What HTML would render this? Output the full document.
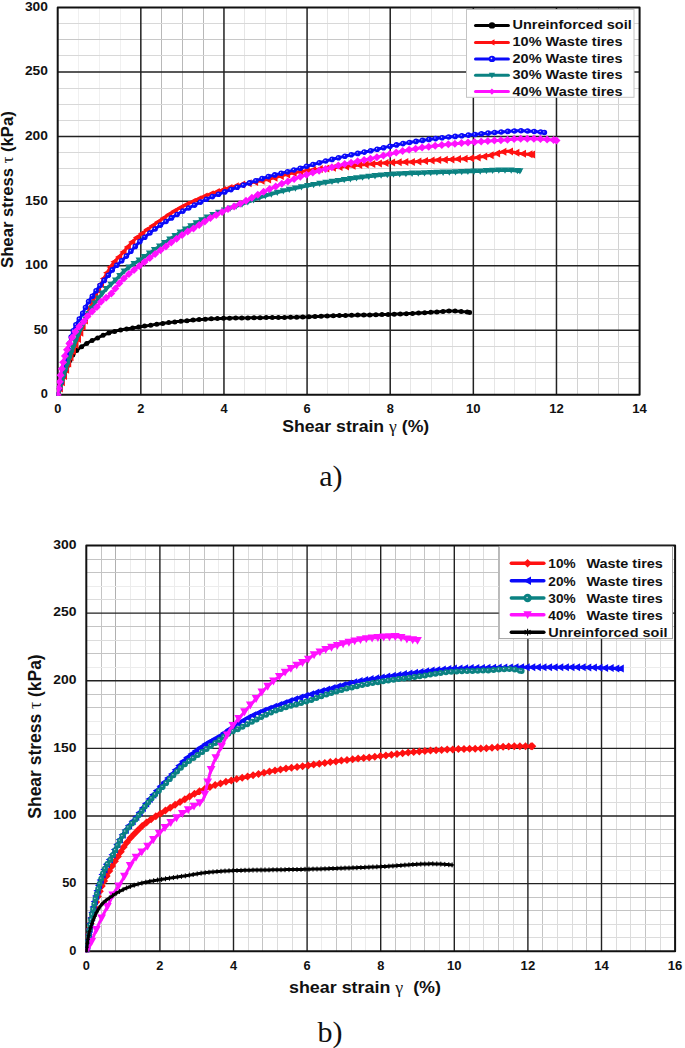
<!DOCTYPE html>
<html><head><meta charset="utf-8"><style>
html,body{margin:0;padding:0;background:#fff;width:685px;height:1048px;overflow:hidden}

</style></head><body>
<svg width="685" height="1048" viewBox="0 0 685 1048" style="display:block">
<rect width="685" height="1048" fill="#fff"/>
<path d="M78.50 7.46V394.85" stroke="#f0f0f0" stroke-width="1"/>
<path d="M99.50 7.46V394.85" stroke="#f0f0f0" stroke-width="1"/>
<path d="M120.50 7.46V394.85" stroke="#f0f0f0" stroke-width="1"/>
<path d="M161.50 7.46V394.85" stroke="#b8b8b8" stroke-width="1"/>
<path d="M182.50 7.46V394.85" stroke="#b8b8b8" stroke-width="1"/>
<path d="M203.50 7.46V394.85" stroke="#b8b8b8" stroke-width="1"/>
<path d="M244.50 7.46V394.85" stroke="#e6e6e6" stroke-width="1"/>
<path d="M265.50 7.46V394.85" stroke="#e6e6e6" stroke-width="1"/>
<path d="M286.50 7.46V394.85" stroke="#e6e6e6" stroke-width="1"/>
<path d="M327.50 7.46V394.85" stroke="#e6e6e6" stroke-width="1"/>
<path d="M348.50 7.46V394.85" stroke="#e6e6e6" stroke-width="1"/>
<path d="M369.50 7.46V394.85" stroke="#e6e6e6" stroke-width="1"/>
<path d="M410.50 7.46V394.85" stroke="#e6e6e6" stroke-width="1"/>
<path d="M431.50 7.46V394.85" stroke="#e6e6e6" stroke-width="1"/>
<path d="M452.50 7.46V394.85" stroke="#e6e6e6" stroke-width="1"/>
<path d="M494.50 7.46V394.85" stroke="#e6e6e6" stroke-width="1"/>
<path d="M514.50 7.46V394.85" stroke="#e6e6e6" stroke-width="1"/>
<path d="M535.50 7.46V394.85" stroke="#e6e6e6" stroke-width="1"/>
<path d="M577.50 7.46V394.85" stroke="#d2d2d2" stroke-width="1"/>
<path d="M598.50 7.46V394.85" stroke="#d2d2d2" stroke-width="1"/>
<path d="M618.50 7.46V394.85" stroke="#d2d2d2" stroke-width="1"/>
<path d="M57.70 378.50H639.60" stroke="#d8d8d8" stroke-width="1"/>
<path d="M57.70 362.50H639.60" stroke="#d8d8d8" stroke-width="1"/>
<path d="M57.70 346.50H639.60" stroke="#d8d8d8" stroke-width="1"/>
<path d="M57.70 314.50H639.60" stroke="#d8d8d8" stroke-width="1"/>
<path d="M57.70 298.50H639.60" stroke="#d8d8d8" stroke-width="1"/>
<path d="M57.70 281.50H639.60" stroke="#c8c8c8" stroke-width="1"/>
<path d="M57.70 249.50H639.60" stroke="#d8d8d8" stroke-width="1"/>
<path d="M57.70 233.50H639.60" stroke="#d8d8d8" stroke-width="1"/>
<path d="M57.70 217.50H639.60" stroke="#d8d8d8" stroke-width="1"/>
<path d="M57.70 185.50H639.60" stroke="#d8d8d8" stroke-width="1"/>
<path d="M57.70 168.50H639.60" stroke="#d8d8d8" stroke-width="1"/>
<path d="M57.70 152.50H639.60" stroke="#d8d8d8" stroke-width="1"/>
<path d="M57.70 120.50H639.60" stroke="#d8d8d8" stroke-width="1"/>
<path d="M57.70 104.50H639.60" stroke="#d8d8d8" stroke-width="1"/>
<path d="M57.70 88.50H639.60" stroke="#d8d8d8" stroke-width="1"/>
<path d="M57.70 55.50H639.60" stroke="#d8d8d8" stroke-width="1"/>
<path d="M57.70 39.50H639.60" stroke="#c8c8c8" stroke-width="1"/>
<path d="M57.70 23.50H639.60" stroke="#d8d8d8" stroke-width="1"/>
<path d="M140.83 7.46V394.85M223.96 7.46V394.85M307.08 7.46V394.85M390.21 7.46V394.85M473.34 7.46V394.85M556.47 7.46V394.85M57.70 330.29H639.60M57.70 265.72H639.60M57.70 201.16H639.60M57.70 136.59H639.60M57.70 72.03H639.60" stroke="#222" stroke-width="1.5" fill="none"/>
<rect x="57.70" y="7.46" width="581.90" height="387.39" fill="none" stroke="#111" stroke-width="2" stroke-linejoin="round"/>
<clipPath id="ca"><rect x="56.70" y="7.46" width="582.90" height="388.39"/></clipPath><g clip-path="url(#ca)">
<path d="M57.7 394.9 L58.5 391.3 L59.4 388.0 L60.2 384.9 L61.0 382.0 L61.9 379.4 L62.7 377.0 L63.5 374.9 L64.4 372.9 L65.2 370.9 L66.0 369.0 L66.8 367.1 L67.7 365.2 L68.5 363.4 L69.3 361.6 L70.2 360.0 L71.0 358.4 L71.8 356.8 L72.7 355.3 L73.5 354.0 L74.3 352.9 L75.2 352.0 L76.0 351.1 L76.8 350.4 L77.7 349.7 L78.5 349.0 L79.3 348.4 L80.1 347.8 L81.0 347.2 L81.8 346.6 L82.6 346.1 L83.5 345.5 L84.3 344.9 L85.1 344.4 L86.0 343.9 L86.8 343.4 L87.6 342.9 L88.5 342.4 L89.3 341.9 L90.1 341.5 L91.0 341.1 L91.8 340.7 L92.6 340.3 L93.4 339.9 L94.3 339.5 L95.1 339.1 L95.9 338.7 L96.8 338.3 L97.6 337.9 L98.4 337.5 L99.3 337.1 L100.1 336.7 L100.9 336.3 L101.8 335.9 L102.6 335.5 L103.4 335.2 L104.3 334.8 L105.1 334.5 L105.9 334.1 L106.7 333.8 L107.6 333.5 L108.4 333.2 L109.2 332.9 L110.1 332.7 L110.9 332.4 L111.7 332.2 L112.6 331.9 L113.4 331.7 L114.2 331.5 L115.1 331.3 L115.9 331.0 L116.7 330.8 L117.6 330.6 L118.4 330.5 L119.2 330.3 L120.0 330.1 L120.9 329.9 L121.7 329.8 L122.5 329.6 L123.4 329.5 L124.2 329.3 L125.0 329.2 L125.9 329.1 L126.7 328.9 L127.5 328.8 L128.4 328.7 L129.2 328.5 L130.0 328.4 L130.9 328.3 L131.7 328.1 L132.5 328.0 L133.3 327.9 L134.2 327.7 L135.0 327.6 L135.8 327.5 L136.7 327.4 L137.5 327.2 L138.3 327.1 L139.2 327.0 L140.0 326.9 L140.8 326.7 L141.7 326.6 L142.5 326.5 L143.3 326.3 L144.2 326.2 L145.0 326.1 L145.8 326.0 L146.6 325.8 L147.5 325.7 L148.3 325.6 L149.1 325.4 L150.0 325.3 L150.8 325.2 L151.6 325.0 L152.5 324.9 L153.3 324.8 L154.1 324.6 L155.0 324.5 L155.8 324.4 L156.6 324.3 L157.5 324.2 L158.3 324.0 L159.1 323.9 L159.9 323.8 L160.8 323.7 L161.6 323.6 L162.4 323.5 L163.3 323.4 L164.1 323.2 L164.9 323.1 L165.8 323.0 L166.6 322.9 L167.4 322.8 L168.3 322.7 L169.1 322.6 L169.9 322.5 L170.8 322.4 L171.6 322.3 L172.4 322.2 L173.2 322.1 L174.1 322.0 L174.9 321.9 L175.7 321.8 L176.6 321.7 L177.4 321.6 L178.2 321.5 L179.1 321.5 L179.9 321.4 L180.7 321.3 L181.6 321.2 L182.4 321.1 L183.2 321.0 L184.1 321.0 L184.9 320.9 L185.7 320.8 L186.5 320.7 L187.4 320.6 L188.2 320.5 L189.0 320.5 L189.9 320.4 L190.7 320.3 L191.5 320.2 L192.4 320.1 L193.2 320.1 L194.0 320.0 L194.9 319.9 L195.7 319.9 L196.5 319.8 L197.4 319.7 L198.2 319.7 L199.0 319.6 L199.8 319.5 L200.7 319.5 L201.5 319.4 L202.3 319.4 L203.2 319.3 L204.0 319.3 L204.8 319.2 L205.7 319.2 L206.5 319.1 L207.3 319.1 L208.2 319.0 L209.0 319.0 L209.8 318.9 L210.7 318.9 L211.5 318.8 L212.3 318.8 L213.1 318.7 L214.0 318.7 L214.8 318.7 L215.6 318.6 L216.5 318.6 L217.3 318.5 L218.1 318.5 L219.0 318.5 L219.8 318.4 L220.6 318.4 L221.5 318.4 L222.3 318.4 L223.1 318.3 L224.0 318.3 L224.8 318.3 L225.6 318.3 L226.4 318.2 L227.3 318.2 L228.1 318.2 L228.9 318.2 L229.8 318.2 L230.6 318.2 L231.4 318.1 L232.3 318.1 L233.1 318.1 L233.9 318.1 L234.8 318.1 L235.6 318.1 L236.4 318.0 L237.3 318.0 L238.1 318.0 L238.9 318.0 L239.8 318.0 L240.6 318.0 L241.4 318.0 L242.2 317.9 L243.1 317.9 L243.9 317.9 L244.7 317.9 L245.6 317.9 L246.4 317.9 L247.2 317.9 L248.1 317.9 L248.9 317.9 L249.7 317.8 L250.6 317.8 L251.4 317.8 L252.2 317.8 L253.1 317.8 L253.9 317.8 L254.7 317.8 L255.5 317.8 L256.4 317.8 L257.2 317.7 L258.0 317.7 L258.9 317.7 L259.7 317.7 L260.5 317.7 L261.4 317.7 L262.2 317.7 L263.0 317.7 L263.9 317.7 L264.7 317.6 L265.5 317.6 L266.4 317.6 L267.2 317.6 L268.0 317.6 L268.8 317.6 L269.7 317.6 L270.5 317.6 L271.3 317.5 L272.2 317.5 L273.0 317.5 L273.8 317.5 L274.7 317.5 L275.5 317.5 L276.3 317.5 L277.2 317.5 L278.0 317.5 L278.8 317.5 L279.7 317.4 L280.5 317.4 L281.3 317.4 L282.1 317.4 L283.0 317.4 L283.8 317.4 L284.6 317.4 L285.5 317.4 L286.3 317.4 L287.1 317.3 L288.0 317.3 L288.8 317.3 L289.6 317.3 L290.5 317.3 L291.3 317.3 L292.1 317.3 L293.0 317.3 L293.8 317.2 L294.6 317.2 L295.4 317.2 L296.3 317.2 L297.1 317.2 L297.9 317.2 L298.8 317.1 L299.6 317.1 L300.4 317.1 L301.3 317.1 L302.1 317.1 L302.9 317.0 L303.8 317.0 L304.6 317.0 L305.4 317.0 L306.3 316.9 L307.1 316.9 L307.9 316.9 L308.7 316.8 L309.6 316.8 L310.4 316.8 L311.2 316.7 L312.1 316.7 L312.9 316.6 L313.7 316.6 L314.6 316.6 L315.4 316.5 L316.2 316.5 L317.1 316.5 L317.9 316.4 L318.7 316.4 L319.6 316.3 L320.4 316.3 L321.2 316.2 L322.0 316.2 L322.9 316.2 L323.7 316.1 L324.5 316.1 L325.4 316.1 L326.2 316.0 L327.0 316.0 L327.9 315.9 L328.7 315.9 L329.5 315.9 L330.4 315.8 L331.2 315.8 L332.0 315.8 L332.9 315.7 L333.7 315.7 L334.5 315.7 L335.3 315.7 L336.2 315.6 L337.0 315.6 L337.8 315.6 L338.7 315.6 L339.5 315.5 L340.3 315.5 L341.2 315.5 L342.0 315.5 L342.8 315.5 L343.7 315.4 L344.5 315.4 L345.3 315.4 L346.2 315.4 L347.0 315.4 L347.8 315.3 L348.6 315.3 L349.5 315.3 L350.3 315.3 L351.1 315.3 L352.0 315.3 L352.8 315.2 L353.6 315.2 L354.5 315.2 L355.3 315.2 L356.1 315.2 L357.0 315.2 L357.8 315.1 L358.6 315.1 L359.5 315.1 L360.3 315.1 L361.1 315.1 L361.9 315.1 L362.8 315.0 L363.6 315.0 L364.4 315.0 L365.3 315.0 L366.1 315.0 L366.9 315.0 L367.8 314.9 L368.6 314.9 L369.4 314.9 L370.3 314.9 L371.1 314.9 L371.9 314.9 L372.8 314.8 L373.6 314.8 L374.4 314.8 L375.2 314.8 L376.1 314.8 L376.9 314.7 L377.7 314.7 L378.6 314.7 L379.4 314.7 L380.2 314.7 L381.1 314.6 L381.9 314.6 L382.7 314.6 L383.6 314.6 L384.4 314.5 L385.2 314.5 L386.1 314.5 L386.9 314.5 L387.7 314.4 L388.5 314.4 L389.4 314.4 L390.2 314.4 L391.0 314.3 L391.9 314.3 L392.7 314.3 L393.5 314.2 L394.4 314.2 L395.2 314.2 L396.0 314.1 L396.9 314.1 L397.7 314.1 L398.5 314.0 L399.4 314.0 L400.2 314.0 L401.0 313.9 L401.8 313.9 L402.7 313.9 L403.5 313.8 L404.3 313.8 L405.2 313.7 L406.0 313.7 L406.8 313.7 L407.7 313.6 L408.5 313.6 L409.3 313.5 L410.2 313.5 L411.0 313.4 L411.8 313.4 L412.7 313.3 L413.5 313.3 L414.3 313.3 L415.2 313.2 L416.0 313.2 L416.8 313.1 L417.6 313.1 L418.5 313.0 L419.3 313.0 L420.1 312.9 L421.0 312.9 L421.8 312.8 L422.6 312.8 L423.5 312.7 L424.3 312.7 L425.1 312.6 L426.0 312.6 L426.8 312.5 L427.6 312.5 L428.5 312.4 L429.3 312.4 L430.1 312.3 L430.9 312.3 L431.8 312.2 L432.6 312.2 L433.4 312.1 L434.3 312.1 L435.1 312.0 L435.9 312.0 L436.8 311.9 L437.6 311.9 L438.4 311.8 L439.3 311.8 L440.1 311.7 L440.9 311.6 L441.8 311.5 L442.6 311.5 L443.4 311.4 L444.2 311.3 L445.1 311.3 L445.9 311.2 L446.7 311.1 L447.6 311.1 L448.4 311.1 L449.2 311.1 L450.1 311.0 L450.9 311.0 L451.7 311.1 L452.6 311.1 L453.4 311.1 L454.2 311.1 L455.1 311.1 L455.9 311.2 L456.7 311.2 L457.5 311.2 L458.4 311.3 L459.2 311.3 L460.0 311.4 L460.9 311.4 L461.7 311.5 L462.5 311.6 L463.4 311.7 L464.2 311.8 L465.0 311.8 L465.9 311.9 L466.7 312.1 L467.5 312.2 L468.4 312.3 L469.2 312.4 L469.6 312.5" stroke="#000" stroke-width="3" fill="none" stroke-linejoin="round" stroke-linecap="round"/>
<path d="M55.2 394.9a2.5 2.5 0 1 0 5.0 0a2.5 2.5 0 1 0 -5.0 0ZM56.6 388.9a2.5 2.5 0 1 0 5.0 0a2.5 2.5 0 1 0 -5.0 0ZM58.2 383.0a2.5 2.5 0 1 0 5.0 0a2.5 2.5 0 1 0 -5.0 0ZM60.1 377.2a2.5 2.5 0 1 0 5.0 0a2.5 2.5 0 1 0 -5.0 0ZM62.4 371.6a2.5 2.5 0 1 0 5.0 0a2.5 2.5 0 1 0 -5.0 0ZM64.8 366.0a2.5 2.5 0 1 0 5.0 0a2.5 2.5 0 1 0 -5.0 0ZM67.4 360.5a2.5 2.5 0 1 0 5.0 0a2.5 2.5 0 1 0 -5.0 0ZM70.3 355.1a2.5 2.5 0 1 0 5.0 0a2.5 2.5 0 1 0 -5.0 0ZM74.2 350.5a2.5 2.5 0 1 0 5.0 0a2.5 2.5 0 1 0 -5.0 0ZM79.1 346.8a2.5 2.5 0 1 0 5.0 0a2.5 2.5 0 1 0 -5.0 0ZM84.2 343.4a2.5 2.5 0 1 0 5.0 0a2.5 2.5 0 1 0 -5.0 0ZM89.6 340.6a2.5 2.5 0 1 0 5.0 0a2.5 2.5 0 1 0 -5.0 0ZM95.1 337.9a2.5 2.5 0 1 0 5.0 0a2.5 2.5 0 1 0 -5.0 0ZM100.6 335.3a2.5 2.5 0 1 0 5.0 0a2.5 2.5 0 1 0 -5.0 0ZM106.3 333.1a2.5 2.5 0 1 0 5.0 0a2.5 2.5 0 1 0 -5.0 0ZM112.1 331.4a2.5 2.5 0 1 0 5.0 0a2.5 2.5 0 1 0 -5.0 0ZM118.1 330.0a2.5 2.5 0 1 0 5.0 0a2.5 2.5 0 1 0 -5.0 0ZM124.1 329.0a2.5 2.5 0 1 0 5.0 0a2.5 2.5 0 1 0 -5.0 0ZM130.1 328.0a2.5 2.5 0 1 0 5.0 0a2.5 2.5 0 1 0 -5.0 0ZM136.1 327.1a2.5 2.5 0 1 0 5.0 0a2.5 2.5 0 1 0 -5.0 0ZM142.1 326.1a2.5 2.5 0 1 0 5.0 0a2.5 2.5 0 1 0 -5.0 0ZM148.2 325.2a2.5 2.5 0 1 0 5.0 0a2.5 2.5 0 1 0 -5.0 0ZM154.2 324.3a2.5 2.5 0 1 0 5.0 0a2.5 2.5 0 1 0 -5.0 0ZM160.2 323.4a2.5 2.5 0 1 0 5.0 0a2.5 2.5 0 1 0 -5.0 0ZM166.3 322.6a2.5 2.5 0 1 0 5.0 0a2.5 2.5 0 1 0 -5.0 0ZM172.3 321.9a2.5 2.5 0 1 0 5.0 0a2.5 2.5 0 1 0 -5.0 0ZM178.4 321.3a2.5 2.5 0 1 0 5.0 0a2.5 2.5 0 1 0 -5.0 0ZM184.5 320.7a2.5 2.5 0 1 0 5.0 0a2.5 2.5 0 1 0 -5.0 0ZM190.6 320.1a2.5 2.5 0 1 0 5.0 0a2.5 2.5 0 1 0 -5.0 0ZM196.6 319.6a2.5 2.5 0 1 0 5.0 0a2.5 2.5 0 1 0 -5.0 0ZM202.7 319.2a2.5 2.5 0 1 0 5.0 0a2.5 2.5 0 1 0 -5.0 0ZM208.8 318.8a2.5 2.5 0 1 0 5.0 0a2.5 2.5 0 1 0 -5.0 0ZM214.9 318.5a2.5 2.5 0 1 0 5.0 0a2.5 2.5 0 1 0 -5.0 0ZM221.0 318.3a2.5 2.5 0 1 0 5.0 0a2.5 2.5 0 1 0 -5.0 0ZM227.1 318.2a2.5 2.5 0 1 0 5.0 0a2.5 2.5 0 1 0 -5.0 0ZM233.2 318.1a2.5 2.5 0 1 0 5.0 0a2.5 2.5 0 1 0 -5.0 0ZM239.3 318.0a2.5 2.5 0 1 0 5.0 0a2.5 2.5 0 1 0 -5.0 0ZM245.4 317.9a2.5 2.5 0 1 0 5.0 0a2.5 2.5 0 1 0 -5.0 0ZM251.5 317.8a2.5 2.5 0 1 0 5.0 0a2.5 2.5 0 1 0 -5.0 0ZM257.6 317.7a2.5 2.5 0 1 0 5.0 0a2.5 2.5 0 1 0 -5.0 0ZM263.7 317.6a2.5 2.5 0 1 0 5.0 0a2.5 2.5 0 1 0 -5.0 0ZM269.8 317.5a2.5 2.5 0 1 0 5.0 0a2.5 2.5 0 1 0 -5.0 0ZM275.9 317.5a2.5 2.5 0 1 0 5.0 0a2.5 2.5 0 1 0 -5.0 0ZM282.0 317.4a2.5 2.5 0 1 0 5.0 0a2.5 2.5 0 1 0 -5.0 0ZM288.1 317.3a2.5 2.5 0 1 0 5.0 0a2.5 2.5 0 1 0 -5.0 0ZM294.2 317.2a2.5 2.5 0 1 0 5.0 0a2.5 2.5 0 1 0 -5.0 0ZM300.3 317.0a2.5 2.5 0 1 0 5.0 0a2.5 2.5 0 1 0 -5.0 0ZM306.4 316.8a2.5 2.5 0 1 0 5.0 0a2.5 2.5 0 1 0 -5.0 0ZM312.5 316.6a2.5 2.5 0 1 0 5.0 0a2.5 2.5 0 1 0 -5.0 0ZM318.6 316.3a2.5 2.5 0 1 0 5.0 0a2.5 2.5 0 1 0 -5.0 0ZM324.7 316.0a2.5 2.5 0 1 0 5.0 0a2.5 2.5 0 1 0 -5.0 0ZM330.8 315.7a2.5 2.5 0 1 0 5.0 0a2.5 2.5 0 1 0 -5.0 0ZM336.9 315.6a2.5 2.5 0 1 0 5.0 0a2.5 2.5 0 1 0 -5.0 0ZM343.0 315.4a2.5 2.5 0 1 0 5.0 0a2.5 2.5 0 1 0 -5.0 0ZM349.1 315.3a2.5 2.5 0 1 0 5.0 0a2.5 2.5 0 1 0 -5.0 0ZM355.2 315.1a2.5 2.5 0 1 0 5.0 0a2.5 2.5 0 1 0 -5.0 0ZM361.3 315.0a2.5 2.5 0 1 0 5.0 0a2.5 2.5 0 1 0 -5.0 0ZM367.3 314.9a2.5 2.5 0 1 0 5.0 0a2.5 2.5 0 1 0 -5.0 0ZM373.4 314.8a2.5 2.5 0 1 0 5.0 0a2.5 2.5 0 1 0 -5.0 0ZM379.5 314.6a2.5 2.5 0 1 0 5.0 0a2.5 2.5 0 1 0 -5.0 0ZM385.6 314.4a2.5 2.5 0 1 0 5.0 0a2.5 2.5 0 1 0 -5.0 0ZM391.7 314.2a2.5 2.5 0 1 0 5.0 0a2.5 2.5 0 1 0 -5.0 0ZM397.8 314.0a2.5 2.5 0 1 0 5.0 0a2.5 2.5 0 1 0 -5.0 0ZM403.9 313.7a2.5 2.5 0 1 0 5.0 0a2.5 2.5 0 1 0 -5.0 0ZM410.0 313.4a2.5 2.5 0 1 0 5.0 0a2.5 2.5 0 1 0 -5.0 0ZM416.1 313.0a2.5 2.5 0 1 0 5.0 0a2.5 2.5 0 1 0 -5.0 0ZM422.2 312.7a2.5 2.5 0 1 0 5.0 0a2.5 2.5 0 1 0 -5.0 0ZM428.3 312.3a2.5 2.5 0 1 0 5.0 0a2.5 2.5 0 1 0 -5.0 0ZM434.4 311.9a2.5 2.5 0 1 0 5.0 0a2.5 2.5 0 1 0 -5.0 0ZM440.5 311.4a2.5 2.5 0 1 0 5.0 0a2.5 2.5 0 1 0 -5.0 0ZM446.5 311.1a2.5 2.5 0 1 0 5.0 0a2.5 2.5 0 1 0 -5.0 0ZM452.6 311.1a2.5 2.5 0 1 0 5.0 0a2.5 2.5 0 1 0 -5.0 0ZM458.7 311.5a2.5 2.5 0 1 0 5.0 0a2.5 2.5 0 1 0 -5.0 0ZM464.8 312.1a2.5 2.5 0 1 0 5.0 0a2.5 2.5 0 1 0 -5.0 0ZM467.1 312.5a2.5 2.5 0 1 0 5.0 0a2.5 2.5 0 1 0 -5.0 0Z" fill="#000"/>
<path d="M57.7 394.9 L58.5 392.2 L59.4 389.5 L60.2 386.9 L61.0 384.3 L61.9 381.8 L62.7 379.2 L63.5 376.7 L64.4 374.2 L65.2 371.8 L66.0 369.3 L66.8 366.8 L67.7 364.4 L68.5 362.1 L69.3 359.8 L70.2 357.6 L71.0 355.5 L71.8 353.4 L72.7 351.4 L73.5 349.4 L74.3 347.4 L75.2 345.5 L76.0 343.5 L76.8 341.4 L77.7 339.3 L78.5 337.2 L79.3 335.0 L80.1 332.8 L81.0 330.5 L81.8 328.3 L82.6 326.0 L83.5 323.8 L84.3 321.6 L85.1 319.4 L86.0 317.1 L86.8 314.9 L87.6 312.7 L88.5 310.6 L89.3 308.6 L90.1 306.7 L91.0 304.8 L91.8 302.9 L92.6 301.1 L93.4 299.3 L94.3 297.6 L95.1 295.8 L95.9 294.1 L96.8 292.4 L97.6 290.7 L98.4 289.0 L99.3 287.3 L100.1 285.7 L100.9 284.1 L101.8 282.4 L102.6 280.8 L103.4 279.3 L104.3 277.7 L105.1 276.2 L105.9 274.7 L106.7 273.3 L107.6 271.8 L108.4 270.4 L109.2 269.0 L110.1 267.6 L110.9 266.3 L111.7 265.1 L112.6 263.9 L113.4 262.9 L114.2 261.9 L115.1 261.0 L115.9 260.1 L116.7 259.2 L117.6 258.4 L118.4 257.5 L119.2 256.7 L120.0 255.8 L120.9 254.9 L121.7 253.9 L122.5 253.0 L123.4 252.0 L124.2 251.1 L125.0 250.1 L125.9 249.1 L126.7 248.2 L127.5 247.2 L128.4 246.3 L129.2 245.3 L130.0 244.4 L130.9 243.5 L131.7 242.6 L132.5 241.7 L133.3 240.9 L134.2 240.0 L135.0 239.2 L135.8 238.5 L136.7 237.7 L137.5 237.0 L138.3 236.3 L139.2 235.6 L140.0 234.9 L140.8 234.3 L141.7 233.6 L142.5 233.0 L143.3 232.3 L144.2 231.7 L145.0 231.1 L145.8 230.5 L146.6 229.9 L147.5 229.3 L148.3 228.7 L149.1 228.1 L150.0 227.6 L150.8 227.0 L151.6 226.4 L152.5 225.8 L153.3 225.3 L154.1 224.7 L155.0 224.1 L155.8 223.5 L156.6 222.9 L157.5 222.4 L158.3 221.8 L159.1 221.2 L159.9 220.6 L160.8 220.1 L161.6 219.5 L162.4 218.9 L163.3 218.4 L164.1 217.8 L164.9 217.2 L165.8 216.7 L166.6 216.1 L167.4 215.6 L168.3 215.0 L169.1 214.5 L169.9 214.0 L170.8 213.4 L171.6 212.9 L172.4 212.4 L173.2 211.9 L174.1 211.4 L174.9 210.9 L175.7 210.4 L176.6 209.9 L177.4 209.5 L178.2 209.0 L179.1 208.5 L179.9 208.1 L180.7 207.6 L181.6 207.2 L182.4 206.8 L183.2 206.3 L184.1 205.9 L184.9 205.5 L185.7 205.0 L186.5 204.6 L187.4 204.2 L188.2 203.8 L189.0 203.4 L189.9 203.0 L190.7 202.6 L191.5 202.2 L192.4 201.8 L193.2 201.4 L194.0 201.0 L194.9 200.7 L195.7 200.3 L196.5 199.9 L197.4 199.6 L198.2 199.2 L199.0 198.8 L199.8 198.5 L200.7 198.1 L201.5 197.8 L202.3 197.4 L203.2 197.1 L204.0 196.7 L204.8 196.4 L205.7 196.1 L206.5 195.7 L207.3 195.4 L208.2 195.1 L209.0 194.7 L209.8 194.4 L210.7 194.1 L211.5 193.8 L212.3 193.5 L213.1 193.2 L214.0 192.9 L214.8 192.6 L215.6 192.3 L216.5 192.0 L217.3 191.7 L218.1 191.5 L219.0 191.2 L219.8 190.9 L220.6 190.6 L221.5 190.4 L222.3 190.1 L223.1 189.8 L224.0 189.6 L224.8 189.3 L225.6 189.1 L226.4 188.8 L227.3 188.6 L228.1 188.3 L228.9 188.1 L229.8 187.8 L230.6 187.6 L231.4 187.4 L232.3 187.1 L233.1 186.9 L233.9 186.7 L234.8 186.4 L235.6 186.2 L236.4 186.0 L237.3 185.8 L238.1 185.6 L238.9 185.4 L239.8 185.2 L240.6 185.0 L241.4 184.8 L242.2 184.6 L243.1 184.4 L243.9 184.2 L244.7 184.0 L245.6 183.8 L246.4 183.6 L247.2 183.5 L248.1 183.3 L248.9 183.1 L249.7 183.0 L250.6 182.8 L251.4 182.7 L252.2 182.5 L253.1 182.3 L253.9 182.2 L254.7 182.0 L255.5 181.9 L256.4 181.7 L257.2 181.6 L258.0 181.4 L258.9 181.2 L259.7 181.1 L260.5 180.9 L261.4 180.8 L262.2 180.6 L263.0 180.4 L263.9 180.3 L264.7 180.1 L265.5 179.9 L266.4 179.7 L267.2 179.6 L268.0 179.4 L268.8 179.2 L269.7 179.0 L270.5 178.8 L271.3 178.6 L272.2 178.4 L273.0 178.1 L273.8 177.9 L274.7 177.7 L275.5 177.5 L276.3 177.2 L277.2 177.0 L278.0 176.8 L278.8 176.6 L279.7 176.3 L280.5 176.1 L281.3 175.9 L282.1 175.6 L283.0 175.4 L283.8 175.2 L284.6 175.0 L285.5 174.8 L286.3 174.5 L287.1 174.3 L288.0 174.1 L288.8 173.9 L289.6 173.7 L290.5 173.6 L291.3 173.4 L292.1 173.2 L293.0 173.0 L293.8 172.9 L294.6 172.7 L295.4 172.6 L296.3 172.4 L297.1 172.3 L297.9 172.1 L298.8 172.0 L299.6 171.9 L300.4 171.7 L301.3 171.6 L302.1 171.5 L302.9 171.3 L303.8 171.2 L304.6 171.1 L305.4 171.0 L306.3 170.8 L307.1 170.7 L307.9 170.6 L308.7 170.5 L309.6 170.4 L310.4 170.3 L311.2 170.1 L312.1 170.0 L312.9 169.9 L313.7 169.8 L314.6 169.7 L315.4 169.6 L316.2 169.5 L317.1 169.4 L317.9 169.3 L318.7 169.2 L319.6 169.1 L320.4 169.0 L321.2 168.9 L322.0 168.8 L322.9 168.7 L323.7 168.6 L324.5 168.5 L325.4 168.4 L326.2 168.4 L327.0 168.3 L327.9 168.2 L328.7 168.1 L329.5 168.0 L330.4 167.9 L331.2 167.9 L332.0 167.8 L332.9 167.7 L333.7 167.6 L334.5 167.6 L335.3 167.5 L336.2 167.4 L337.0 167.3 L337.8 167.2 L338.7 167.2 L339.5 167.1 L340.3 167.0 L341.2 166.9 L342.0 166.9 L342.8 166.8 L343.7 166.7 L344.5 166.6 L345.3 166.5 L346.2 166.5 L347.0 166.4 L347.8 166.3 L348.6 166.2 L349.5 166.1 L350.3 166.0 L351.1 166.0 L352.0 165.9 L352.8 165.8 L353.6 165.7 L354.5 165.6 L355.3 165.5 L356.1 165.4 L357.0 165.3 L357.8 165.3 L358.6 165.2 L359.5 165.1 L360.3 165.0 L361.1 164.9 L361.9 164.8 L362.8 164.7 L363.6 164.7 L364.4 164.6 L365.3 164.5 L366.1 164.4 L366.9 164.3 L367.8 164.3 L368.6 164.2 L369.4 164.1 L370.3 164.0 L371.1 164.0 L371.9 163.9 L372.8 163.8 L373.6 163.8 L374.4 163.7 L375.2 163.6 L376.1 163.6 L376.9 163.5 L377.7 163.4 L378.6 163.4 L379.4 163.3 L380.2 163.2 L381.1 163.2 L381.9 163.1 L382.7 163.1 L383.6 163.0 L384.4 162.9 L385.2 162.9 L386.1 162.8 L386.9 162.8 L387.7 162.7 L388.5 162.7 L389.4 162.6 L390.2 162.6 L391.0 162.5 L391.9 162.5 L392.7 162.5 L393.5 162.4 L394.4 162.4 L395.2 162.4 L396.0 162.3 L396.9 162.3 L397.7 162.3 L398.5 162.3 L399.4 162.3 L400.2 162.3 L401.0 162.2 L401.8 162.2 L402.7 162.2 L403.5 162.2 L404.3 162.2 L405.2 162.1 L406.0 162.1 L406.8 162.1 L407.7 162.1 L408.5 162.1 L409.3 162.0 L410.2 162.0 L411.0 162.0 L411.8 161.9 L412.7 161.9 L413.5 161.8 L414.3 161.8 L415.2 161.7 L416.0 161.7 L416.8 161.6 L417.6 161.6 L418.5 161.5 L419.3 161.5 L420.1 161.4 L421.0 161.3 L421.8 161.3 L422.6 161.2 L423.5 161.1 L424.3 161.1 L425.1 161.0 L426.0 160.9 L426.8 160.9 L427.6 160.8 L428.5 160.7 L429.3 160.6 L430.1 160.6 L430.9 160.5 L431.8 160.5 L432.6 160.4 L433.4 160.3 L434.3 160.3 L435.1 160.2 L435.9 160.1 L436.8 160.1 L437.6 160.0 L438.4 160.0 L439.3 159.9 L440.1 159.9 L440.9 159.8 L441.8 159.8 L442.6 159.8 L443.4 159.7 L444.2 159.7 L445.1 159.7 L445.9 159.6 L446.7 159.6 L447.6 159.5 L448.4 159.5 L449.2 159.5 L450.1 159.4 L450.9 159.4 L451.7 159.4 L452.6 159.3 L453.4 159.3 L454.2 159.3 L455.1 159.2 L455.9 159.2 L456.7 159.2 L457.5 159.1 L458.4 159.1 L459.2 159.1 L460.0 159.0 L460.9 159.0 L461.7 158.9 L462.5 158.9 L463.4 158.8 L464.2 158.8 L465.0 158.7 L465.9 158.7 L466.7 158.6 L467.5 158.6 L468.4 158.5 L469.2 158.4 L470.0 158.4 L470.8 158.3 L471.7 158.2 L472.5 158.1 L473.3 158.0 L474.2 157.9 L475.0 157.8 L475.8 157.7 L476.7 157.6 L477.5 157.5 L478.3 157.3 L479.2 157.2 L480.0 157.1 L480.8 157.0 L481.7 156.8 L482.5 156.7 L483.3 156.5 L484.1 156.4 L485.0 156.3 L485.8 156.1 L486.6 156.0 L487.5 155.8 L488.3 155.7 L489.1 155.5 L490.0 155.4 L490.8 155.2 L491.6 155.0 L492.5 154.8 L493.3 154.5 L494.1 154.3 L495.0 154.1 L495.8 153.8 L496.6 153.6 L497.4 153.3 L498.3 153.1 L499.1 152.8 L499.9 152.6 L500.8 152.4 L501.6 152.2 L502.4 152.0 L503.3 151.8 L504.1 151.7 L504.9 151.6 L505.8 151.5 L506.6 151.4 L507.4 151.3 L508.3 151.3 L509.1 151.3 L509.9 151.4 L510.7 151.5 L511.6 151.7 L512.4 151.8 L513.2 152.0 L514.1 152.2 L514.9 152.4 L515.7 152.6 L516.6 152.8 L517.4 153.0 L518.2 153.2 L519.1 153.4 L519.9 153.5 L520.7 153.6 L521.6 153.7 L522.4 153.8 L523.2 153.9 L524.0 154.0 L524.9 154.0 L525.7 154.1 L526.5 154.2 L527.4 154.2 L528.2 154.3 L529.0 154.3 L529.9 154.4 L530.7 154.4 L531.5 154.4 L531.9 154.4" stroke="#ff1111" stroke-width="3" fill="none" stroke-linejoin="round" stroke-linecap="round"/>
<path d="M53.7 394.9L60.9 390.9L60.9 398.9ZM55.7 388.6L62.9 384.6L62.9 392.6ZM57.7 382.3L64.9 378.3L64.9 386.3ZM59.8 376.0L67.0 372.0L67.0 380.0ZM61.9 369.7L69.1 365.7L69.1 373.7ZM64.0 363.5L71.2 359.5L71.2 367.5ZM66.3 357.3L73.5 353.3L73.5 361.3ZM68.7 351.2L75.9 347.2L75.9 355.2ZM71.3 345.1L78.5 341.1L78.5 349.1ZM73.8 339.0L81.0 335.0L81.0 343.0ZM76.1 332.8L83.3 328.8L83.3 336.8ZM78.4 326.6L85.6 322.6L85.6 330.6ZM80.7 320.4L87.9 316.4L87.9 324.4ZM83.0 314.3L90.2 310.3L90.2 318.3ZM85.5 308.1L92.7 304.1L92.7 312.1ZM88.2 302.1L95.4 298.1L95.4 306.1ZM91.0 296.1L98.2 292.1L98.2 300.1ZM93.9 290.2L101.1 286.2L101.1 294.2ZM96.8 284.3L104.0 280.3L104.0 288.3ZM99.9 278.4L107.1 274.4L107.1 282.4ZM103.1 272.7L110.3 268.7L110.3 276.7ZM106.5 267.0L113.7 263.0L113.7 271.0ZM110.4 261.7L117.6 257.7L117.6 265.7ZM115.0 256.9L122.2 252.9L122.2 260.9ZM119.4 252.0L126.6 248.0L126.6 256.0ZM123.7 247.0L130.9 243.0L130.9 251.0ZM128.1 242.1L135.3 238.1L135.3 246.1ZM132.9 237.6L140.1 233.6L140.1 241.6ZM138.0 233.4L145.2 229.4L145.2 237.4ZM143.3 229.5L150.5 225.5L150.5 233.5ZM148.7 225.7L155.9 221.7L155.9 229.7ZM154.1 221.9L161.3 217.9L161.3 225.9ZM159.5 218.2L166.7 214.2L166.7 222.2ZM165.0 214.5L172.2 210.5L172.2 218.5ZM170.6 211.1L177.8 207.1L177.8 215.1ZM176.4 207.8L183.6 203.8L183.6 211.8ZM182.2 204.8L189.4 200.8L189.4 208.8ZM188.2 201.9L195.4 197.9L195.4 205.9ZM194.2 199.2L201.4 195.2L201.4 203.2ZM200.3 196.6L207.5 192.6L207.5 200.6ZM206.4 194.2L213.6 190.2L213.6 198.2ZM212.6 192.0L219.8 188.0L219.8 196.0ZM218.9 189.9L226.1 185.9L226.1 193.9ZM225.2 188.0L232.4 184.0L232.4 192.0ZM231.6 186.2L238.8 182.2L238.8 190.2ZM238.0 184.6L245.2 180.6L245.2 188.6ZM244.4 183.2L251.6 179.2L251.6 187.2ZM250.9 182.0L258.1 178.0L258.1 186.0ZM257.4 180.8L264.6 176.8L264.6 184.8ZM263.9 179.4L271.1 175.4L271.1 183.4ZM270.3 177.8L277.5 173.8L277.5 181.8ZM276.6 176.1L283.8 172.1L283.8 180.1ZM283.0 174.4L290.2 170.4L290.2 178.4ZM289.5 172.9L296.7 168.9L296.7 176.9ZM296.0 171.8L303.2 167.8L303.2 175.8ZM302.5 170.8L309.7 166.8L309.7 174.8ZM309.0 169.9L316.2 165.9L316.2 173.9ZM315.6 169.1L322.8 165.1L322.8 173.1ZM322.1 168.4L329.3 164.4L329.3 172.4ZM328.7 167.7L335.9 163.7L335.9 171.7ZM335.3 167.1L342.5 163.1L342.5 171.1ZM341.8 166.5L349.0 162.5L349.0 170.5ZM348.4 165.8L355.6 161.8L355.6 169.8ZM355.0 165.1L362.2 161.1L362.2 169.1ZM361.5 164.5L368.7 160.5L368.7 168.5ZM368.1 163.9L375.3 159.9L375.3 167.9ZM374.7 163.4L381.9 159.4L381.9 167.4ZM381.3 162.9L388.5 158.9L388.5 166.9ZM387.9 162.5L395.1 158.5L395.1 166.5ZM394.5 162.3L401.7 158.3L401.7 166.3ZM401.1 162.1L408.3 158.1L408.3 166.1ZM407.7 161.9L414.9 157.9L414.9 165.9ZM414.2 161.5L421.4 157.5L421.4 165.5ZM420.8 161.0L428.0 157.0L428.0 165.0ZM427.4 160.5L434.6 156.5L434.6 164.5ZM434.0 160.0L441.2 156.0L441.2 164.0ZM440.6 159.7L447.8 155.7L447.8 163.7ZM447.2 159.4L454.4 155.4L454.4 163.4ZM453.8 159.1L461.0 155.1L461.0 163.1ZM460.4 158.8L467.6 154.8L467.6 162.8ZM466.9 158.3L474.1 154.3L474.1 162.3ZM473.5 157.5L480.7 153.5L480.7 161.5ZM480.0 156.4L487.2 152.4L487.2 160.4ZM486.5 155.3L493.7 151.3L493.7 159.3ZM492.9 153.5L500.1 149.5L500.1 157.5ZM499.2 151.8L506.4 147.8L506.4 155.8ZM505.8 151.4L513.0 147.4L513.0 155.4ZM512.2 152.8L519.4 148.8L519.4 156.8ZM518.8 153.8L526.0 149.8L526.0 157.8ZM525.3 154.3L532.5 150.3L532.5 158.3ZM527.9 154.4L535.1 150.4L535.1 158.4Z" fill="#ff1111"/>
<path d="M57.7 394.9 L58.5 392.2 L59.4 389.5 L60.2 386.6 L61.0 383.7 L61.9 380.6 L62.7 377.6 L63.5 374.4 L64.4 371.1 L65.2 367.6 L66.0 363.9 L66.8 359.4 L67.7 354.4 L68.5 349.2 L69.3 344.4 L70.2 340.6 L71.0 337.6 L71.8 334.9 L72.7 332.5 L73.5 330.3 L74.3 328.3 L75.2 326.4 L76.0 324.7 L76.8 323.1 L77.7 321.7 L78.5 320.4 L79.3 319.1 L80.1 317.8 L81.0 316.5 L81.8 315.0 L82.6 313.5 L83.5 311.8 L84.3 310.0 L85.1 308.2 L86.0 306.5 L86.8 304.8 L87.6 303.2 L88.5 301.8 L89.3 300.5 L90.1 299.2 L91.0 298.0 L91.8 296.8 L92.6 295.7 L93.4 294.5 L94.3 293.4 L95.1 292.2 L95.9 291.0 L96.8 289.8 L97.6 288.7 L98.4 287.5 L99.3 286.4 L100.1 285.3 L100.9 284.3 L101.8 283.3 L102.6 282.3 L103.4 281.3 L104.3 280.3 L105.1 279.3 L105.9 278.3 L106.7 277.3 L107.6 276.2 L108.4 275.1 L109.2 274.0 L110.1 272.8 L110.9 271.7 L111.7 270.6 L112.6 269.6 L113.4 268.5 L114.2 267.6 L115.1 266.8 L115.9 266.0 L116.7 265.2 L117.6 264.5 L118.4 263.8 L119.2 263.1 L120.0 262.3 L120.9 261.6 L121.7 260.8 L122.5 260.0 L123.4 259.1 L124.2 258.3 L125.0 257.5 L125.9 256.6 L126.7 255.8 L127.5 254.9 L128.4 254.0 L129.2 253.2 L130.0 252.3 L130.9 251.3 L131.7 250.4 L132.5 249.5 L133.3 248.5 L134.2 247.6 L135.0 246.7 L135.8 245.8 L136.7 244.9 L137.5 244.0 L138.3 243.1 L139.2 242.3 L140.0 241.4 L140.8 240.7 L141.7 239.9 L142.5 239.2 L143.3 238.4 L144.2 237.7 L145.0 237.0 L145.8 236.3 L146.6 235.6 L147.5 234.9 L148.3 234.2 L149.1 233.5 L150.0 232.9 L150.8 232.2 L151.6 231.6 L152.5 230.9 L153.3 230.3 L154.1 229.7 L155.0 229.1 L155.8 228.4 L156.6 227.8 L157.5 227.2 L158.3 226.6 L159.1 226.1 L159.9 225.5 L160.8 224.9 L161.6 224.3 L162.4 223.8 L163.3 223.2 L164.1 222.7 L164.9 222.1 L165.8 221.6 L166.6 221.1 L167.4 220.5 L168.3 220.0 L169.1 219.5 L169.9 218.9 L170.8 218.4 L171.6 217.9 L172.4 217.4 L173.2 216.9 L174.1 216.3 L174.9 215.8 L175.7 215.3 L176.6 214.8 L177.4 214.3 L178.2 213.8 L179.1 213.3 L179.9 212.8 L180.7 212.3 L181.6 211.9 L182.4 211.4 L183.2 210.9 L184.1 210.5 L184.9 210.0 L185.7 209.6 L186.5 209.1 L187.4 208.7 L188.2 208.3 L189.0 207.9 L189.9 207.4 L190.7 207.0 L191.5 206.6 L192.4 206.2 L193.2 205.8 L194.0 205.4 L194.9 205.0 L195.7 204.5 L196.5 204.1 L197.4 203.7 L198.2 203.3 L199.0 202.9 L199.8 202.5 L200.7 202.1 L201.5 201.6 L202.3 201.2 L203.2 200.8 L204.0 200.4 L204.8 200.0 L205.7 199.6 L206.5 199.2 L207.3 198.8 L208.2 198.4 L209.0 198.1 L209.8 197.7 L210.7 197.3 L211.5 197.0 L212.3 196.6 L213.1 196.3 L214.0 196.0 L214.8 195.6 L215.6 195.3 L216.5 195.0 L217.3 194.7 L218.1 194.4 L219.0 194.1 L219.8 193.8 L220.6 193.5 L221.5 193.2 L222.3 192.9 L223.1 192.6 L224.0 192.2 L224.8 191.9 L225.6 191.6 L226.4 191.3 L227.3 191.0 L228.1 190.7 L228.9 190.4 L229.8 190.1 L230.6 189.8 L231.4 189.4 L232.3 189.1 L233.1 188.8 L233.9 188.5 L234.8 188.2 L235.6 187.9 L236.4 187.6 L237.3 187.3 L238.1 187.0 L238.9 186.7 L239.8 186.4 L240.6 186.1 L241.4 185.8 L242.2 185.5 L243.1 185.2 L243.9 184.9 L244.7 184.6 L245.6 184.3 L246.4 184.0 L247.2 183.7 L248.1 183.4 L248.9 183.1 L249.7 182.8 L250.6 182.5 L251.4 182.2 L252.2 181.9 L253.1 181.6 L253.9 181.4 L254.7 181.1 L255.5 180.8 L256.4 180.5 L257.2 180.2 L258.0 179.9 L258.9 179.6 L259.7 179.4 L260.5 179.1 L261.4 178.8 L262.2 178.6 L263.0 178.3 L263.9 178.0 L264.7 177.8 L265.5 177.5 L266.4 177.3 L267.2 177.0 L268.0 176.8 L268.8 176.5 L269.7 176.3 L270.5 176.0 L271.3 175.8 L272.2 175.6 L273.0 175.4 L273.8 175.1 L274.7 174.9 L275.5 174.7 L276.3 174.5 L277.2 174.3 L278.0 174.1 L278.8 173.9 L279.7 173.6 L280.5 173.4 L281.3 173.2 L282.1 173.0 L283.0 172.8 L283.8 172.6 L284.6 172.4 L285.5 172.2 L286.3 172.0 L287.1 171.8 L288.0 171.6 L288.8 171.4 L289.6 171.1 L290.5 170.9 L291.3 170.7 L292.1 170.5 L293.0 170.3 L293.8 170.0 L294.6 169.8 L295.4 169.6 L296.3 169.3 L297.1 169.1 L297.9 168.9 L298.8 168.6 L299.6 168.4 L300.4 168.2 L301.3 167.9 L302.1 167.7 L302.9 167.4 L303.8 167.2 L304.6 166.9 L305.4 166.7 L306.3 166.5 L307.1 166.2 L307.9 166.0 L308.7 165.7 L309.6 165.5 L310.4 165.2 L311.2 165.0 L312.1 164.7 L312.9 164.5 L313.7 164.3 L314.6 164.0 L315.4 163.8 L316.2 163.6 L317.1 163.3 L317.9 163.1 L318.7 162.9 L319.6 162.6 L320.4 162.4 L321.2 162.2 L322.0 162.0 L322.9 161.8 L323.7 161.5 L324.5 161.3 L325.4 161.1 L326.2 160.9 L327.0 160.7 L327.9 160.4 L328.7 160.2 L329.5 160.0 L330.4 159.8 L331.2 159.6 L332.0 159.4 L332.9 159.2 L333.7 158.9 L334.5 158.7 L335.3 158.5 L336.2 158.3 L337.0 158.1 L337.8 157.9 L338.7 157.7 L339.5 157.5 L340.3 157.3 L341.2 157.1 L342.0 156.9 L342.8 156.7 L343.7 156.5 L344.5 156.3 L345.3 156.1 L346.2 155.9 L347.0 155.7 L347.8 155.5 L348.6 155.4 L349.5 155.2 L350.3 155.0 L351.1 154.8 L352.0 154.6 L352.8 154.5 L353.6 154.3 L354.5 154.1 L355.3 153.9 L356.1 153.8 L357.0 153.6 L357.8 153.4 L358.6 153.2 L359.5 153.1 L360.3 152.9 L361.1 152.7 L361.9 152.6 L362.8 152.4 L363.6 152.2 L364.4 152.0 L365.3 151.9 L366.1 151.7 L366.9 151.5 L367.8 151.4 L368.6 151.2 L369.4 151.0 L370.3 150.8 L371.1 150.6 L371.9 150.5 L372.8 150.3 L373.6 150.1 L374.4 149.9 L375.2 149.7 L376.1 149.5 L376.9 149.3 L377.7 149.1 L378.6 148.9 L379.4 148.7 L380.2 148.5 L381.1 148.3 L381.9 148.1 L382.7 147.9 L383.6 147.7 L384.4 147.5 L385.2 147.3 L386.1 147.1 L386.9 146.9 L387.7 146.7 L388.5 146.6 L389.4 146.4 L390.2 146.2 L391.0 146.0 L391.9 145.8 L392.7 145.6 L393.5 145.5 L394.4 145.3 L395.2 145.1 L396.0 145.0 L396.9 144.8 L397.7 144.6 L398.5 144.5 L399.4 144.3 L400.2 144.1 L401.0 144.0 L401.8 143.8 L402.7 143.7 L403.5 143.5 L404.3 143.4 L405.2 143.2 L406.0 143.1 L406.8 143.0 L407.7 142.8 L408.5 142.7 L409.3 142.5 L410.2 142.4 L411.0 142.3 L411.8 142.1 L412.7 142.0 L413.5 141.8 L414.3 141.7 L415.2 141.6 L416.0 141.4 L416.8 141.3 L417.6 141.2 L418.5 141.0 L419.3 140.9 L420.1 140.8 L421.0 140.6 L421.8 140.5 L422.6 140.4 L423.5 140.3 L424.3 140.1 L425.1 140.0 L426.0 139.9 L426.8 139.8 L427.6 139.6 L428.5 139.5 L429.3 139.4 L430.1 139.3 L430.9 139.2 L431.8 139.1 L432.6 138.9 L433.4 138.8 L434.3 138.7 L435.1 138.6 L435.9 138.5 L436.8 138.4 L437.6 138.3 L438.4 138.2 L439.3 138.1 L440.1 138.0 L440.9 137.9 L441.8 137.8 L442.6 137.7 L443.4 137.6 L444.2 137.5 L445.1 137.4 L445.9 137.3 L446.7 137.3 L447.6 137.2 L448.4 137.1 L449.2 137.0 L450.1 136.9 L450.9 136.8 L451.7 136.7 L452.6 136.7 L453.4 136.6 L454.2 136.5 L455.1 136.4 L455.9 136.3 L456.7 136.3 L457.5 136.2 L458.4 136.1 L459.2 136.0 L460.0 135.9 L460.9 135.9 L461.7 135.8 L462.5 135.7 L463.4 135.6 L464.2 135.5 L465.0 135.5 L465.9 135.4 L466.7 135.3 L467.5 135.2 L468.4 135.1 L469.2 135.0 L470.0 135.0 L470.8 134.9 L471.7 134.8 L472.5 134.7 L473.3 134.6 L474.2 134.5 L475.0 134.4 L475.8 134.4 L476.7 134.3 L477.5 134.2 L478.3 134.1 L479.2 134.0 L480.0 133.9 L480.8 133.8 L481.7 133.8 L482.5 133.7 L483.3 133.6 L484.1 133.5 L485.0 133.4 L485.8 133.3 L486.6 133.3 L487.5 133.2 L488.3 133.1 L489.1 133.0 L490.0 132.9 L490.8 132.9 L491.6 132.8 L492.5 132.7 L493.3 132.6 L494.1 132.6 L495.0 132.5 L495.8 132.4 L496.6 132.4 L497.4 132.3 L498.3 132.2 L499.1 132.2 L499.9 132.1 L500.8 132.0 L501.6 131.9 L502.4 131.9 L503.3 131.8 L504.1 131.7 L504.9 131.7 L505.8 131.6 L506.6 131.5 L507.4 131.4 L508.3 131.4 L509.1 131.3 L509.9 131.2 L510.7 131.2 L511.6 131.1 L512.4 131.1 L513.2 131.0 L514.1 131.0 L514.9 130.9 L515.7 130.9 L516.6 130.9 L517.4 130.8 L518.2 130.8 L519.1 130.8 L519.9 130.8 L520.7 130.8 L521.6 130.8 L522.4 130.8 L523.2 130.8 L524.0 130.8 L524.9 130.9 L525.7 130.9 L526.5 131.0 L527.4 131.0 L528.2 131.1 L529.0 131.1 L529.9 131.2 L530.7 131.2 L531.5 131.3 L532.4 131.3 L533.2 131.4 L534.0 131.5 L534.9 131.5 L535.7 131.6 L536.5 131.6 L537.3 131.7 L538.2 131.8 L539.0 131.9 L539.8 132.0 L540.7 132.0 L541.5 132.1 L542.3 132.2 L543.2 132.3 L544.0 132.4 L544.4 132.5" stroke="#0a0afa" stroke-width="3" fill="none" stroke-linejoin="round" stroke-linecap="round"/>
<path d="M54.9 394.9a2.8 2.8 0 1 0 5.6 0a2.8 2.8 0 1 0 -5.6 0ZM56.8 388.5a2.8 2.8 0 1 0 5.6 0a2.8 2.8 0 1 0 -5.6 0ZM58.6 382.2a2.8 2.8 0 1 0 5.6 0a2.8 2.8 0 1 0 -5.6 0ZM60.3 375.8a2.8 2.8 0 1 0 5.6 0a2.8 2.8 0 1 0 -5.6 0ZM62.0 369.4a2.8 2.8 0 1 0 5.6 0a2.8 2.8 0 1 0 -5.6 0ZM63.4 363.0a2.8 2.8 0 1 0 5.6 0a2.8 2.8 0 1 0 -5.6 0ZM64.5 356.5a2.8 2.8 0 1 0 5.6 0a2.8 2.8 0 1 0 -5.6 0ZM65.6 350.0a2.8 2.8 0 1 0 5.6 0a2.8 2.8 0 1 0 -5.6 0ZM66.7 343.5a2.8 2.8 0 1 0 5.6 0a2.8 2.8 0 1 0 -5.6 0ZM68.4 337.1a2.8 2.8 0 1 0 5.6 0a2.8 2.8 0 1 0 -5.6 0ZM70.5 330.8a2.8 2.8 0 1 0 5.6 0a2.8 2.8 0 1 0 -5.6 0ZM73.1 324.8a2.8 2.8 0 1 0 5.6 0a2.8 2.8 0 1 0 -5.6 0ZM76.5 319.1a2.8 2.8 0 1 0 5.6 0a2.8 2.8 0 1 0 -5.6 0ZM79.9 313.4a2.8 2.8 0 1 0 5.6 0a2.8 2.8 0 1 0 -5.6 0ZM82.7 307.5a2.8 2.8 0 1 0 5.6 0a2.8 2.8 0 1 0 -5.6 0ZM85.8 301.6a2.8 2.8 0 1 0 5.6 0a2.8 2.8 0 1 0 -5.6 0ZM89.5 296.2a2.8 2.8 0 1 0 5.6 0a2.8 2.8 0 1 0 -5.6 0ZM93.3 290.8a2.8 2.8 0 1 0 5.6 0a2.8 2.8 0 1 0 -5.6 0ZM97.2 285.5a2.8 2.8 0 1 0 5.6 0a2.8 2.8 0 1 0 -5.6 0ZM101.4 280.4a2.8 2.8 0 1 0 5.6 0a2.8 2.8 0 1 0 -5.6 0ZM105.5 275.2a2.8 2.8 0 1 0 5.6 0a2.8 2.8 0 1 0 -5.6 0ZM109.5 269.9a2.8 2.8 0 1 0 5.6 0a2.8 2.8 0 1 0 -5.6 0ZM114.0 265.2a2.8 2.8 0 1 0 5.6 0a2.8 2.8 0 1 0 -5.6 0ZM118.9 260.8a2.8 2.8 0 1 0 5.6 0a2.8 2.8 0 1 0 -5.6 0ZM123.6 256.1a2.8 2.8 0 1 0 5.6 0a2.8 2.8 0 1 0 -5.6 0ZM128.1 251.3a2.8 2.8 0 1 0 5.6 0a2.8 2.8 0 1 0 -5.6 0ZM132.5 246.4a2.8 2.8 0 1 0 5.6 0a2.8 2.8 0 1 0 -5.6 0ZM137.1 241.6a2.8 2.8 0 1 0 5.6 0a2.8 2.8 0 1 0 -5.6 0ZM142.0 237.2a2.8 2.8 0 1 0 5.6 0a2.8 2.8 0 1 0 -5.6 0ZM147.1 233.0a2.8 2.8 0 1 0 5.6 0a2.8 2.8 0 1 0 -5.6 0ZM152.3 229.0a2.8 2.8 0 1 0 5.6 0a2.8 2.8 0 1 0 -5.6 0ZM157.7 225.1a2.8 2.8 0 1 0 5.6 0a2.8 2.8 0 1 0 -5.6 0ZM163.2 221.5a2.8 2.8 0 1 0 5.6 0a2.8 2.8 0 1 0 -5.6 0ZM168.7 217.9a2.8 2.8 0 1 0 5.6 0a2.8 2.8 0 1 0 -5.6 0ZM174.3 214.5a2.8 2.8 0 1 0 5.6 0a2.8 2.8 0 1 0 -5.6 0ZM180.1 211.1a2.8 2.8 0 1 0 5.6 0a2.8 2.8 0 1 0 -5.6 0ZM185.9 208.0a2.8 2.8 0 1 0 5.6 0a2.8 2.8 0 1 0 -5.6 0ZM191.8 205.1a2.8 2.8 0 1 0 5.6 0a2.8 2.8 0 1 0 -5.6 0ZM197.7 202.1a2.8 2.8 0 1 0 5.6 0a2.8 2.8 0 1 0 -5.6 0ZM203.6 199.3a2.8 2.8 0 1 0 5.6 0a2.8 2.8 0 1 0 -5.6 0ZM209.7 196.6a2.8 2.8 0 1 0 5.6 0a2.8 2.8 0 1 0 -5.6 0ZM215.8 194.2a2.8 2.8 0 1 0 5.6 0a2.8 2.8 0 1 0 -5.6 0ZM222.0 191.9a2.8 2.8 0 1 0 5.6 0a2.8 2.8 0 1 0 -5.6 0ZM228.2 189.6a2.8 2.8 0 1 0 5.6 0a2.8 2.8 0 1 0 -5.6 0ZM234.4 187.3a2.8 2.8 0 1 0 5.6 0a2.8 2.8 0 1 0 -5.6 0ZM240.6 185.1a2.8 2.8 0 1 0 5.6 0a2.8 2.8 0 1 0 -5.6 0ZM246.8 182.9a2.8 2.8 0 1 0 5.6 0a2.8 2.8 0 1 0 -5.6 0ZM253.0 180.7a2.8 2.8 0 1 0 5.6 0a2.8 2.8 0 1 0 -5.6 0ZM259.3 178.6a2.8 2.8 0 1 0 5.6 0a2.8 2.8 0 1 0 -5.6 0ZM265.6 176.6a2.8 2.8 0 1 0 5.6 0a2.8 2.8 0 1 0 -5.6 0ZM272.0 174.9a2.8 2.8 0 1 0 5.6 0a2.8 2.8 0 1 0 -5.6 0ZM278.4 173.3a2.8 2.8 0 1 0 5.6 0a2.8 2.8 0 1 0 -5.6 0ZM284.8 171.7a2.8 2.8 0 1 0 5.6 0a2.8 2.8 0 1 0 -5.6 0ZM291.1 170.0a2.8 2.8 0 1 0 5.6 0a2.8 2.8 0 1 0 -5.6 0ZM297.5 168.2a2.8 2.8 0 1 0 5.6 0a2.8 2.8 0 1 0 -5.6 0ZM303.8 166.3a2.8 2.8 0 1 0 5.6 0a2.8 2.8 0 1 0 -5.6 0ZM310.2 164.5a2.8 2.8 0 1 0 5.6 0a2.8 2.8 0 1 0 -5.6 0ZM316.5 162.7a2.8 2.8 0 1 0 5.6 0a2.8 2.8 0 1 0 -5.6 0ZM322.9 161.0a2.8 2.8 0 1 0 5.6 0a2.8 2.8 0 1 0 -5.6 0ZM329.3 159.4a2.8 2.8 0 1 0 5.6 0a2.8 2.8 0 1 0 -5.6 0ZM335.7 157.8a2.8 2.8 0 1 0 5.6 0a2.8 2.8 0 1 0 -5.6 0ZM342.1 156.2a2.8 2.8 0 1 0 5.6 0a2.8 2.8 0 1 0 -5.6 0ZM348.5 154.8a2.8 2.8 0 1 0 5.6 0a2.8 2.8 0 1 0 -5.6 0ZM355.0 153.4a2.8 2.8 0 1 0 5.6 0a2.8 2.8 0 1 0 -5.6 0ZM361.5 152.1a2.8 2.8 0 1 0 5.6 0a2.8 2.8 0 1 0 -5.6 0ZM367.9 150.7a2.8 2.8 0 1 0 5.6 0a2.8 2.8 0 1 0 -5.6 0ZM374.4 149.3a2.8 2.8 0 1 0 5.6 0a2.8 2.8 0 1 0 -5.6 0ZM380.8 147.7a2.8 2.8 0 1 0 5.6 0a2.8 2.8 0 1 0 -5.6 0ZM387.2 146.2a2.8 2.8 0 1 0 5.6 0a2.8 2.8 0 1 0 -5.6 0ZM393.7 144.9a2.8 2.8 0 1 0 5.6 0a2.8 2.8 0 1 0 -5.6 0ZM400.2 143.6a2.8 2.8 0 1 0 5.6 0a2.8 2.8 0 1 0 -5.6 0ZM406.7 142.5a2.8 2.8 0 1 0 5.6 0a2.8 2.8 0 1 0 -5.6 0ZM413.2 141.4a2.8 2.8 0 1 0 5.6 0a2.8 2.8 0 1 0 -5.6 0ZM419.7 140.4a2.8 2.8 0 1 0 5.6 0a2.8 2.8 0 1 0 -5.6 0ZM426.2 139.4a2.8 2.8 0 1 0 5.6 0a2.8 2.8 0 1 0 -5.6 0ZM432.8 138.6a2.8 2.8 0 1 0 5.6 0a2.8 2.8 0 1 0 -5.6 0ZM439.3 137.8a2.8 2.8 0 1 0 5.6 0a2.8 2.8 0 1 0 -5.6 0ZM445.9 137.0a2.8 2.8 0 1 0 5.6 0a2.8 2.8 0 1 0 -5.6 0ZM452.4 136.4a2.8 2.8 0 1 0 5.6 0a2.8 2.8 0 1 0 -5.6 0ZM459.0 135.8a2.8 2.8 0 1 0 5.6 0a2.8 2.8 0 1 0 -5.6 0ZM465.6 135.1a2.8 2.8 0 1 0 5.6 0a2.8 2.8 0 1 0 -5.6 0ZM472.1 134.5a2.8 2.8 0 1 0 5.6 0a2.8 2.8 0 1 0 -5.6 0ZM478.7 133.8a2.8 2.8 0 1 0 5.6 0a2.8 2.8 0 1 0 -5.6 0ZM485.3 133.1a2.8 2.8 0 1 0 5.6 0a2.8 2.8 0 1 0 -5.6 0ZM491.8 132.5a2.8 2.8 0 1 0 5.6 0a2.8 2.8 0 1 0 -5.6 0ZM498.4 132.0a2.8 2.8 0 1 0 5.6 0a2.8 2.8 0 1 0 -5.6 0ZM505.0 131.4a2.8 2.8 0 1 0 5.6 0a2.8 2.8 0 1 0 -5.6 0ZM511.6 131.0a2.8 2.8 0 1 0 5.6 0a2.8 2.8 0 1 0 -5.6 0ZM518.2 130.8a2.8 2.8 0 1 0 5.6 0a2.8 2.8 0 1 0 -5.6 0ZM524.8 131.0a2.8 2.8 0 1 0 5.6 0a2.8 2.8 0 1 0 -5.6 0ZM531.4 131.5a2.8 2.8 0 1 0 5.6 0a2.8 2.8 0 1 0 -5.6 0ZM537.9 132.0a2.8 2.8 0 1 0 5.6 0a2.8 2.8 0 1 0 -5.6 0ZM541.6 132.5a2.8 2.8 0 1 0 5.6 0a2.8 2.8 0 1 0 -5.6 0Z" fill="#0a0afa"/>
<path d="M56.5 394.2a0.65 0.65 0 1 0 1.3 0a0.65 0.65 0 1 0 -1.3 0ZM58.4 387.9a0.65 0.65 0 1 0 1.3 0a0.65 0.65 0 1 0 -1.3 0ZM60.2 381.6a0.65 0.65 0 1 0 1.3 0a0.65 0.65 0 1 0 -1.3 0ZM61.9 375.2a0.65 0.65 0 1 0 1.3 0a0.65 0.65 0 1 0 -1.3 0ZM63.5 368.8a0.65 0.65 0 1 0 1.3 0a0.65 0.65 0 1 0 -1.3 0ZM64.9 362.4a0.65 0.65 0 1 0 1.3 0a0.65 0.65 0 1 0 -1.3 0ZM66.1 355.9a0.65 0.65 0 1 0 1.3 0a0.65 0.65 0 1 0 -1.3 0ZM67.1 349.4a0.65 0.65 0 1 0 1.3 0a0.65 0.65 0 1 0 -1.3 0ZM68.3 342.9a0.65 0.65 0 1 0 1.3 0a0.65 0.65 0 1 0 -1.3 0ZM69.9 336.5a0.65 0.65 0 1 0 1.3 0a0.65 0.65 0 1 0 -1.3 0ZM72.0 330.2a0.65 0.65 0 1 0 1.3 0a0.65 0.65 0 1 0 -1.3 0ZM74.7 324.2a0.65 0.65 0 1 0 1.3 0a0.65 0.65 0 1 0 -1.3 0ZM78.1 318.5a0.65 0.65 0 1 0 1.3 0a0.65 0.65 0 1 0 -1.3 0ZM81.4 312.8a0.65 0.65 0 1 0 1.3 0a0.65 0.65 0 1 0 -1.3 0ZM84.2 306.9a0.65 0.65 0 1 0 1.3 0a0.65 0.65 0 1 0 -1.3 0ZM87.3 301.0a0.65 0.65 0 1 0 1.3 0a0.65 0.65 0 1 0 -1.3 0ZM91.0 295.6a0.65 0.65 0 1 0 1.3 0a0.65 0.65 0 1 0 -1.3 0ZM94.8 290.2a0.65 0.65 0 1 0 1.3 0a0.65 0.65 0 1 0 -1.3 0ZM98.7 284.9a0.65 0.65 0 1 0 1.3 0a0.65 0.65 0 1 0 -1.3 0ZM103.0 279.8a0.65 0.65 0 1 0 1.3 0a0.65 0.65 0 1 0 -1.3 0ZM107.1 274.6a0.65 0.65 0 1 0 1.3 0a0.65 0.65 0 1 0 -1.3 0ZM111.0 269.3a0.65 0.65 0 1 0 1.3 0a0.65 0.65 0 1 0 -1.3 0ZM115.5 264.6a0.65 0.65 0 1 0 1.3 0a0.65 0.65 0 1 0 -1.3 0ZM120.5 260.2a0.65 0.65 0 1 0 1.3 0a0.65 0.65 0 1 0 -1.3 0ZM125.1 255.5a0.65 0.65 0 1 0 1.3 0a0.65 0.65 0 1 0 -1.3 0ZM129.7 250.7a0.65 0.65 0 1 0 1.3 0a0.65 0.65 0 1 0 -1.3 0ZM134.0 245.8a0.65 0.65 0 1 0 1.3 0a0.65 0.65 0 1 0 -1.3 0ZM138.6 241.0a0.65 0.65 0 1 0 1.3 0a0.65 0.65 0 1 0 -1.3 0ZM143.5 236.6a0.65 0.65 0 1 0 1.3 0a0.65 0.65 0 1 0 -1.3 0ZM148.6 232.4a0.65 0.65 0 1 0 1.3 0a0.65 0.65 0 1 0 -1.3 0ZM153.8 228.4a0.65 0.65 0 1 0 1.3 0a0.65 0.65 0 1 0 -1.3 0ZM159.2 224.5a0.65 0.65 0 1 0 1.3 0a0.65 0.65 0 1 0 -1.3 0ZM164.7 220.9a0.65 0.65 0 1 0 1.3 0a0.65 0.65 0 1 0 -1.3 0ZM170.3 217.3a0.65 0.65 0 1 0 1.3 0a0.65 0.65 0 1 0 -1.3 0ZM175.9 213.9a0.65 0.65 0 1 0 1.3 0a0.65 0.65 0 1 0 -1.3 0ZM181.6 210.5a0.65 0.65 0 1 0 1.3 0a0.65 0.65 0 1 0 -1.3 0ZM187.4 207.4a0.65 0.65 0 1 0 1.3 0a0.65 0.65 0 1 0 -1.3 0ZM193.3 204.5a0.65 0.65 0 1 0 1.3 0a0.65 0.65 0 1 0 -1.3 0ZM199.2 201.5a0.65 0.65 0 1 0 1.3 0a0.65 0.65 0 1 0 -1.3 0ZM205.2 198.7a0.65 0.65 0 1 0 1.3 0a0.65 0.65 0 1 0 -1.3 0ZM211.2 196.0a0.65 0.65 0 1 0 1.3 0a0.65 0.65 0 1 0 -1.3 0ZM217.4 193.6a0.65 0.65 0 1 0 1.3 0a0.65 0.65 0 1 0 -1.3 0ZM223.6 191.3a0.65 0.65 0 1 0 1.3 0a0.65 0.65 0 1 0 -1.3 0ZM229.7 189.0a0.65 0.65 0 1 0 1.3 0a0.65 0.65 0 1 0 -1.3 0ZM235.9 186.7a0.65 0.65 0 1 0 1.3 0a0.65 0.65 0 1 0 -1.3 0ZM242.1 184.5a0.65 0.65 0 1 0 1.3 0a0.65 0.65 0 1 0 -1.3 0ZM248.4 182.3a0.65 0.65 0 1 0 1.3 0a0.65 0.65 0 1 0 -1.3 0ZM254.6 180.1a0.65 0.65 0 1 0 1.3 0a0.65 0.65 0 1 0 -1.3 0ZM260.8 178.0a0.65 0.65 0 1 0 1.3 0a0.65 0.65 0 1 0 -1.3 0ZM267.1 176.0a0.65 0.65 0 1 0 1.3 0a0.65 0.65 0 1 0 -1.3 0ZM273.5 174.3a0.65 0.65 0 1 0 1.3 0a0.65 0.65 0 1 0 -1.3 0ZM279.9 172.7a0.65 0.65 0 1 0 1.3 0a0.65 0.65 0 1 0 -1.3 0ZM286.3 171.1a0.65 0.65 0 1 0 1.3 0a0.65 0.65 0 1 0 -1.3 0ZM292.7 169.4a0.65 0.65 0 1 0 1.3 0a0.65 0.65 0 1 0 -1.3 0ZM299.0 167.6a0.65 0.65 0 1 0 1.3 0a0.65 0.65 0 1 0 -1.3 0ZM305.4 165.7a0.65 0.65 0 1 0 1.3 0a0.65 0.65 0 1 0 -1.3 0ZM311.7 163.9a0.65 0.65 0 1 0 1.3 0a0.65 0.65 0 1 0 -1.3 0ZM318.1 162.1a0.65 0.65 0 1 0 1.3 0a0.65 0.65 0 1 0 -1.3 0ZM324.4 160.4a0.65 0.65 0 1 0 1.3 0a0.65 0.65 0 1 0 -1.3 0ZM330.8 158.8a0.65 0.65 0 1 0 1.3 0a0.65 0.65 0 1 0 -1.3 0ZM337.2 157.2a0.65 0.65 0 1 0 1.3 0a0.65 0.65 0 1 0 -1.3 0ZM343.7 155.6a0.65 0.65 0 1 0 1.3 0a0.65 0.65 0 1 0 -1.3 0ZM350.1 154.2a0.65 0.65 0 1 0 1.3 0a0.65 0.65 0 1 0 -1.3 0ZM356.6 152.8a0.65 0.65 0 1 0 1.3 0a0.65 0.65 0 1 0 -1.3 0ZM363.0 151.5a0.65 0.65 0 1 0 1.3 0a0.65 0.65 0 1 0 -1.3 0ZM369.5 150.1a0.65 0.65 0 1 0 1.3 0a0.65 0.65 0 1 0 -1.3 0ZM375.9 148.7a0.65 0.65 0 1 0 1.3 0a0.65 0.65 0 1 0 -1.3 0ZM382.3 147.1a0.65 0.65 0 1 0 1.3 0a0.65 0.65 0 1 0 -1.3 0ZM388.8 145.6a0.65 0.65 0 1 0 1.3 0a0.65 0.65 0 1 0 -1.3 0ZM395.2 144.3a0.65 0.65 0 1 0 1.3 0a0.65 0.65 0 1 0 -1.3 0ZM401.7 143.0a0.65 0.65 0 1 0 1.3 0a0.65 0.65 0 1 0 -1.3 0ZM408.2 141.9a0.65 0.65 0 1 0 1.3 0a0.65 0.65 0 1 0 -1.3 0ZM414.7 140.8a0.65 0.65 0 1 0 1.3 0a0.65 0.65 0 1 0 -1.3 0ZM421.2 139.8a0.65 0.65 0 1 0 1.3 0a0.65 0.65 0 1 0 -1.3 0ZM427.8 138.8a0.65 0.65 0 1 0 1.3 0a0.65 0.65 0 1 0 -1.3 0ZM434.3 138.0a0.65 0.65 0 1 0 1.3 0a0.65 0.65 0 1 0 -1.3 0ZM440.9 137.2a0.65 0.65 0 1 0 1.3 0a0.65 0.65 0 1 0 -1.3 0ZM447.4 136.4a0.65 0.65 0 1 0 1.3 0a0.65 0.65 0 1 0 -1.3 0ZM454.0 135.8a0.65 0.65 0 1 0 1.3 0a0.65 0.65 0 1 0 -1.3 0ZM460.6 135.2a0.65 0.65 0 1 0 1.3 0a0.65 0.65 0 1 0 -1.3 0ZM467.1 134.5a0.65 0.65 0 1 0 1.3 0a0.65 0.65 0 1 0 -1.3 0ZM473.7 133.9a0.65 0.65 0 1 0 1.3 0a0.65 0.65 0 1 0 -1.3 0ZM480.3 133.2a0.65 0.65 0 1 0 1.3 0a0.65 0.65 0 1 0 -1.3 0ZM486.8 132.5a0.65 0.65 0 1 0 1.3 0a0.65 0.65 0 1 0 -1.3 0ZM493.4 131.9a0.65 0.65 0 1 0 1.3 0a0.65 0.65 0 1 0 -1.3 0ZM500.0 131.4a0.65 0.65 0 1 0 1.3 0a0.65 0.65 0 1 0 -1.3 0ZM506.5 130.8a0.65 0.65 0 1 0 1.3 0a0.65 0.65 0 1 0 -1.3 0ZM513.1 130.4a0.65 0.65 0 1 0 1.3 0a0.65 0.65 0 1 0 -1.3 0ZM519.7 130.2a0.65 0.65 0 1 0 1.3 0a0.65 0.65 0 1 0 -1.3 0ZM526.3 130.4a0.65 0.65 0 1 0 1.3 0a0.65 0.65 0 1 0 -1.3 0ZM532.9 130.9a0.65 0.65 0 1 0 1.3 0a0.65 0.65 0 1 0 -1.3 0ZM539.5 131.4a0.65 0.65 0 1 0 1.3 0a0.65 0.65 0 1 0 -1.3 0ZM543.2 131.9a0.65 0.65 0 1 0 1.3 0a0.65 0.65 0 1 0 -1.3 0Z" fill="#c8c8f0"/>
<path d="M57.7 394.9 L58.5 392.3 L59.4 389.7 L60.2 387.1 L61.0 384.5 L61.9 381.9 L62.7 379.3 L63.5 376.7 L64.4 374.1 L65.2 371.4 L66.0 368.8 L66.8 366.1 L67.7 363.6 L68.5 361.0 L69.3 358.5 L70.2 356.1 L71.0 353.7 L71.8 351.4 L72.7 349.1 L73.5 346.8 L74.3 344.5 L75.2 342.3 L76.0 340.2 L76.8 338.1 L77.7 336.1 L78.5 334.2 L79.3 332.3 L80.1 330.5 L81.0 328.7 L81.8 327.0 L82.6 325.2 L83.5 323.6 L84.3 321.9 L85.1 320.3 L86.0 318.7 L86.8 317.2 L87.6 315.6 L88.5 314.1 L89.3 312.7 L90.1 311.2 L91.0 309.8 L91.8 308.4 L92.6 307.0 L93.4 305.7 L94.3 304.4 L95.1 303.2 L95.9 301.9 L96.8 300.7 L97.6 299.6 L98.4 298.5 L99.3 297.4 L100.1 296.3 L100.9 295.2 L101.8 294.2 L102.6 293.2 L103.4 292.2 L104.3 291.2 L105.1 290.2 L105.9 289.3 L106.7 288.4 L107.6 287.6 L108.4 286.8 L109.2 286.0 L110.1 285.3 L110.9 284.5 L111.7 283.8 L112.6 283.0 L113.4 282.3 L114.2 281.5 L115.1 280.6 L115.9 279.8 L116.7 278.9 L117.6 278.0 L118.4 277.1 L119.2 276.2 L120.0 275.4 L120.9 274.5 L121.7 273.6 L122.5 272.8 L123.4 272.0 L124.2 271.2 L125.0 270.5 L125.9 269.8 L126.7 269.1 L127.5 268.4 L128.4 267.8 L129.2 267.2 L130.0 266.5 L130.9 265.9 L131.7 265.3 L132.5 264.8 L133.3 264.2 L134.2 263.6 L135.0 263.1 L135.8 262.5 L136.7 262.0 L137.5 261.4 L138.3 260.9 L139.2 260.3 L140.0 259.8 L140.8 259.3 L141.7 258.7 L142.5 258.2 L143.3 257.6 L144.2 257.1 L145.0 256.5 L145.8 255.9 L146.6 255.3 L147.5 254.7 L148.3 254.1 L149.1 253.6 L150.0 253.0 L150.8 252.4 L151.6 251.8 L152.5 251.2 L153.3 250.6 L154.1 250.0 L155.0 249.4 L155.8 248.8 L156.6 248.2 L157.5 247.6 L158.3 247.0 L159.1 246.5 L159.9 245.9 L160.8 245.3 L161.6 244.7 L162.4 244.1 L163.3 243.6 L164.1 243.0 L164.9 242.4 L165.8 241.9 L166.6 241.3 L167.4 240.7 L168.3 240.2 L169.1 239.6 L169.9 239.1 L170.8 238.5 L171.6 238.0 L172.4 237.4 L173.2 236.9 L174.1 236.3 L174.9 235.8 L175.7 235.2 L176.6 234.7 L177.4 234.2 L178.2 233.6 L179.1 233.1 L179.9 232.6 L180.7 232.1 L181.6 231.5 L182.4 231.0 L183.2 230.5 L184.1 230.0 L184.9 229.5 L185.7 229.0 L186.5 228.5 L187.4 228.0 L188.2 227.5 L189.0 227.0 L189.9 226.6 L190.7 226.1 L191.5 225.6 L192.4 225.1 L193.2 224.6 L194.0 224.1 L194.9 223.7 L195.7 223.2 L196.5 222.7 L197.4 222.3 L198.2 221.8 L199.0 221.4 L199.8 220.9 L200.7 220.5 L201.5 220.0 L202.3 219.6 L203.2 219.2 L204.0 218.8 L204.8 218.3 L205.7 217.9 L206.5 217.6 L207.3 217.2 L208.2 216.8 L209.0 216.4 L209.8 216.1 L210.7 215.7 L211.5 215.4 L212.3 215.0 L213.1 214.7 L214.0 214.3 L214.8 214.0 L215.6 213.7 L216.5 213.4 L217.3 213.0 L218.1 212.7 L219.0 212.4 L219.8 212.1 L220.6 211.8 L221.5 211.5 L222.3 211.2 L223.1 210.9 L224.0 210.6 L224.8 210.2 L225.6 209.9 L226.4 209.6 L227.3 209.3 L228.1 209.0 L228.9 208.7 L229.8 208.4 L230.6 208.1 L231.4 207.8 L232.3 207.6 L233.1 207.3 L233.9 207.0 L234.8 206.7 L235.6 206.4 L236.4 206.1 L237.3 205.8 L238.1 205.5 L238.9 205.3 L239.8 205.0 L240.6 204.7 L241.4 204.4 L242.2 204.1 L243.1 203.8 L243.9 203.5 L244.7 203.2 L245.6 202.9 L246.4 202.6 L247.2 202.3 L248.1 202.0 L248.9 201.7 L249.7 201.4 L250.6 201.1 L251.4 200.8 L252.2 200.4 L253.1 200.1 L253.9 199.8 L254.7 199.5 L255.5 199.2 L256.4 198.9 L257.2 198.6 L258.0 198.3 L258.9 198.0 L259.7 197.8 L260.5 197.5 L261.4 197.2 L262.2 196.9 L263.0 196.6 L263.9 196.4 L264.7 196.1 L265.5 195.8 L266.4 195.6 L267.2 195.3 L268.0 195.1 L268.8 194.9 L269.7 194.6 L270.5 194.4 L271.3 194.1 L272.2 193.9 L273.0 193.7 L273.8 193.5 L274.7 193.2 L275.5 193.0 L276.3 192.8 L277.2 192.6 L278.0 192.4 L278.8 192.2 L279.7 191.9 L280.5 191.7 L281.3 191.5 L282.1 191.3 L283.0 191.1 L283.8 190.9 L284.6 190.7 L285.5 190.5 L286.3 190.3 L287.1 190.1 L288.0 189.9 L288.8 189.7 L289.6 189.6 L290.5 189.4 L291.3 189.2 L292.1 189.0 L293.0 188.8 L293.8 188.6 L294.6 188.4 L295.4 188.3 L296.3 188.1 L297.1 187.9 L297.9 187.7 L298.8 187.6 L299.6 187.4 L300.4 187.2 L301.3 187.0 L302.1 186.9 L302.9 186.7 L303.8 186.5 L304.6 186.4 L305.4 186.2 L306.3 186.0 L307.1 185.9 L307.9 185.7 L308.7 185.6 L309.6 185.4 L310.4 185.3 L311.2 185.1 L312.1 184.9 L312.9 184.8 L313.7 184.6 L314.6 184.5 L315.4 184.3 L316.2 184.2 L317.1 184.0 L317.9 183.9 L318.7 183.8 L319.6 183.6 L320.4 183.5 L321.2 183.3 L322.0 183.2 L322.9 183.0 L323.7 182.9 L324.5 182.8 L325.4 182.6 L326.2 182.5 L327.0 182.4 L327.9 182.2 L328.7 182.1 L329.5 182.0 L330.4 181.8 L331.2 181.7 L332.0 181.6 L332.9 181.5 L333.7 181.3 L334.5 181.2 L335.3 181.1 L336.2 181.0 L337.0 180.8 L337.8 180.7 L338.7 180.6 L339.5 180.5 L340.3 180.3 L341.2 180.2 L342.0 180.1 L342.8 180.0 L343.7 179.9 L344.5 179.8 L345.3 179.6 L346.2 179.5 L347.0 179.4 L347.8 179.3 L348.6 179.2 L349.5 179.1 L350.3 178.9 L351.1 178.8 L352.0 178.7 L352.8 178.6 L353.6 178.5 L354.5 178.4 L355.3 178.2 L356.1 178.1 L357.0 178.0 L357.8 177.9 L358.6 177.8 L359.5 177.7 L360.3 177.6 L361.1 177.5 L361.9 177.4 L362.8 177.3 L363.6 177.2 L364.4 177.0 L365.3 176.9 L366.1 176.8 L366.9 176.7 L367.8 176.6 L368.6 176.6 L369.4 176.5 L370.3 176.4 L371.1 176.3 L371.9 176.2 L372.8 176.1 L373.6 176.0 L374.4 175.9 L375.2 175.9 L376.1 175.8 L376.9 175.7 L377.7 175.6 L378.6 175.5 L379.4 175.4 L380.2 175.4 L381.1 175.3 L381.9 175.2 L382.7 175.1 L383.6 175.1 L384.4 175.0 L385.2 174.9 L386.1 174.9 L386.9 174.8 L387.7 174.7 L388.5 174.7 L389.4 174.6 L390.2 174.5 L391.0 174.5 L391.9 174.4 L392.7 174.4 L393.5 174.3 L394.4 174.3 L395.2 174.2 L396.0 174.2 L396.9 174.1 L397.7 174.1 L398.5 174.0 L399.4 174.0 L400.2 174.0 L401.0 173.9 L401.8 173.9 L402.7 173.8 L403.5 173.8 L404.3 173.8 L405.2 173.7 L406.0 173.7 L406.8 173.7 L407.7 173.6 L408.5 173.6 L409.3 173.6 L410.2 173.5 L411.0 173.5 L411.8 173.5 L412.7 173.4 L413.5 173.4 L414.3 173.4 L415.2 173.3 L416.0 173.3 L416.8 173.3 L417.6 173.2 L418.5 173.2 L419.3 173.2 L420.1 173.2 L421.0 173.1 L421.8 173.1 L422.6 173.1 L423.5 173.0 L424.3 173.0 L425.1 173.0 L426.0 172.9 L426.8 172.9 L427.6 172.9 L428.5 172.9 L429.3 172.8 L430.1 172.8 L430.9 172.8 L431.8 172.7 L432.6 172.7 L433.4 172.7 L434.3 172.7 L435.1 172.6 L435.9 172.6 L436.8 172.6 L437.6 172.5 L438.4 172.5 L439.3 172.5 L440.1 172.5 L440.9 172.4 L441.8 172.4 L442.6 172.4 L443.4 172.4 L444.2 172.3 L445.1 172.3 L445.9 172.3 L446.7 172.3 L447.6 172.2 L448.4 172.2 L449.2 172.2 L450.1 172.2 L450.9 172.1 L451.7 172.1 L452.6 172.1 L453.4 172.1 L454.2 172.0 L455.1 172.0 L455.9 172.0 L456.7 172.0 L457.5 172.0 L458.4 171.9 L459.2 171.9 L460.0 171.9 L460.9 171.9 L461.7 171.8 L462.5 171.8 L463.4 171.8 L464.2 171.8 L465.0 171.7 L465.9 171.7 L466.7 171.7 L467.5 171.6 L468.4 171.6 L469.2 171.6 L470.0 171.6 L470.8 171.5 L471.7 171.5 L472.5 171.5 L473.3 171.5 L474.2 171.4 L475.0 171.4 L475.8 171.4 L476.7 171.3 L477.5 171.3 L478.3 171.3 L479.2 171.2 L480.0 171.2 L480.8 171.1 L481.7 171.1 L482.5 171.0 L483.3 171.0 L484.1 171.0 L485.0 170.9 L485.8 170.9 L486.6 170.8 L487.5 170.8 L488.3 170.7 L489.1 170.7 L490.0 170.7 L490.8 170.6 L491.6 170.6 L492.5 170.5 L493.3 170.5 L494.1 170.5 L495.0 170.4 L495.8 170.4 L496.6 170.4 L497.4 170.3 L498.3 170.3 L499.1 170.3 L499.9 170.3 L500.8 170.2 L501.6 170.2 L502.4 170.2 L503.3 170.2 L504.1 170.2 L504.9 170.2 L505.8 170.2 L506.6 170.2 L507.4 170.2 L508.3 170.2 L509.1 170.2 L509.9 170.2 L510.7 170.3 L511.6 170.3 L512.4 170.4 L513.2 170.5 L514.1 170.5 L514.9 170.6 L515.7 170.7 L516.6 170.7 L517.4 170.8 L518.2 170.9 L519.1 171.0 L519.9 171.1" stroke="#0b8282" stroke-width="3.4" fill="none" stroke-linejoin="round" stroke-linecap="round"/>
<path d="M57.7 398.4L54.2 392.1L61.2 392.1ZM59.6 392.4L56.1 386.1L63.1 386.1ZM61.5 386.5L58.0 380.2L65.0 380.2ZM63.4 380.6L59.9 374.3L66.9 374.3ZM65.2 374.7L61.7 368.4L68.7 368.4ZM67.1 368.8L63.6 362.5L70.6 362.5ZM69.0 362.9L65.5 356.6L72.5 356.6ZM71.1 357.1L67.6 350.8L74.6 350.8ZM73.1 351.2L69.6 344.9L76.6 344.9ZM75.3 345.4L71.8 339.1L78.8 339.1ZM77.6 339.7L74.1 333.4L81.1 333.4ZM80.1 334.0L76.6 327.7L83.6 327.7ZM82.8 328.4L79.3 322.1L86.3 322.1ZM85.6 322.9L82.1 316.6L89.1 316.6ZM88.6 317.4L85.1 311.1L92.1 311.1ZM91.7 312.1L88.2 305.8L95.2 305.8ZM95.0 306.8L91.5 300.5L98.5 300.5ZM98.6 301.8L95.1 295.5L102.1 295.5ZM102.4 296.9L98.9 290.6L105.9 290.6ZM106.5 292.2L103.0 285.9L110.0 285.9ZM111.0 288.0L107.5 281.7L114.5 281.7ZM115.5 283.7L112.0 277.4L119.0 277.4ZM119.7 279.2L116.2 272.9L123.2 272.9ZM124.1 274.8L120.6 268.5L127.6 268.5ZM128.9 270.9L125.4 264.6L132.4 264.6ZM134.0 267.3L130.5 261.0L137.5 261.0ZM139.1 263.9L135.6 257.6L142.6 257.6ZM144.3 260.4L140.8 254.1L147.8 254.1ZM149.4 256.9L145.9 250.6L152.9 250.6ZM154.4 253.3L150.9 247.0L157.9 247.0ZM159.5 249.7L156.0 243.4L163.0 243.4ZM164.6 246.2L161.1 239.9L168.1 239.9ZM169.7 242.7L166.2 236.4L173.2 236.4ZM174.9 239.3L171.4 233.0L178.4 233.0ZM180.1 235.9L176.6 229.6L183.6 229.6ZM185.4 232.7L181.9 226.4L188.9 226.4ZM190.8 229.5L187.3 223.2L194.3 223.2ZM196.1 226.5L192.6 220.2L199.6 220.2ZM201.6 223.5L198.1 217.2L205.1 217.2ZM207.1 220.8L203.6 214.5L210.6 214.5ZM212.8 218.3L209.3 212.0L216.3 212.0ZM218.6 216.0L215.1 209.7L222.1 209.7ZM224.4 213.9L220.9 207.6L227.9 207.6ZM230.2 211.8L226.7 205.5L233.7 205.5ZM236.1 209.7L232.6 203.4L239.6 203.4ZM242.0 207.7L238.5 201.4L245.5 201.4ZM247.8 205.6L244.3 199.3L251.3 199.3ZM253.6 203.4L250.1 197.1L257.1 197.1ZM259.4 201.3L255.9 195.0L262.9 195.0ZM265.3 199.4L261.8 193.1L268.8 193.1ZM271.3 197.7L267.8 191.4L274.8 191.4ZM277.3 196.1L273.8 189.8L280.8 189.8ZM283.3 194.5L279.8 188.2L286.8 188.2ZM289.3 193.1L285.8 186.8L292.8 186.8ZM295.4 191.8L291.9 185.5L298.9 185.5ZM301.4 190.5L297.9 184.2L304.9 184.2ZM307.5 189.3L304.0 183.0L311.0 183.0ZM313.6 188.2L310.1 181.9L317.1 181.9ZM319.7 187.1L316.2 180.8L323.2 180.8ZM325.8 186.1L322.3 179.8L329.3 179.8ZM332.0 185.1L328.5 178.8L335.5 178.8ZM338.1 184.2L334.6 177.9L341.6 177.9ZM344.2 183.3L340.7 177.0L347.7 177.0ZM350.4 182.4L346.9 176.1L353.9 176.1ZM356.5 181.6L353.0 175.3L360.0 175.3ZM362.6 180.8L359.1 174.5L366.1 174.5ZM368.8 180.0L365.3 173.7L372.3 173.7ZM375.0 179.4L371.5 173.1L378.5 173.1ZM381.1 178.8L377.6 172.5L384.6 172.5ZM387.3 178.3L383.8 172.0L390.8 172.0ZM393.5 177.8L390.0 171.5L397.0 171.5ZM399.7 177.5L396.2 171.2L403.2 171.2ZM405.9 177.2L402.4 170.9L409.4 170.9ZM412.1 176.9L408.6 170.6L415.6 170.6ZM418.3 176.7L414.8 170.4L421.8 170.4ZM424.5 176.5L421.0 170.2L428.0 170.2ZM430.7 176.3L427.2 170.0L434.2 170.0ZM436.9 176.1L433.4 169.8L440.4 169.8ZM443.1 175.9L439.6 169.6L446.6 169.6ZM449.3 175.7L445.8 169.4L452.8 169.4ZM455.5 175.5L452.0 169.2L459.0 169.2ZM461.7 175.3L458.2 169.0L465.2 169.0ZM467.9 175.1L464.4 168.8L471.4 168.8ZM474.0 174.9L470.5 168.6L477.5 168.6ZM480.2 174.7L476.7 168.4L483.7 168.4ZM486.4 174.3L482.9 168.0L489.9 168.0ZM492.6 174.0L489.1 167.7L496.1 167.7ZM498.8 173.8L495.3 167.5L502.3 167.5ZM505.0 173.7L501.5 167.4L508.5 167.4ZM511.2 173.8L507.7 167.5L514.7 167.5ZM517.4 174.3L513.9 168.0L520.9 168.0ZM519.9 174.6L516.4 168.3L523.4 168.3Z" fill="#0b8282"/>
<path d="M57.7 394.9 L58.5 388.8 L59.4 383.1 L60.2 377.7 L61.0 372.8 L61.9 368.3 L62.7 364.3 L63.5 360.9 L64.4 357.8 L65.2 355.0 L66.0 352.4 L66.8 350.1 L67.7 347.9 L68.5 345.8 L69.3 343.8 L70.2 341.9 L71.0 340.1 L71.8 338.4 L72.7 336.7 L73.5 335.2 L74.3 333.7 L75.2 332.2 L76.0 330.9 L76.8 329.6 L77.7 328.5 L78.5 327.4 L79.3 326.4 L80.1 325.4 L81.0 324.5 L81.8 323.6 L82.6 322.7 L83.5 321.7 L84.3 320.7 L85.1 319.7 L86.0 318.5 L86.8 317.2 L87.6 316.0 L88.5 314.9 L89.3 314.0 L90.1 313.1 L91.0 312.4 L91.8 311.7 L92.6 311.0 L93.4 310.3 L94.3 309.6 L95.1 308.9 L95.9 308.0 L96.8 307.1 L97.6 306.0 L98.4 305.0 L99.3 303.9 L100.1 302.9 L100.9 301.9 L101.8 301.0 L102.6 300.2 L103.4 299.5 L104.3 298.9 L105.1 298.4 L105.9 297.8 L106.7 297.3 L107.6 296.7 L108.4 296.1 L109.2 295.5 L110.1 294.8 L110.9 294.0 L111.7 293.1 L112.6 292.1 L113.4 291.1 L114.2 290.0 L115.1 288.9 L115.9 287.8 L116.7 286.7 L117.6 285.6 L118.4 284.5 L119.2 283.4 L120.0 282.4 L120.9 281.4 L121.7 280.6 L122.5 279.7 L123.4 278.9 L124.2 278.2 L125.0 277.4 L125.9 276.6 L126.7 275.9 L127.5 275.2 L128.4 274.5 L129.2 273.8 L130.0 273.1 L130.9 272.4 L131.7 271.7 L132.5 271.1 L133.3 270.4 L134.2 269.8 L135.0 269.1 L135.8 268.5 L136.7 267.9 L137.5 267.2 L138.3 266.6 L139.2 266.0 L140.0 265.3 L140.8 264.7 L141.7 264.0 L142.5 263.4 L143.3 262.8 L144.2 262.1 L145.0 261.5 L145.8 260.9 L146.6 260.2 L147.5 259.6 L148.3 259.0 L149.1 258.4 L150.0 257.8 L150.8 257.2 L151.6 256.5 L152.5 255.9 L153.3 255.3 L154.1 254.7 L155.0 254.1 L155.8 253.5 L156.6 252.9 L157.5 252.4 L158.3 251.8 L159.1 251.2 L159.9 250.6 L160.8 250.0 L161.6 249.4 L162.4 248.8 L163.3 248.2 L164.1 247.6 L164.9 247.0 L165.8 246.4 L166.6 245.8 L167.4 245.2 L168.3 244.6 L169.1 244.1 L169.9 243.5 L170.8 242.9 L171.6 242.3 L172.4 241.7 L173.2 241.1 L174.1 240.5 L174.9 239.9 L175.7 239.4 L176.6 238.8 L177.4 238.2 L178.2 237.6 L179.1 237.1 L179.9 236.5 L180.7 236.0 L181.6 235.4 L182.4 234.9 L183.2 234.3 L184.1 233.8 L184.9 233.3 L185.7 232.8 L186.5 232.3 L187.4 231.8 L188.2 231.3 L189.0 230.8 L189.9 230.3 L190.7 229.9 L191.5 229.4 L192.4 229.0 L193.2 228.5 L194.0 228.1 L194.9 227.6 L195.7 227.2 L196.5 226.7 L197.4 226.2 L198.2 225.7 L199.0 225.2 L199.8 224.7 L200.7 224.1 L201.5 223.6 L202.3 223.1 L203.2 222.5 L204.0 222.0 L204.8 221.4 L205.7 220.9 L206.5 220.4 L207.3 219.9 L208.2 219.4 L209.0 218.9 L209.8 218.4 L210.7 218.0 L211.5 217.5 L212.3 217.0 L213.1 216.6 L214.0 216.1 L214.8 215.7 L215.6 215.2 L216.5 214.8 L217.3 214.3 L218.1 213.9 L219.0 213.5 L219.8 213.0 L220.6 212.6 L221.5 212.2 L222.3 211.8 L223.1 211.4 L224.0 211.0 L224.8 210.6 L225.6 210.2 L226.4 209.8 L227.3 209.4 L228.1 209.0 L228.9 208.6 L229.8 208.3 L230.6 207.9 L231.4 207.5 L232.3 207.2 L233.1 206.8 L233.9 206.5 L234.8 206.1 L235.6 205.7 L236.4 205.4 L237.3 205.0 L238.1 204.6 L238.9 204.2 L239.8 203.9 L240.6 203.5 L241.4 203.1 L242.2 202.7 L243.1 202.3 L243.9 201.9 L244.7 201.5 L245.6 201.1 L246.4 200.6 L247.2 200.2 L248.1 199.8 L248.9 199.4 L249.7 198.9 L250.6 198.5 L251.4 198.1 L252.2 197.6 L253.1 197.2 L253.9 196.8 L254.7 196.3 L255.5 195.9 L256.4 195.5 L257.2 195.0 L258.0 194.6 L258.9 194.2 L259.7 193.7 L260.5 193.3 L261.4 192.9 L262.2 192.5 L263.0 192.1 L263.9 191.7 L264.7 191.3 L265.5 190.9 L266.4 190.5 L267.2 190.1 L268.0 189.7 L268.8 189.4 L269.7 189.0 L270.5 188.6 L271.3 188.3 L272.2 187.9 L273.0 187.5 L273.8 187.2 L274.7 186.8 L275.5 186.5 L276.3 186.1 L277.2 185.8 L278.0 185.4 L278.8 185.1 L279.7 184.7 L280.5 184.4 L281.3 184.0 L282.1 183.7 L283.0 183.4 L283.8 183.0 L284.6 182.7 L285.5 182.4 L286.3 182.0 L287.1 181.7 L288.0 181.4 L288.8 181.1 L289.6 180.8 L290.5 180.4 L291.3 180.1 L292.1 179.8 L293.0 179.5 L293.8 179.2 L294.6 178.9 L295.4 178.6 L296.3 178.3 L297.1 178.0 L297.9 177.7 L298.8 177.4 L299.6 177.1 L300.4 176.8 L301.3 176.5 L302.1 176.2 L302.9 175.9 L303.8 175.6 L304.6 175.3 L305.4 175.0 L306.3 174.8 L307.1 174.5 L307.9 174.2 L308.7 173.9 L309.6 173.6 L310.4 173.4 L311.2 173.1 L312.1 172.8 L312.9 172.6 L313.7 172.3 L314.6 172.0 L315.4 171.8 L316.2 171.5 L317.1 171.3 L317.9 171.0 L318.7 170.8 L319.6 170.5 L320.4 170.3 L321.2 170.1 L322.0 169.8 L322.9 169.6 L323.7 169.4 L324.5 169.1 L325.4 168.9 L326.2 168.7 L327.0 168.5 L327.9 168.2 L328.7 168.0 L329.5 167.8 L330.4 167.6 L331.2 167.4 L332.0 167.2 L332.9 167.0 L333.7 166.8 L334.5 166.6 L335.3 166.4 L336.2 166.2 L337.0 166.0 L337.8 165.8 L338.7 165.6 L339.5 165.4 L340.3 165.2 L341.2 165.0 L342.0 164.8 L342.8 164.6 L343.7 164.4 L344.5 164.2 L345.3 164.0 L346.2 163.8 L347.0 163.6 L347.8 163.4 L348.6 163.2 L349.5 163.1 L350.3 162.9 L351.1 162.7 L352.0 162.5 L352.8 162.3 L353.6 162.2 L354.5 162.0 L355.3 161.8 L356.1 161.6 L357.0 161.5 L357.8 161.3 L358.6 161.1 L359.5 161.0 L360.3 160.8 L361.1 160.6 L361.9 160.4 L362.8 160.3 L363.6 160.1 L364.4 159.9 L365.3 159.8 L366.1 159.6 L366.9 159.4 L367.8 159.2 L368.6 159.1 L369.4 158.9 L370.3 158.7 L371.1 158.5 L371.9 158.3 L372.8 158.2 L373.6 158.0 L374.4 157.8 L375.2 157.6 L376.1 157.4 L376.9 157.2 L377.7 157.0 L378.6 156.8 L379.4 156.6 L380.2 156.4 L381.1 156.2 L381.9 156.0 L382.7 155.8 L383.6 155.6 L384.4 155.4 L385.2 155.2 L386.1 155.0 L386.9 154.8 L387.7 154.6 L388.5 154.4 L389.4 154.2 L390.2 154.0 L391.0 153.8 L391.9 153.6 L392.7 153.4 L393.5 153.2 L394.4 153.0 L395.2 152.8 L396.0 152.6 L396.9 152.4 L397.7 152.3 L398.5 152.1 L399.4 151.9 L400.2 151.7 L401.0 151.5 L401.8 151.3 L402.7 151.1 L403.5 150.9 L404.3 150.8 L405.2 150.6 L406.0 150.4 L406.8 150.2 L407.7 150.1 L408.5 149.9 L409.3 149.8 L410.2 149.6 L411.0 149.5 L411.8 149.3 L412.7 149.2 L413.5 149.0 L414.3 148.9 L415.2 148.7 L416.0 148.6 L416.8 148.5 L417.6 148.3 L418.5 148.2 L419.3 148.1 L420.1 147.9 L421.0 147.8 L421.8 147.7 L422.6 147.6 L423.5 147.4 L424.3 147.3 L425.1 147.2 L426.0 147.1 L426.8 146.9 L427.6 146.8 L428.5 146.7 L429.3 146.6 L430.1 146.5 L430.9 146.4 L431.8 146.3 L432.6 146.1 L433.4 146.0 L434.3 145.9 L435.1 145.8 L435.9 145.7 L436.8 145.6 L437.6 145.5 L438.4 145.4 L439.3 145.3 L440.1 145.2 L440.9 145.1 L441.8 145.0 L442.6 144.9 L443.4 144.8 L444.2 144.8 L445.1 144.7 L445.9 144.6 L446.7 144.5 L447.6 144.4 L448.4 144.3 L449.2 144.2 L450.1 144.1 L450.9 144.1 L451.7 144.0 L452.6 143.9 L453.4 143.8 L454.2 143.7 L455.1 143.7 L455.9 143.6 L456.7 143.5 L457.5 143.4 L458.4 143.4 L459.2 143.3 L460.0 143.2 L460.9 143.1 L461.7 143.1 L462.5 143.0 L463.4 142.9 L464.2 142.8 L465.0 142.8 L465.9 142.7 L466.7 142.6 L467.5 142.6 L468.4 142.5 L469.2 142.4 L470.0 142.4 L470.8 142.3 L471.7 142.2 L472.5 142.2 L473.3 142.1 L474.2 142.0 L475.0 142.0 L475.8 141.9 L476.7 141.9 L477.5 141.8 L478.3 141.7 L479.2 141.7 L480.0 141.6 L480.8 141.6 L481.7 141.5 L482.5 141.4 L483.3 141.4 L484.1 141.3 L485.0 141.3 L485.8 141.2 L486.6 141.2 L487.5 141.1 L488.3 141.0 L489.1 141.0 L490.0 140.9 L490.8 140.9 L491.6 140.8 L492.5 140.8 L493.3 140.7 L494.1 140.7 L495.0 140.6 L495.8 140.5 L496.6 140.5 L497.4 140.4 L498.3 140.4 L499.1 140.3 L499.9 140.3 L500.8 140.2 L501.6 140.1 L502.4 140.1 L503.3 140.0 L504.1 139.9 L504.9 139.9 L505.8 139.8 L506.6 139.7 L507.4 139.7 L508.3 139.6 L509.1 139.5 L509.9 139.5 L510.7 139.4 L511.6 139.3 L512.4 139.3 L513.2 139.2 L514.1 139.2 L514.9 139.1 L515.7 139.0 L516.6 139.0 L517.4 138.9 L518.2 138.9 L519.1 138.9 L519.9 138.8 L520.7 138.8 L521.6 138.7 L522.4 138.7 L523.2 138.7 L524.0 138.7 L524.9 138.7 L525.7 138.7 L526.5 138.7 L527.4 138.7 L528.2 138.7 L529.0 138.7 L529.9 138.7 L530.7 138.7 L531.5 138.7 L532.4 138.7 L533.2 138.7 L534.0 138.8 L534.9 138.8 L535.7 138.8 L536.5 138.9 L537.3 138.9 L538.2 138.9 L539.0 139.0 L539.8 139.0 L540.7 139.1 L541.5 139.1 L542.3 139.2 L543.2 139.2 L544.0 139.3 L544.8 139.3 L545.7 139.4 L546.5 139.5 L547.3 139.5 L548.2 139.6 L549.0 139.7 L549.8 139.7 L550.6 139.8 L551.5 139.9 L552.3 140.0 L553.1 140.1 L554.0 140.2 L554.8 140.3 L555.6 140.4 L556.5 140.5" stroke="#ff11ff" stroke-width="3" fill="none" stroke-linejoin="round" stroke-linecap="round"/>
<path d="M57.7 390.9L61.7 394.9L57.7 398.9L53.7 394.9ZM58.6 384.3L62.6 388.3L58.6 392.3L54.6 388.3ZM59.6 377.8L63.6 381.8L59.6 385.8L55.6 381.8ZM60.6 371.3L64.6 375.3L60.6 379.3L56.6 375.3ZM61.8 364.8L65.8 368.8L61.8 372.8L57.8 368.8ZM63.2 358.3L67.2 362.3L63.2 366.3L59.2 362.3ZM64.9 352.0L68.9 356.0L64.9 360.0L60.9 356.0ZM67.0 345.7L71.0 349.7L67.0 353.7L63.0 349.7ZM69.4 339.6L73.4 343.6L69.4 347.6L65.4 343.6ZM72.2 333.6L76.2 337.6L72.2 341.6L68.2 337.6ZM75.4 327.8L79.4 331.8L75.4 335.8L71.4 331.8ZM79.3 322.4L83.3 326.4L79.3 330.4L75.3 326.4ZM83.7 317.5L87.7 321.5L83.7 325.5L79.7 321.5ZM87.5 312.2L91.5 316.2L87.5 320.2L83.5 316.2ZM92.1 307.5L96.1 311.5L92.1 315.5L88.1 311.5ZM96.9 302.9L100.9 306.9L96.9 310.9L92.9 306.9ZM101.0 297.8L105.0 301.8L101.0 305.8L97.0 301.8ZM106.1 293.7L110.1 297.7L106.1 301.7L102.1 297.7ZM111.3 289.6L115.3 293.6L111.3 297.6L107.3 293.6ZM115.4 284.4L119.4 288.4L115.4 292.4L111.4 288.4ZM119.4 279.2L123.4 283.2L119.4 287.2L115.4 283.2ZM123.9 274.4L127.9 278.4L123.9 282.4L119.9 278.4ZM128.9 270.0L132.9 274.0L128.9 278.0L124.9 274.0ZM134.0 265.9L138.0 269.9L134.0 273.9L130.0 269.9ZM139.3 261.9L143.3 265.9L139.3 269.9L135.3 265.9ZM144.5 257.9L148.5 261.9L144.5 265.9L140.5 261.9ZM149.8 253.9L153.8 257.9L149.8 261.9L145.8 257.9ZM155.1 250.0L159.1 254.0L155.1 258.0L151.1 254.0ZM160.5 246.2L164.5 250.2L160.5 254.2L156.5 250.2ZM165.9 242.4L169.9 246.4L165.9 250.4L161.9 246.4ZM171.2 238.5L175.2 242.5L171.2 246.5L167.2 242.5ZM176.6 234.7L180.6 238.7L176.6 242.7L172.6 238.7ZM182.1 231.0L186.1 235.0L182.1 239.0L178.1 235.0ZM187.7 227.6L191.7 231.6L187.7 235.6L183.7 231.6ZM193.5 224.4L197.5 228.4L193.5 232.4L189.5 228.4ZM199.2 221.1L203.2 225.1L199.2 229.1L195.2 225.1ZM204.8 217.5L208.8 221.5L204.8 225.5L200.8 221.5ZM210.4 214.1L214.4 218.1L210.4 222.1L206.4 218.1ZM216.2 210.9L220.2 214.9L216.2 218.9L212.2 214.9ZM222.1 207.9L226.1 211.9L222.1 215.9L218.1 211.9ZM228.0 205.1L232.0 209.1L228.0 213.1L224.0 209.1ZM234.1 202.4L238.1 206.4L234.1 210.4L230.1 206.4ZM240.1 199.7L244.1 203.7L240.1 207.7L236.1 203.7ZM246.0 196.8L250.0 200.8L246.0 204.8L242.0 200.8ZM251.9 193.8L255.9 197.8L251.9 201.8L247.9 197.8ZM257.8 190.7L261.8 194.7L257.8 198.7L253.8 194.7ZM263.6 187.8L267.6 191.8L263.6 195.8L259.6 191.8ZM269.6 185.0L273.6 189.0L269.6 193.0L265.6 189.0ZM275.7 182.4L279.7 186.4L275.7 190.4L271.7 186.4ZM281.8 179.8L285.8 183.8L281.8 187.8L277.8 183.8ZM287.9 177.4L291.9 181.4L287.9 185.4L283.9 181.4ZM294.1 175.1L298.1 179.1L294.1 183.1L290.1 179.1ZM300.3 172.8L304.3 176.8L300.3 180.8L296.3 176.8ZM306.5 170.7L310.5 174.7L306.5 178.7L302.5 174.7ZM312.8 168.6L316.8 172.6L312.8 176.6L308.8 172.6ZM319.1 166.7L323.1 170.7L319.1 174.7L315.1 170.7ZM325.5 164.9L329.5 168.9L325.5 172.9L321.5 168.9ZM331.9 163.2L335.9 167.2L331.9 171.2L327.9 167.2ZM338.3 161.6L342.3 165.6L338.3 169.6L334.3 165.6ZM344.7 160.1L348.7 164.1L344.7 168.1L340.7 164.1ZM351.1 158.7L355.1 162.7L351.1 166.7L347.1 162.7ZM357.6 157.3L361.6 161.3L357.6 165.3L353.6 161.3ZM364.1 156.0L368.1 160.0L364.1 164.0L360.1 160.0ZM370.5 154.7L374.5 158.7L370.5 162.7L366.5 158.7ZM376.9 153.2L380.9 157.2L376.9 161.2L372.9 157.2ZM383.4 151.6L387.4 155.6L383.4 159.6L379.4 155.6ZM389.8 150.1L393.8 154.1L389.8 158.1L385.8 154.1ZM396.2 148.6L400.2 152.6L396.2 156.6L392.2 152.6ZM402.6 147.1L406.6 151.1L402.6 155.1L398.6 151.1ZM409.1 145.8L413.1 149.8L409.1 153.8L405.1 149.8ZM415.6 144.7L419.6 148.7L415.6 152.7L411.6 148.7ZM422.1 143.6L426.1 147.6L422.1 151.6L418.1 147.6ZM428.7 142.7L432.7 146.7L428.7 150.7L424.7 146.7ZM435.2 141.8L439.2 145.8L435.2 149.8L431.2 145.8ZM441.8 141.0L445.8 145.0L441.8 149.0L437.8 145.0ZM448.3 140.3L452.3 144.3L448.3 148.3L444.3 144.3ZM454.9 139.7L458.9 143.7L454.9 147.7L450.9 143.7ZM461.5 139.1L465.5 143.1L461.5 147.1L457.5 143.1ZM468.0 138.5L472.0 142.5L468.0 146.5L464.0 142.5ZM474.6 138.0L478.6 142.0L474.6 146.0L470.6 142.0ZM481.2 137.5L485.2 141.5L481.2 145.5L477.2 141.5ZM487.8 137.1L491.8 141.1L487.8 145.1L483.8 141.1ZM494.4 136.6L498.4 140.6L494.4 144.6L490.4 140.6ZM500.9 136.2L504.9 140.2L500.9 144.2L496.9 140.2ZM507.5 135.7L511.5 139.7L507.5 143.7L503.5 139.7ZM514.1 135.1L518.1 139.1L514.1 143.1L510.1 139.1ZM520.7 134.8L524.7 138.8L520.7 142.8L516.7 138.8ZM527.3 134.7L531.3 138.7L527.3 142.7L523.3 138.7ZM533.9 134.8L537.9 138.8L533.9 142.8L529.9 138.8ZM540.5 135.0L544.5 139.0L540.5 143.0L536.5 139.0ZM547.1 135.5L551.1 139.5L547.1 143.5L543.1 139.5ZM553.6 136.1L557.6 140.1L553.6 144.1L549.6 140.1ZM556.5 136.5L560.5 140.5L556.5 144.5L552.5 140.5Z" fill="#ff11ff"/>
</g>
<g font-family="Liberation Sans, sans-serif" font-weight="bold" font-size="12.8" fill="#111"><text x="47.9" y="398.2" text-anchor="end">0</text><text x="47.9" y="333.6" text-anchor="end">50</text><text x="47.9" y="269.0" text-anchor="end" textLength="23.0" lengthAdjust="spacingAndGlyphs">100</text><text x="47.9" y="204.5" text-anchor="end" textLength="23.0" lengthAdjust="spacingAndGlyphs">150</text><text x="47.9" y="139.9" text-anchor="end" textLength="23.0" lengthAdjust="spacingAndGlyphs">200</text><text x="47.9" y="75.3" text-anchor="end" textLength="23.0" lengthAdjust="spacingAndGlyphs">250</text><text x="47.9" y="10.8" text-anchor="end" textLength="23.0" lengthAdjust="spacingAndGlyphs">300</text><text x="57.7" y="413.4" text-anchor="middle">0</text><text x="140.8" y="413.4" text-anchor="middle">2</text><text x="224.0" y="413.4" text-anchor="middle">4</text><text x="307.1" y="413.4" text-anchor="middle">6</text><text x="390.2" y="413.4" text-anchor="middle">8</text><text x="473.3" y="413.4" text-anchor="middle" textLength="14.6" lengthAdjust="spacingAndGlyphs">10</text><text x="556.5" y="413.4" text-anchor="middle" textLength="14.6" lengthAdjust="spacingAndGlyphs">12</text><text x="639.6" y="413.4" text-anchor="middle" textLength="14.6" lengthAdjust="spacingAndGlyphs">14</text></g>
<text x="282.2" y="432.3" font-family="Liberation Sans, sans-serif" font-weight="bold" font-size="16.5" fill="#111" textLength="147" lengthAdjust="spacingAndGlyphs" xml:space="preserve">Shear strain <tspan font-family="Liberation Serif, serif" font-weight="normal">γ</tspan> (%)</text>
<text transform="translate(13.1 267.9) rotate(-90)" font-family="Liberation Sans, sans-serif" font-weight="bold" font-size="17.3" fill="#111" textLength="156.6" lengthAdjust="spacingAndGlyphs" xml:space="preserve">Shear stress <tspan font-family="Liberation Serif, serif" font-weight="normal">τ</tspan> (kPa)</text>
<rect x="466.5" y="9.5" width="167.5" height="87.8" fill="#fff" stroke="#c4c4c4" stroke-width="1"/>
<path d="M475.5 25.4H508.4" stroke="#000" stroke-width="3" stroke-linecap="round"/>
<path d="M488.8 25.4a3.2 3.2 0 1 0 6.4 0a3.2 3.2 0 1 0 -6.4 0Z" fill="#000"/>
<text x="512.5" y="29.3" font-family="Liberation Sans, sans-serif" font-weight="bold" font-size="13" fill="#111" textLength="119.3" lengthAdjust="spacingAndGlyphs" xml:space="preserve">Unreinforced soil</text>
<path d="M475.5 42.4H508.4" stroke="#ff1111" stroke-width="3" stroke-linecap="round"/>
<path d="M488.8 42.4L494.5 39.2L494.5 45.6Z" fill="#ff1111"/>
<text x="512.5" y="46.3" font-family="Liberation Sans, sans-serif" font-weight="bold" font-size="13" fill="#111" textLength="110" lengthAdjust="spacingAndGlyphs" xml:space="preserve">10% Waste tires</text>
<path d="M475.5 58.9H508.4" stroke="#0a0afa" stroke-width="3" stroke-linecap="round"/>
<path d="M488.8 58.9a3.2 3.2 0 1 0 6.4 0a3.2 3.2 0 1 0 -6.4 0Z" fill="#0a0afa"/>
<circle cx="491.45" cy="58.4" r="0.8" fill="#dde"/>
<text x="512.5" y="62.8" font-family="Liberation Sans, sans-serif" font-weight="bold" font-size="13" fill="#111" textLength="110" lengthAdjust="spacingAndGlyphs" xml:space="preserve">20% Waste tires</text>
<path d="M475.5 75.3H508.4" stroke="#0b8282" stroke-width="3" stroke-linecap="round"/>
<path d="M491.9 78.5L488.8 72.7L495.1 72.7Z" fill="#0b8282"/>
<text x="512.5" y="79.2" font-family="Liberation Sans, sans-serif" font-weight="bold" font-size="13" fill="#111" textLength="110" lengthAdjust="spacingAndGlyphs" xml:space="preserve">30% Waste tires</text>
<path d="M475.5 91.6H508.4" stroke="#ff11ff" stroke-width="3" stroke-linecap="round"/>
<path d="M491.9 88.4L495.1 91.6L491.9 94.8L488.8 91.6Z" fill="#ff11ff"/>
<text x="512.5" y="95.5" font-family="Liberation Sans, sans-serif" font-weight="bold" font-size="13" fill="#111" textLength="110" lengthAdjust="spacingAndGlyphs" xml:space="preserve">40% Waste tires</text>
<text x="319.2" y="486" font-family="Liberation Serif, serif" font-size="30" fill="#111">a)</text>
<path d="M101.50 545.51V951.20" stroke="#c4c4c4" stroke-width="1"/>
<path d="M115.50 545.51V951.20" stroke="#b0b0b0" stroke-width="1"/>
<path d="M130.50 545.51V951.20" stroke="#ececec" stroke-width="1"/>
<path d="M145.50 545.51V951.20" stroke="#dcdcdc" stroke-width="1"/>
<path d="M174.50 545.51V951.20" stroke="#ececec" stroke-width="1"/>
<path d="M189.50 545.51V951.20" stroke="#c4c4c4" stroke-width="1"/>
<path d="M204.50 545.51V951.20" stroke="#c4c4c4" stroke-width="1"/>
<path d="M218.50 545.51V951.20" stroke="#ececec" stroke-width="1"/>
<path d="M248.50 545.51V951.20" stroke="#dcdcdc" stroke-width="1"/>
<path d="M262.50 545.51V951.20" stroke="#c4c4c4" stroke-width="1"/>
<path d="M277.50 545.51V951.20" stroke="#dcdcdc" stroke-width="1"/>
<path d="M292.50 545.51V951.20" stroke="#dcdcdc" stroke-width="1"/>
<path d="M321.50 545.51V951.20" stroke="#ececec" stroke-width="1"/>
<path d="M336.50 545.51V951.20" stroke="#c4c4c4" stroke-width="1"/>
<path d="M351.50 545.51V951.20" stroke="#c4c4c4" stroke-width="1"/>
<path d="M365.50 545.51V951.20" stroke="#ececec" stroke-width="1"/>
<path d="M395.50 545.51V951.20" stroke="#c4c4c4" stroke-width="1"/>
<path d="M410.50 545.51V951.20" stroke="#dcdcdc" stroke-width="1"/>
<path d="M424.50 545.51V951.20" stroke="#c4c4c4" stroke-width="1"/>
<path d="M439.50 545.51V951.20" stroke="#dcdcdc" stroke-width="1"/>
<path d="M469.50 545.51V951.20" stroke="#dcdcdc" stroke-width="1"/>
<path d="M483.50 545.51V951.20" stroke="#dcdcdc" stroke-width="1"/>
<path d="M498.50 545.51V951.20" stroke="#c4c4c4" stroke-width="1"/>
<path d="M513.50 545.51V951.20" stroke="#dcdcdc" stroke-width="1"/>
<path d="M542.50 545.51V951.20" stroke="#c4c4c4" stroke-width="1"/>
<path d="M557.50 545.51V951.20" stroke="#dcdcdc" stroke-width="1"/>
<path d="M572.50 545.51V951.20" stroke="#dcdcdc" stroke-width="1"/>
<path d="M586.50 545.51V951.20" stroke="#c4c4c4" stroke-width="1"/>
<path d="M616.50 545.51V951.20" stroke="#dcdcdc" stroke-width="1"/>
<path d="M630.50 545.51V951.20" stroke="#dcdcdc" stroke-width="1"/>
<path d="M645.50 545.51V951.20" stroke="#c4c4c4" stroke-width="1"/>
<path d="M660.50 545.51V951.20" stroke="#dcdcdc" stroke-width="1"/>
<path d="M86.30 937.50H675.10" stroke="#dcdcdc" stroke-width="1"/>
<path d="M86.30 924.50H675.10" stroke="#dcdcdc" stroke-width="1"/>
<path d="M86.30 910.50H675.10" stroke="#c4c4c4" stroke-width="1"/>
<path d="M86.30 897.50H675.10" stroke="#c4c4c4" stroke-width="1"/>
<path d="M86.30 870.50H675.10" stroke="#ececec" stroke-width="1"/>
<path d="M86.30 856.50H675.10" stroke="#c4c4c4" stroke-width="1"/>
<path d="M86.30 843.50H675.10" stroke="#dcdcdc" stroke-width="1"/>
<path d="M86.30 829.50H675.10" stroke="#c4c4c4" stroke-width="1"/>
<path d="M86.30 802.50H675.10" stroke="#dcdcdc" stroke-width="1"/>
<path d="M86.30 788.50H675.10" stroke="#dcdcdc" stroke-width="1"/>
<path d="M86.30 775.50H675.10" stroke="#c4c4c4" stroke-width="1"/>
<path d="M86.30 761.50H675.10" stroke="#c4c4c4" stroke-width="1"/>
<path d="M86.30 734.50H675.10" stroke="#dcdcdc" stroke-width="1"/>
<path d="M86.30 721.50H675.10" stroke="#ececec" stroke-width="1"/>
<path d="M86.30 707.50H675.10" stroke="#c4c4c4" stroke-width="1"/>
<path d="M86.30 694.50H675.10" stroke="#c4c4c4" stroke-width="1"/>
<path d="M86.30 667.50H675.10" stroke="#ececec" stroke-width="1"/>
<path d="M86.30 653.50H675.10" stroke="#c4c4c4" stroke-width="1"/>
<path d="M86.30 640.50H675.10" stroke="#dcdcdc" stroke-width="1"/>
<path d="M86.30 626.50H675.10" stroke="#c4c4c4" stroke-width="1"/>
<path d="M86.30 599.50H675.10" stroke="#dcdcdc" stroke-width="1"/>
<path d="M86.30 586.50H675.10" stroke="#ececec" stroke-width="1"/>
<path d="M86.30 572.50H675.10" stroke="#c4c4c4" stroke-width="1"/>
<path d="M86.30 559.50H675.10" stroke="#c4c4c4" stroke-width="1"/>
<path d="M159.90 545.51V951.20M233.50 545.51V951.20M307.10 545.51V951.20M380.70 545.51V951.20M454.30 545.51V951.20M527.90 545.51V951.20M601.50 545.51V951.20M86.30 883.59H675.10M86.30 815.97H675.10M86.30 748.36H675.10M86.30 680.74H675.10M86.30 613.12H675.10" stroke="#222" stroke-width="1.4" fill="none"/>
<rect x="86.30" y="545.51" width="588.80" height="405.69" fill="none" stroke="#111" stroke-width="2" stroke-linejoin="round"/>
<clipPath id="cb"><rect x="85.30" y="545.51" width="589.80" height="406.69"/></clipPath><g clip-path="url(#cb)">
<path d="M86.3 951.2 L87.0 945.7 L87.8 940.4 L88.5 935.4 L89.2 930.9 L90.0 926.9 L90.7 923.3 L91.5 919.9 L92.2 916.7 L92.9 913.6 L93.7 910.7 L94.4 908.0 L95.1 905.4 L95.9 902.9 L96.6 900.5 L97.3 898.2 L98.1 896.0 L98.8 893.9 L99.5 891.9 L100.3 889.9 L101.0 888.1 L101.8 886.3 L102.5 884.5 L103.2 882.9 L104.0 881.2 L104.7 879.7 L105.4 878.1 L106.2 876.7 L106.9 875.3 L107.6 873.9 L108.4 872.6 L109.1 871.3 L109.9 870.0 L110.6 868.7 L111.3 867.5 L112.1 866.2 L112.8 864.9 L113.5 863.7 L114.3 862.4 L115.0 861.2 L115.7 860.0 L116.5 858.8 L117.2 857.6 L117.9 856.4 L118.7 855.2 L119.4 854.0 L120.2 852.8 L120.9 851.5 L121.6 850.3 L122.4 849.1 L123.1 847.9 L123.8 846.8 L124.6 845.7 L125.3 844.6 L126.0 843.6 L126.8 842.6 L127.5 841.6 L128.3 840.7 L129.0 839.8 L129.7 838.9 L130.5 838.0 L131.2 837.2 L131.9 836.3 L132.7 835.5 L133.4 834.7 L134.1 833.9 L134.9 833.1 L135.6 832.4 L136.3 831.6 L137.1 830.9 L137.8 830.2 L138.6 829.4 L139.3 828.7 L140.0 828.0 L140.8 827.3 L141.5 826.7 L142.2 826.0 L143.0 825.4 L143.7 824.7 L144.4 824.1 L145.2 823.5 L145.9 822.9 L146.7 822.3 L147.4 821.8 L148.1 821.2 L148.9 820.7 L149.6 820.2 L150.3 819.7 L151.1 819.2 L151.8 818.8 L152.5 818.3 L153.3 817.9 L154.0 817.4 L154.7 817.0 L155.5 816.5 L156.2 816.1 L157.0 815.7 L157.7 815.2 L158.4 814.8 L159.2 814.3 L159.9 813.9 L160.6 813.4 L161.4 813.0 L162.1 812.5 L162.8 812.1 L163.6 811.6 L164.3 811.2 L165.1 810.7 L165.8 810.3 L166.5 809.9 L167.3 809.4 L168.0 809.0 L168.7 808.5 L169.5 808.1 L170.2 807.7 L170.9 807.2 L171.7 806.8 L172.4 806.4 L173.1 805.9 L173.9 805.5 L174.6 805.1 L175.4 804.7 L176.1 804.3 L176.8 803.9 L177.6 803.4 L178.3 803.0 L179.0 802.6 L179.8 802.2 L180.5 801.8 L181.2 801.4 L182.0 801.0 L182.7 800.6 L183.5 800.1 L184.2 799.7 L184.9 799.3 L185.7 798.8 L186.4 798.4 L187.1 797.9 L187.9 797.5 L188.6 797.0 L189.3 796.6 L190.1 796.2 L190.8 795.7 L191.5 795.3 L192.3 794.9 L193.0 794.5 L193.8 794.1 L194.5 793.7 L195.2 793.3 L196.0 793.0 L196.7 792.6 L197.4 792.3 L198.2 791.9 L198.9 791.6 L199.6 791.2 L200.4 790.9 L201.1 790.6 L201.9 790.2 L202.6 789.9 L203.3 789.6 L204.1 789.3 L204.8 789.0 L205.5 788.7 L206.3 788.4 L207.0 788.1 L207.7 787.8 L208.5 787.5 L209.2 787.3 L209.9 787.0 L210.7 786.7 L211.4 786.4 L212.2 786.2 L212.9 785.9 L213.6 785.6 L214.4 785.4 L215.1 785.1 L215.8 784.9 L216.6 784.7 L217.3 784.4 L218.0 784.2 L218.8 783.9 L219.5 783.7 L220.3 783.5 L221.0 783.3 L221.7 783.0 L222.5 782.8 L223.2 782.6 L223.9 782.4 L224.7 782.2 L225.4 782.0 L226.1 781.8 L226.9 781.6 L227.6 781.4 L228.3 781.2 L229.1 781.0 L229.8 780.8 L230.6 780.6 L231.3 780.4 L232.0 780.2 L232.8 780.0 L233.5 779.8 L234.2 779.7 L235.0 779.5 L235.7 779.3 L236.4 779.1 L237.2 778.9 L237.9 778.8 L238.7 778.6 L239.4 778.4 L240.1 778.2 L240.9 778.1 L241.6 777.9 L242.3 777.7 L243.1 777.5 L243.8 777.4 L244.5 777.2 L245.3 777.0 L246.0 776.8 L246.7 776.7 L247.5 776.5 L248.2 776.3 L249.0 776.1 L249.7 776.0 L250.4 775.8 L251.2 775.6 L251.9 775.5 L252.6 775.3 L253.4 775.1 L254.1 775.0 L254.8 774.8 L255.6 774.6 L256.3 774.5 L257.1 774.3 L257.8 774.2 L258.5 774.0 L259.3 773.8 L260.0 773.7 L260.7 773.5 L261.5 773.3 L262.2 773.2 L262.9 773.0 L263.7 772.9 L264.4 772.7 L265.1 772.5 L265.9 772.4 L266.6 772.2 L267.4 772.1 L268.1 771.9 L268.8 771.7 L269.6 771.6 L270.3 771.4 L271.0 771.3 L271.8 771.1 L272.5 771.0 L273.2 770.8 L274.0 770.7 L274.7 770.5 L275.5 770.4 L276.2 770.3 L276.9 770.1 L277.7 770.0 L278.4 769.8 L279.1 769.7 L279.9 769.6 L280.6 769.4 L281.3 769.3 L282.1 769.2 L282.8 769.1 L283.5 768.9 L284.3 768.8 L285.0 768.7 L285.8 768.6 L286.5 768.5 L287.2 768.4 L288.0 768.2 L288.7 768.1 L289.4 768.0 L290.2 767.9 L290.9 767.8 L291.6 767.7 L292.4 767.6 L293.1 767.5 L293.9 767.4 L294.6 767.3 L295.3 767.2 L296.1 767.1 L296.8 767.0 L297.5 766.9 L298.3 766.8 L299.0 766.7 L299.7 766.6 L300.5 766.5 L301.2 766.4 L301.9 766.3 L302.7 766.2 L303.4 766.1 L304.2 765.9 L304.9 765.8 L305.6 765.7 L306.4 765.6 L307.1 765.5 L307.8 765.4 L308.6 765.3 L309.3 765.2 L310.0 765.1 L310.8 765.0 L311.5 764.9 L312.3 764.8 L313.0 764.7 L313.7 764.6 L314.5 764.5 L315.2 764.3 L315.9 764.2 L316.7 764.1 L317.4 764.0 L318.1 763.9 L318.9 763.8 L319.6 763.7 L320.3 763.6 L321.1 763.5 L321.8 763.4 L322.6 763.3 L323.3 763.2 L324.0 763.0 L324.8 762.9 L325.5 762.8 L326.2 762.7 L327.0 762.6 L327.7 762.5 L328.4 762.4 L329.2 762.3 L329.9 762.2 L330.7 762.1 L331.4 762.0 L332.1 761.9 L332.9 761.8 L333.6 761.7 L334.3 761.6 L335.1 761.5 L335.8 761.4 L336.5 761.3 L337.3 761.2 L338.0 761.1 L338.7 761.0 L339.5 760.9 L340.2 760.8 L341.0 760.7 L341.7 760.6 L342.4 760.5 L343.2 760.4 L343.9 760.3 L344.6 760.2 L345.4 760.1 L346.1 760.0 L346.8 759.9 L347.6 759.8 L348.3 759.8 L349.1 759.7 L349.8 759.6 L350.5 759.5 L351.3 759.4 L352.0 759.3 L352.7 759.2 L353.5 759.1 L354.2 759.1 L354.9 759.0 L355.7 758.9 L356.4 758.8 L357.1 758.7 L357.9 758.6 L358.6 758.6 L359.4 758.5 L360.1 758.4 L360.8 758.3 L361.6 758.2 L362.3 758.1 L363.0 758.1 L363.8 758.0 L364.5 757.9 L365.2 757.8 L366.0 757.7 L366.7 757.7 L367.5 757.6 L368.2 757.5 L368.9 757.4 L369.7 757.3 L370.4 757.2 L371.1 757.2 L371.9 757.1 L372.6 757.0 L373.3 756.9 L374.1 756.8 L374.8 756.7 L375.5 756.7 L376.3 756.6 L377.0 756.5 L377.8 756.4 L378.5 756.3 L379.2 756.2 L380.0 756.1 L380.7 756.1 L381.4 756.0 L382.2 755.9 L382.9 755.8 L383.6 755.7 L384.4 755.6 L385.1 755.5 L385.9 755.4 L386.6 755.3 L387.3 755.2 L388.1 755.1 L388.8 755.0 L389.5 754.9 L390.3 754.8 L391.0 754.8 L391.7 754.7 L392.5 754.6 L393.2 754.5 L393.9 754.4 L394.7 754.3 L395.4 754.2 L396.2 754.1 L396.9 754.0 L397.6 753.9 L398.4 753.8 L399.1 753.7 L399.8 753.6 L400.6 753.5 L401.3 753.4 L402.0 753.3 L402.8 753.2 L403.5 753.1 L404.3 753.0 L405.0 752.9 L405.7 752.8 L406.5 752.8 L407.2 752.7 L407.9 752.6 L408.7 752.5 L409.4 752.4 L410.1 752.3 L410.9 752.3 L411.6 752.2 L412.3 752.1 L413.1 752.0 L413.8 752.0 L414.6 751.9 L415.3 751.8 L416.0 751.8 L416.8 751.7 L417.5 751.6 L418.2 751.6 L419.0 751.5 L419.7 751.5 L420.4 751.4 L421.2 751.3 L421.9 751.3 L422.7 751.2 L423.4 751.2 L424.1 751.1 L424.9 751.1 L425.6 751.0 L426.3 750.9 L427.1 750.9 L427.8 750.8 L428.5 750.8 L429.3 750.7 L430.0 750.7 L430.7 750.6 L431.5 750.6 L432.2 750.5 L433.0 750.5 L433.7 750.4 L434.4 750.4 L435.2 750.3 L435.9 750.3 L436.6 750.2 L437.4 750.2 L438.1 750.1 L438.8 750.1 L439.6 750.1 L440.3 750.0 L441.1 750.0 L441.8 749.9 L442.5 749.9 L443.3 749.8 L444.0 749.8 L444.7 749.8 L445.5 749.7 L446.2 749.7 L446.9 749.6 L447.7 749.6 L448.4 749.6 L449.1 749.5 L449.9 749.5 L450.6 749.5 L451.4 749.4 L452.1 749.4 L452.8 749.4 L453.6 749.3 L454.3 749.3 L455.0 749.3 L455.8 749.2 L456.5 749.2 L457.2 749.2 L458.0 749.2 L458.7 749.1 L459.5 749.1 L460.2 749.1 L460.9 749.1 L461.7 749.0 L462.4 749.0 L463.1 749.0 L463.9 749.0 L464.6 749.0 L465.3 748.9 L466.1 748.9 L466.8 748.9 L467.5 748.9 L468.3 748.9 L469.0 748.8 L469.8 748.8 L470.5 748.8 L471.2 748.8 L472.0 748.8 L472.7 748.7 L473.4 748.7 L474.2 748.7 L474.9 748.7 L475.6 748.7 L476.4 748.6 L477.1 748.6 L477.9 748.6 L478.6 748.6 L479.3 748.5 L480.1 748.5 L480.8 748.5 L481.5 748.5 L482.3 748.4 L483.0 748.4 L483.7 748.4 L484.5 748.3 L485.2 748.3 L485.9 748.3 L486.7 748.2 L487.4 748.2 L488.2 748.1 L488.9 748.1 L489.6 748.0 L490.4 748.0 L491.1 747.9 L491.8 747.8 L492.6 747.8 L493.3 747.7 L494.0 747.6 L494.8 747.6 L495.5 747.5 L496.3 747.4 L497.0 747.4 L497.7 747.3 L498.5 747.2 L499.2 747.1 L499.9 747.1 L500.7 747.0 L501.4 746.9 L502.1 746.9 L502.9 746.8 L503.6 746.8 L504.3 746.7 L505.1 746.7 L505.8 746.6 L506.6 746.6 L507.3 746.5 L508.0 746.5 L508.8 746.4 L509.5 746.4 L510.2 746.4 L511.0 746.4 L511.7 746.3 L512.4 746.3 L513.2 746.3 L513.9 746.3 L514.7 746.3 L515.4 746.3 L516.1 746.3 L516.9 746.3 L517.6 746.3 L518.3 746.3 L519.1 746.3 L519.8 746.3 L520.5 746.3 L521.3 746.3 L522.0 746.3 L522.7 746.3 L523.5 746.3 L524.2 746.3 L525.0 746.3 L525.7 746.3 L526.4 746.3 L527.2 746.3 L527.9 746.3 L528.6 746.3 L529.4 746.3 L530.1 746.3 L530.8 746.3 L531.6 746.3 L532.3 746.3" stroke="#ff1111" stroke-width="3" fill="none" stroke-linejoin="round" stroke-linecap="round"/>
<path d="M86.3 947.2L90.3 951.2L86.3 955.2L82.3 951.2ZM87.0 941.6L91.0 945.6L87.0 949.6L83.0 945.6ZM87.8 936.1L91.8 940.1L87.8 944.1L83.8 940.1ZM88.6 930.6L92.6 934.6L88.6 938.6L84.6 934.6ZM89.6 925.0L93.6 929.0L89.6 933.0L85.6 929.0ZM90.7 919.5L94.7 923.5L90.7 927.5L86.7 923.5ZM91.9 914.1L95.9 918.1L91.9 922.1L87.9 918.1ZM93.2 908.6L97.2 912.6L93.2 916.6L89.2 912.6ZM94.6 903.2L98.6 907.2L94.6 911.2L90.6 907.2ZM96.2 897.9L100.2 901.9L96.2 905.9L92.2 901.9ZM97.9 892.5L101.9 896.5L97.9 900.5L93.9 896.5ZM99.8 887.2L103.8 891.2L99.8 895.2L95.8 891.2ZM101.8 882.0L105.8 886.0L101.8 890.0L97.8 886.0ZM104.1 876.9L108.1 880.9L104.1 884.9L100.1 880.9ZM106.6 871.9L110.6 875.9L106.6 879.9L102.6 875.9ZM109.3 867.0L113.3 871.0L109.3 875.0L105.3 871.0ZM112.1 862.1L116.1 866.1L112.1 870.1L108.1 866.1ZM114.9 857.3L118.9 861.3L114.9 865.3L110.9 861.3ZM117.9 852.5L121.9 856.5L117.9 860.5L113.9 856.5ZM120.8 847.8L124.8 851.8L120.8 855.8L116.8 851.8ZM123.7 843.0L127.7 847.0L123.7 851.0L119.7 847.0ZM126.9 838.4L130.9 842.4L126.9 846.4L122.9 842.4ZM130.4 834.0L134.4 838.0L130.4 842.0L126.4 838.0ZM134.2 829.9L138.2 833.9L134.2 837.9L130.2 833.9ZM138.1 825.9L142.1 829.9L138.1 833.9L134.1 829.9ZM142.2 822.1L146.2 826.1L142.2 830.1L138.2 826.1ZM146.5 818.5L150.5 822.5L146.5 826.5L142.5 822.5ZM151.1 815.3L155.1 819.3L151.1 823.3L147.1 819.3ZM155.8 812.3L159.8 816.3L155.8 820.3L151.8 816.3ZM160.6 809.4L164.6 813.4L160.6 817.4L156.6 813.4ZM165.4 806.5L169.4 810.5L165.4 814.5L161.4 810.5ZM170.2 803.7L174.2 807.7L170.2 811.7L166.2 807.7ZM175.1 800.8L179.1 804.8L175.1 808.8L171.1 804.8ZM180.0 798.1L184.0 802.1L180.0 806.1L176.0 802.1ZM184.8 795.3L188.8 799.3L184.8 803.3L180.8 799.3ZM189.6 792.4L193.6 796.4L189.6 800.4L185.6 796.4ZM194.5 789.7L198.5 793.7L194.5 797.7L190.5 793.7ZM199.5 787.3L203.5 791.3L199.5 795.3L195.5 791.3ZM204.7 785.0L208.7 789.0L204.7 793.0L200.7 789.0ZM209.9 783.0L213.9 787.0L209.9 791.0L205.9 787.0ZM215.2 781.1L219.2 785.1L215.2 789.1L211.2 785.1ZM220.5 779.4L224.5 783.4L220.5 787.4L216.5 783.4ZM225.9 777.8L229.9 781.8L225.9 785.8L221.9 781.8ZM231.3 776.4L235.3 780.4L231.3 784.4L227.3 780.4ZM236.7 775.1L240.7 779.1L236.7 783.1L232.7 779.1ZM242.2 773.8L246.2 777.8L242.2 781.8L238.2 777.8ZM247.6 772.5L251.6 776.5L247.6 780.5L243.6 776.5ZM253.1 771.2L257.1 775.2L253.1 779.2L249.1 775.2ZM258.5 770.0L262.5 774.0L258.5 778.0L254.5 774.0ZM264.0 768.8L268.0 772.8L264.0 776.8L260.0 772.8ZM269.5 767.6L273.5 771.6L269.5 775.6L265.5 771.6ZM275.0 766.5L279.0 770.5L275.0 774.5L271.0 770.5ZM280.5 765.5L284.5 769.5L280.5 773.5L276.5 769.5ZM286.0 764.6L290.0 768.6L286.0 772.6L282.0 768.6ZM291.5 763.7L295.5 767.7L291.5 771.7L287.5 767.7ZM297.1 762.9L301.1 766.9L297.1 770.9L293.1 766.9ZM302.6 762.2L306.6 766.2L302.6 770.2L298.6 766.2ZM308.2 761.4L312.2 765.4L308.2 769.4L304.2 765.4ZM313.7 760.6L317.7 764.6L313.7 768.6L309.7 764.6ZM319.3 759.7L323.3 763.7L319.3 767.7L315.3 763.7ZM324.8 758.9L328.8 762.9L324.8 766.9L320.8 762.9ZM330.3 758.1L334.3 762.1L330.3 766.1L326.3 762.1ZM335.9 757.4L339.9 761.4L335.9 765.4L331.9 761.4ZM341.4 756.6L345.4 760.6L341.4 764.6L337.4 760.6ZM347.0 755.9L351.0 759.9L347.0 763.9L343.0 759.9ZM352.6 755.2L356.6 759.2L352.6 763.2L348.6 759.2ZM358.1 754.6L362.1 758.6L358.1 762.6L354.1 758.6ZM363.7 754.0L367.7 758.0L363.7 762.0L359.7 758.0ZM369.2 753.4L373.2 757.4L369.2 761.4L365.2 757.4ZM374.8 752.7L378.8 756.7L374.8 760.7L370.8 756.7ZM380.4 752.1L384.4 756.1L380.4 760.1L376.4 756.1ZM385.9 751.4L389.9 755.4L385.9 759.4L381.9 755.4ZM391.5 750.7L395.5 754.7L391.5 758.7L387.5 754.7ZM397.0 749.9L401.0 753.9L397.0 757.9L393.0 753.9ZM402.6 749.2L406.6 753.2L402.6 757.2L398.6 753.2ZM408.2 748.6L412.2 752.6L408.2 756.6L404.2 752.6ZM413.7 748.0L417.7 752.0L413.7 756.0L409.7 752.0ZM419.3 747.5L423.3 751.5L419.3 755.5L415.3 751.5ZM424.9 747.1L428.9 751.1L424.9 755.1L420.9 751.1ZM430.5 746.6L434.5 750.6L430.5 754.6L426.5 750.6ZM436.1 746.3L440.1 750.3L436.1 754.3L432.1 750.3ZM441.6 745.9L445.6 749.9L441.6 753.9L437.6 749.9ZM447.2 745.6L451.2 749.6L447.2 753.6L443.2 749.6ZM452.8 745.4L456.8 749.4L452.8 753.4L448.8 749.4ZM458.4 745.1L462.4 749.1L458.4 753.1L454.4 749.1ZM464.0 745.0L468.0 749.0L464.0 753.0L460.0 749.0ZM469.6 744.8L473.6 748.8L469.6 752.8L465.6 748.8ZM475.2 744.7L479.2 748.7L475.2 752.7L471.2 748.7ZM480.8 744.5L484.8 748.5L480.8 752.5L476.8 748.5ZM486.4 744.2L490.4 748.2L486.4 752.2L482.4 748.2ZM492.0 743.8L496.0 747.8L492.0 751.8L488.0 747.8ZM497.6 743.3L501.6 747.3L497.6 751.3L493.6 747.3ZM503.1 742.8L507.1 746.8L503.1 750.8L499.1 746.8ZM508.7 742.4L512.7 746.4L508.7 750.4L504.7 746.4ZM514.3 742.3L518.3 746.3L514.3 750.3L510.3 746.3ZM519.9 742.3L523.9 746.3L519.9 750.3L515.9 746.3ZM525.5 742.3L529.5 746.3L525.5 750.3L521.5 746.3ZM531.1 742.3L535.1 746.3L531.1 750.3L527.1 746.3ZM532.3 742.3L536.3 746.3L532.3 750.3L528.3 746.3Z" fill="#ff1111"/>
<path d="M86.3 951.2 L87.0 946.8 L87.8 941.9 L88.5 936.5 L89.2 930.9 L90.0 925.5 L90.7 920.8 L91.5 916.7 L92.2 912.9 L92.9 909.3 L93.7 905.8 L94.4 902.6 L95.1 899.5 L95.9 896.5 L96.6 893.6 L97.3 890.9 L98.1 888.2 L98.8 885.7 L99.5 883.2 L100.3 880.9 L101.0 878.6 L101.8 876.4 L102.5 874.3 L103.2 872.2 L104.0 870.3 L104.7 868.5 L105.4 866.8 L106.2 865.3 L106.9 863.9 L107.6 862.7 L108.4 861.5 L109.1 860.4 L109.9 859.3 L110.6 858.1 L111.3 856.8 L112.1 855.4 L112.8 854.0 L113.5 852.5 L114.3 850.9 L115.0 849.3 L115.7 847.7 L116.5 846.1 L117.2 844.6 L117.9 843.0 L118.7 841.6 L119.4 840.2 L120.2 838.8 L120.9 837.6 L121.6 836.3 L122.4 835.1 L123.1 833.8 L123.8 832.7 L124.6 831.5 L125.3 830.4 L126.0 829.3 L126.8 828.2 L127.5 827.2 L128.3 826.3 L129.0 825.3 L129.7 824.4 L130.5 823.5 L131.2 822.7 L131.9 821.8 L132.7 821.0 L133.4 820.1 L134.1 819.3 L134.9 818.4 L135.6 817.5 L136.3 816.6 L137.1 815.7 L137.8 814.7 L138.6 813.7 L139.3 812.7 L140.0 811.6 L140.8 810.6 L141.5 809.5 L142.2 808.5 L143.0 807.4 L143.7 806.4 L144.4 805.4 L145.2 804.5 L145.9 803.5 L146.7 802.6 L147.4 801.6 L148.1 800.7 L148.9 799.8 L149.6 798.9 L150.3 798.0 L151.1 797.1 L151.8 796.2 L152.5 795.3 L153.3 794.4 L154.0 793.6 L154.7 792.7 L155.5 791.9 L156.2 791.1 L157.0 790.3 L157.7 789.4 L158.4 788.6 L159.2 787.8 L159.9 787.0 L160.6 786.2 L161.4 785.4 L162.1 784.6 L162.8 783.8 L163.6 783.0 L164.3 782.2 L165.1 781.4 L165.8 780.6 L166.5 779.8 L167.3 779.1 L168.0 778.3 L168.7 777.5 L169.5 776.7 L170.2 775.9 L170.9 775.1 L171.7 774.3 L172.4 773.5 L173.1 772.7 L173.9 771.9 L174.6 771.0 L175.4 770.1 L176.1 769.2 L176.8 768.3 L177.6 767.4 L178.3 766.5 L179.0 765.7 L179.8 764.8 L180.5 763.9 L181.2 763.1 L182.0 762.3 L182.7 761.5 L183.5 760.8 L184.2 760.1 L184.9 759.4 L185.7 758.8 L186.4 758.1 L187.1 757.5 L187.9 756.9 L188.6 756.3 L189.3 755.7 L190.1 755.1 L190.8 754.5 L191.5 754.0 L192.3 753.4 L193.0 752.9 L193.8 752.3 L194.5 751.7 L195.2 751.2 L196.0 750.6 L196.7 750.1 L197.4 749.5 L198.2 749.0 L198.9 748.5 L199.6 747.9 L200.4 747.4 L201.1 746.9 L201.9 746.4 L202.6 745.9 L203.3 745.4 L204.1 744.9 L204.8 744.4 L205.5 743.9 L206.3 743.4 L207.0 743.0 L207.7 742.6 L208.5 742.1 L209.2 741.7 L209.9 741.3 L210.7 740.9 L211.4 740.5 L212.2 740.2 L212.9 739.8 L213.6 739.4 L214.4 739.0 L215.1 738.6 L215.8 738.2 L216.6 737.8 L217.3 737.4 L218.0 736.9 L218.8 736.5 L219.5 736.0 L220.3 735.5 L221.0 735.0 L221.7 734.5 L222.5 734.0 L223.2 733.5 L223.9 733.0 L224.7 732.4 L225.4 731.9 L226.1 731.4 L226.9 730.9 L227.6 730.3 L228.3 729.8 L229.1 729.3 L229.8 728.8 L230.6 728.4 L231.3 727.9 L232.0 727.4 L232.8 727.0 L233.5 726.5 L234.2 726.0 L235.0 725.5 L235.7 725.1 L236.4 724.6 L237.2 724.1 L237.9 723.7 L238.7 723.2 L239.4 722.8 L240.1 722.3 L240.9 721.9 L241.6 721.4 L242.3 721.0 L243.1 720.5 L243.8 720.1 L244.5 719.7 L245.3 719.2 L246.0 718.8 L246.7 718.4 L247.5 718.0 L248.2 717.6 L249.0 717.2 L249.7 716.8 L250.4 716.4 L251.2 716.0 L251.9 715.7 L252.6 715.3 L253.4 715.0 L254.1 714.6 L254.8 714.3 L255.6 713.9 L256.3 713.6 L257.1 713.3 L257.8 713.0 L258.5 712.6 L259.3 712.3 L260.0 712.0 L260.7 711.7 L261.5 711.4 L262.2 711.1 L262.9 710.8 L263.7 710.5 L264.4 710.3 L265.1 710.0 L265.9 709.7 L266.6 709.4 L267.4 709.1 L268.1 708.9 L268.8 708.6 L269.6 708.3 L270.3 708.0 L271.0 707.8 L271.8 707.5 L272.5 707.2 L273.2 707.0 L274.0 706.7 L274.7 706.4 L275.5 706.2 L276.2 705.9 L276.9 705.6 L277.7 705.4 L278.4 705.1 L279.1 704.8 L279.9 704.5 L280.6 704.3 L281.3 704.0 L282.1 703.7 L282.8 703.5 L283.5 703.2 L284.3 703.0 L285.0 702.7 L285.8 702.4 L286.5 702.2 L287.2 701.9 L288.0 701.7 L288.7 701.4 L289.4 701.2 L290.2 700.9 L290.9 700.6 L291.6 700.4 L292.4 700.1 L293.1 699.9 L293.9 699.6 L294.6 699.4 L295.3 699.1 L296.1 698.9 L296.8 698.6 L297.5 698.4 L298.3 698.2 L299.0 697.9 L299.7 697.7 L300.5 697.4 L301.2 697.2 L301.9 697.0 L302.7 696.7 L303.4 696.5 L304.2 696.2 L304.9 696.0 L305.6 695.8 L306.4 695.5 L307.1 695.3 L307.8 695.1 L308.6 694.8 L309.3 694.6 L310.0 694.4 L310.8 694.2 L311.5 693.9 L312.3 693.7 L313.0 693.5 L313.7 693.3 L314.5 693.0 L315.2 692.8 L315.9 692.6 L316.7 692.4 L317.4 692.2 L318.1 691.9 L318.9 691.7 L319.6 691.5 L320.3 691.3 L321.1 691.1 L321.8 690.9 L322.6 690.7 L323.3 690.4 L324.0 690.2 L324.8 690.0 L325.5 689.8 L326.2 689.6 L327.0 689.4 L327.7 689.2 L328.4 689.0 L329.2 688.8 L329.9 688.6 L330.7 688.4 L331.4 688.2 L332.1 688.0 L332.9 687.8 L333.6 687.6 L334.3 687.4 L335.1 687.2 L335.8 687.0 L336.5 686.8 L337.3 686.6 L338.0 686.4 L338.7 686.2 L339.5 686.0 L340.2 685.8 L341.0 685.5 L341.7 685.3 L342.4 685.1 L343.2 684.9 L343.9 684.7 L344.6 684.5 L345.4 684.3 L346.1 684.1 L346.8 683.9 L347.6 683.8 L348.3 683.6 L349.1 683.4 L349.8 683.2 L350.5 683.0 L351.3 682.8 L352.0 682.6 L352.7 682.5 L353.5 682.3 L354.2 682.1 L354.9 681.9 L355.7 681.8 L356.4 681.6 L357.1 681.4 L357.9 681.3 L358.6 681.1 L359.4 681.0 L360.1 680.9 L360.8 680.7 L361.6 680.6 L362.3 680.4 L363.0 680.3 L363.8 680.2 L364.5 680.0 L365.2 679.9 L366.0 679.8 L366.7 679.7 L367.5 679.5 L368.2 679.4 L368.9 679.3 L369.7 679.2 L370.4 679.1 L371.1 679.0 L371.9 678.8 L372.6 678.7 L373.3 678.6 L374.1 678.5 L374.8 678.4 L375.5 678.3 L376.3 678.2 L377.0 678.1 L377.8 677.9 L378.5 677.8 L379.2 677.7 L380.0 677.6 L380.7 677.5 L381.4 677.4 L382.2 677.3 L382.9 677.2 L383.6 677.0 L384.4 676.9 L385.1 676.8 L385.9 676.7 L386.6 676.6 L387.3 676.5 L388.1 676.4 L388.8 676.3 L389.5 676.2 L390.3 676.0 L391.0 675.9 L391.7 675.8 L392.5 675.7 L393.2 675.6 L393.9 675.5 L394.7 675.4 L395.4 675.3 L396.2 675.2 L396.9 675.1 L397.6 675.0 L398.4 674.9 L399.1 674.8 L399.8 674.7 L400.6 674.6 L401.3 674.5 L402.0 674.4 L402.8 674.3 L403.5 674.1 L404.3 674.0 L405.0 673.9 L405.7 673.8 L406.5 673.8 L407.2 673.7 L407.9 673.6 L408.7 673.5 L409.4 673.4 L410.1 673.3 L410.9 673.2 L411.6 673.1 L412.3 673.0 L413.1 672.9 L413.8 672.8 L414.6 672.7 L415.3 672.6 L416.0 672.5 L416.8 672.4 L417.5 672.4 L418.2 672.3 L419.0 672.2 L419.7 672.1 L420.4 672.0 L421.2 671.9 L421.9 671.8 L422.7 671.7 L423.4 671.6 L424.1 671.5 L424.9 671.4 L425.6 671.3 L426.3 671.2 L427.1 671.2 L427.8 671.1 L428.5 671.0 L429.3 670.9 L430.0 670.8 L430.7 670.7 L431.5 670.6 L432.2 670.5 L433.0 670.4 L433.7 670.3 L434.4 670.2 L435.2 670.2 L435.9 670.1 L436.6 670.0 L437.4 669.9 L438.1 669.8 L438.8 669.7 L439.6 669.7 L440.3 669.6 L441.1 669.5 L441.8 669.4 L442.5 669.4 L443.3 669.3 L444.0 669.2 L444.7 669.2 L445.5 669.1 L446.2 669.1 L446.9 669.0 L447.7 668.9 L448.4 668.9 L449.1 668.8 L449.9 668.8 L450.6 668.7 L451.4 668.7 L452.1 668.7 L452.8 668.6 L453.6 668.6 L454.3 668.6 L455.0 668.5 L455.8 668.5 L456.5 668.5 L457.2 668.5 L458.0 668.4 L458.7 668.4 L459.5 668.4 L460.2 668.4 L460.9 668.4 L461.7 668.3 L462.4 668.3 L463.1 668.3 L463.9 668.3 L464.6 668.3 L465.3 668.2 L466.1 668.2 L466.8 668.2 L467.5 668.2 L468.3 668.2 L469.0 668.2 L469.8 668.1 L470.5 668.1 L471.2 668.1 L472.0 668.1 L472.7 668.1 L473.4 668.1 L474.2 668.1 L474.9 668.1 L475.6 668.0 L476.4 668.0 L477.1 668.0 L477.9 668.0 L478.6 668.0 L479.3 668.0 L480.1 668.0 L480.8 667.9 L481.5 667.9 L482.3 667.9 L483.0 667.9 L483.7 667.9 L484.5 667.9 L485.2 667.9 L485.9 667.9 L486.7 667.8 L487.4 667.8 L488.2 667.8 L488.9 667.8 L489.6 667.8 L490.4 667.8 L491.1 667.7 L491.8 667.7 L492.6 667.7 L493.3 667.7 L494.0 667.7 L494.8 667.7 L495.5 667.7 L496.3 667.6 L497.0 667.6 L497.7 667.6 L498.5 667.6 L499.2 667.6 L499.9 667.6 L500.7 667.6 L501.4 667.5 L502.1 667.5 L502.9 667.5 L503.6 667.5 L504.3 667.5 L505.1 667.5 L505.8 667.5 L506.6 667.4 L507.3 667.4 L508.0 667.4 L508.8 667.4 L509.5 667.4 L510.2 667.4 L511.0 667.4 L511.7 667.4 L512.4 667.3 L513.2 667.3 L513.9 667.3 L514.7 667.3 L515.4 667.3 L516.1 667.3 L516.9 667.3 L517.6 667.3 L518.3 667.3 L519.1 667.3 L519.8 667.3 L520.5 667.2 L521.3 667.2 L522.0 667.2 L522.7 667.2 L523.5 667.2 L524.2 667.2 L525.0 667.2 L525.7 667.2 L526.4 667.2 L527.2 667.2 L527.9 667.2 L528.6 667.2 L529.4 667.2 L530.1 667.2 L530.8 667.2 L531.6 667.2 L532.3 667.2 L533.1 667.2 L533.8 667.2 L534.5 667.2 L535.3 667.2 L536.0 667.2 L536.7 667.2 L537.5 667.2 L538.2 667.2 L538.9 667.2 L539.7 667.2 L540.4 667.2 L541.1 667.2 L541.9 667.2 L542.6 667.2 L543.4 667.2 L544.1 667.2 L544.8 667.2 L545.6 667.2 L546.3 667.2 L547.0 667.2 L547.8 667.2 L548.5 667.2 L549.2 667.2 L550.0 667.2 L550.7 667.2 L551.5 667.2 L552.2 667.2 L552.9 667.2 L553.7 667.2 L554.4 667.2 L555.1 667.2 L555.9 667.2 L556.6 667.2 L557.3 667.2 L558.1 667.2 L558.8 667.2 L559.5 667.2 L560.3 667.2 L561.0 667.2 L561.8 667.2 L562.5 667.2 L563.2 667.2 L564.0 667.2 L564.7 667.2 L565.4 667.2 L566.2 667.2 L566.9 667.2 L567.6 667.2 L568.4 667.2 L569.1 667.2 L569.9 667.2 L570.6 667.2 L571.3 667.2 L572.1 667.2 L572.8 667.2 L573.5 667.2 L574.3 667.2 L575.0 667.2 L575.7 667.2 L576.5 667.2 L577.2 667.2 L577.9 667.2 L578.7 667.3 L579.4 667.3 L580.2 667.3 L580.9 667.3 L581.6 667.3 L582.4 667.3 L583.1 667.3 L583.8 667.3 L584.6 667.3 L585.3 667.4 L586.0 667.4 L586.8 667.4 L587.5 667.4 L588.3 667.4 L589.0 667.4 L589.7 667.5 L590.5 667.5 L591.2 667.5 L591.9 667.5 L592.7 667.5 L593.4 667.5 L594.1 667.6 L594.9 667.6 L595.6 667.6 L596.3 667.6 L597.1 667.7 L597.8 667.7 L598.6 667.7 L599.3 667.7 L600.0 667.8 L600.8 667.8 L601.5 667.8 L602.2 667.8 L603.0 667.9 L603.7 667.9 L604.4 667.9 L605.2 667.9 L605.9 668.0 L606.7 668.0 L607.4 668.0 L608.1 668.1 L608.9 668.1 L609.6 668.1 L610.3 668.1 L611.1 668.2 L611.8 668.2 L612.5 668.2 L613.3 668.3 L614.0 668.3 L614.7 668.3 L615.5 668.4 L616.2 668.4 L617.0 668.4 L617.7 668.4 L618.4 668.5 L619.2 668.5 L619.9 668.5 L620.6 668.6" stroke="#0a0afa" stroke-width="3" fill="none" stroke-linejoin="round" stroke-linecap="round"/>
<path d="M82.3 951.2L89.5 947.2L89.5 955.2ZM83.2 945.7L90.4 941.7L90.4 949.7ZM84.0 940.1L91.2 936.1L91.2 944.1ZM84.8 934.6L92.0 930.6L92.0 938.6ZM85.5 929.0L92.7 925.0L92.7 933.0ZM86.3 923.5L93.5 919.5L93.5 927.5ZM87.2 918.0L94.4 914.0L94.4 922.0ZM88.3 912.5L95.5 908.5L95.5 916.5ZM89.4 907.0L96.6 903.0L96.6 911.0ZM90.7 901.5L97.9 897.5L97.9 905.5ZM92.0 896.1L99.2 892.1L99.2 900.1ZM93.4 890.7L100.6 886.7L100.6 894.7ZM94.9 885.3L102.1 881.3L102.1 889.3ZM96.6 879.9L103.8 875.9L103.8 883.9ZM98.4 874.6L105.6 870.6L105.6 878.6ZM100.3 869.4L107.5 865.4L107.5 873.4ZM102.7 864.3L109.9 860.3L109.9 868.3ZM105.7 859.6L112.9 855.6L112.9 863.6ZM108.4 854.7L115.6 850.7L115.6 858.7ZM110.9 849.6L118.1 845.6L118.1 853.6ZM113.2 844.6L120.4 840.6L120.4 848.6ZM115.8 839.6L123.0 835.6L123.0 843.6ZM118.6 834.7L125.8 830.7L125.8 838.7ZM121.6 830.0L128.8 826.0L128.8 834.0ZM124.9 825.5L132.1 821.5L132.1 829.5ZM128.5 821.2L135.7 817.2L135.7 825.2ZM132.1 816.9L139.3 812.9L139.3 820.9ZM135.5 812.5L142.7 808.5L142.7 816.5ZM138.7 807.9L145.9 803.9L145.9 811.9ZM142.0 803.4L149.2 799.4L149.2 807.4ZM145.5 799.0L152.7 795.0L152.7 803.0ZM149.1 794.7L156.3 790.7L156.3 798.7ZM152.8 790.5L160.0 786.5L160.0 794.5ZM156.5 786.3L163.7 782.3L163.7 790.3ZM160.3 782.2L167.5 778.2L167.5 786.2ZM164.1 778.1L171.3 774.1L171.3 782.1ZM168.0 774.0L175.2 770.0L175.2 778.0ZM171.6 769.8L178.8 765.8L178.8 773.8ZM175.2 765.5L182.4 761.5L182.4 769.5ZM178.9 761.3L186.1 757.3L186.1 765.3ZM183.1 757.5L190.3 753.5L190.3 761.5ZM187.5 754.0L194.7 750.0L194.7 758.0ZM191.9 750.7L199.1 746.7L199.1 754.7ZM196.4 747.4L203.6 743.4L203.6 751.4ZM201.1 744.2L208.3 740.2L208.3 748.2ZM205.9 741.4L213.1 737.4L213.1 745.4ZM210.8 738.7L218.0 734.7L218.0 742.7ZM215.7 735.9L222.9 731.9L222.9 739.9ZM220.3 732.7L227.5 728.7L227.5 736.7ZM224.8 729.5L232.0 725.5L232.0 733.5ZM229.5 726.5L236.7 722.5L236.7 730.5ZM234.3 723.5L241.5 719.5L241.5 727.5ZM239.1 720.5L246.3 716.5L246.3 724.5ZM243.9 717.8L251.1 713.8L251.1 721.8ZM248.9 715.2L256.1 711.2L256.1 719.2ZM254.0 712.9L261.2 708.9L261.2 716.9ZM259.2 710.7L266.4 706.7L266.4 714.7ZM264.4 708.7L271.6 704.7L271.6 712.7ZM269.7 706.8L276.9 702.8L276.9 710.8ZM274.9 704.9L282.1 700.9L282.1 708.9ZM280.2 703.0L287.4 699.0L287.4 707.0ZM285.5 701.1L292.7 697.1L292.7 705.1ZM290.8 699.3L298.0 695.3L298.0 703.3ZM296.1 697.6L303.3 693.6L303.3 701.6ZM301.4 695.8L308.6 691.8L308.6 699.8ZM306.8 694.2L314.0 690.2L314.0 698.2ZM312.1 692.5L319.3 688.5L319.3 696.5ZM317.5 691.0L324.7 687.0L324.7 695.0ZM322.9 689.4L330.1 685.4L330.1 693.4ZM328.3 687.9L335.5 683.9L335.5 691.9ZM333.7 686.5L340.9 682.5L340.9 690.5ZM339.1 685.0L346.3 681.0L346.3 689.0ZM344.5 683.5L351.7 679.5L351.7 687.5ZM349.9 682.2L357.1 678.2L357.1 686.2ZM355.4 681.0L362.6 677.0L362.6 685.0ZM360.9 680.0L368.1 676.0L368.1 684.0ZM366.4 679.1L373.6 675.1L373.6 683.1ZM372.0 678.2L379.2 674.2L379.2 682.2ZM377.5 677.4L384.7 673.4L384.7 681.4ZM383.0 676.5L390.2 672.5L390.2 680.5ZM388.6 675.7L395.8 671.7L395.8 679.7ZM394.1 674.9L401.3 670.9L401.3 678.9ZM399.7 674.1L406.9 670.1L406.9 678.1ZM405.2 673.4L412.4 669.4L412.4 677.4ZM410.8 672.7L418.0 668.7L418.0 676.7ZM416.3 672.0L423.5 668.0L423.5 676.0ZM421.9 671.3L429.1 667.3L429.1 675.3ZM427.4 670.6L434.6 666.6L434.6 674.6ZM433.0 670.0L440.2 666.0L440.2 674.0ZM438.6 669.4L445.8 665.4L445.8 673.4ZM444.1 668.9L451.3 664.9L451.3 672.9ZM449.7 668.6L456.9 664.6L456.9 672.6ZM455.3 668.4L462.5 664.4L462.5 672.4ZM460.9 668.3L468.1 664.3L468.1 672.3ZM466.5 668.1L473.7 664.1L473.7 672.1ZM472.1 668.0L479.3 664.0L479.3 672.0ZM477.7 667.9L484.9 663.9L484.9 671.9ZM483.3 667.8L490.5 663.8L490.5 671.8ZM488.9 667.7L496.1 663.7L496.1 671.7ZM494.5 667.6L501.7 663.6L501.7 671.6ZM500.1 667.5L507.3 663.5L507.3 671.5ZM505.7 667.4L512.9 663.4L512.9 671.4ZM511.3 667.3L518.5 663.3L518.5 671.3ZM516.9 667.2L524.1 663.2L524.1 671.2ZM522.5 667.2L529.7 663.2L529.7 671.2ZM528.1 667.2L535.3 663.2L535.3 671.2ZM533.7 667.2L540.9 663.2L540.9 671.2ZM539.3 667.2L546.5 663.2L546.5 671.2ZM544.9 667.2L552.1 663.2L552.1 671.2ZM550.5 667.2L557.7 663.2L557.7 671.2ZM556.1 667.2L563.3 663.2L563.3 671.2ZM561.7 667.2L568.9 663.2L568.9 671.2ZM567.3 667.2L574.5 663.2L574.5 671.2ZM572.9 667.2L580.1 663.2L580.1 671.2ZM578.5 667.3L585.7 663.3L585.7 671.3ZM584.1 667.4L591.3 663.4L591.3 671.4ZM589.7 667.6L596.9 663.6L596.9 671.6ZM595.3 667.7L602.5 663.7L602.5 671.7ZM600.9 667.9L608.1 663.9L608.1 671.9ZM606.5 668.1L613.7 664.1L613.7 672.1ZM612.1 668.4L619.3 664.4L619.3 672.4ZM616.6 668.6L623.8 664.6L623.8 672.6Z" fill="#0a0afa"/>
<path d="M86.3 951.2 L87.0 947.2 L87.8 942.6 L88.5 937.3 L89.2 931.8 L90.0 926.4 L90.7 921.7 L91.5 917.7 L92.2 913.8 L92.9 910.2 L93.7 906.8 L94.4 903.6 L95.1 900.5 L95.9 897.5 L96.6 894.6 L97.3 891.8 L98.1 889.2 L98.8 886.6 L99.5 884.2 L100.3 881.8 L101.0 879.5 L101.8 877.4 L102.5 875.2 L103.2 873.1 L104.0 871.1 L104.7 869.3 L105.4 867.6 L106.2 866.1 L106.9 864.8 L107.6 863.7 L108.4 862.6 L109.1 861.6 L109.9 860.5 L110.6 859.4 L111.3 858.2 L112.1 856.8 L112.8 855.4 L113.5 853.9 L114.3 852.3 L115.0 850.7 L115.7 849.1 L116.5 847.4 L117.2 845.8 L117.9 844.3 L118.7 842.8 L119.4 841.4 L120.2 840.1 L120.9 838.8 L121.6 837.5 L122.4 836.3 L123.1 835.1 L123.8 833.9 L124.6 832.8 L125.3 831.7 L126.0 830.6 L126.8 829.6 L127.5 828.6 L128.3 827.6 L129.0 826.7 L129.7 825.9 L130.5 825.0 L131.2 824.2 L131.9 823.4 L132.7 822.6 L133.4 821.8 L134.1 820.9 L134.9 820.1 L135.6 819.3 L136.3 818.4 L137.1 817.5 L137.8 816.5 L138.6 815.5 L139.3 814.5 L140.0 813.4 L140.8 812.3 L141.5 811.3 L142.2 810.2 L143.0 809.2 L143.7 808.2 L144.4 807.2 L145.2 806.2 L145.9 805.3 L146.7 804.4 L147.4 803.4 L148.1 802.5 L148.9 801.6 L149.6 800.7 L150.3 799.9 L151.1 799.0 L151.8 798.1 L152.5 797.3 L153.3 796.5 L154.0 795.7 L154.7 794.9 L155.5 794.2 L156.2 793.4 L157.0 792.7 L157.7 791.9 L158.4 791.2 L159.2 790.5 L159.9 789.7 L160.6 789.0 L161.4 788.2 L162.1 787.5 L162.8 786.7 L163.6 785.9 L164.3 785.1 L165.1 784.3 L165.8 783.5 L166.5 782.7 L167.3 781.9 L168.0 781.1 L168.7 780.3 L169.5 779.5 L170.2 778.7 L170.9 777.9 L171.7 777.1 L172.4 776.3 L173.1 775.6 L173.9 774.8 L174.6 774.0 L175.4 773.3 L176.1 772.5 L176.8 771.7 L177.6 771.0 L178.3 770.2 L179.0 769.5 L179.8 768.8 L180.5 768.0 L181.2 767.4 L182.0 766.7 L182.7 766.0 L183.5 765.4 L184.2 764.8 L184.9 764.2 L185.7 763.6 L186.4 763.1 L187.1 762.5 L187.9 762.0 L188.6 761.5 L189.3 761.0 L190.1 760.4 L190.8 759.9 L191.5 759.4 L192.3 758.9 L193.0 758.4 L193.8 757.9 L194.5 757.4 L195.2 756.9 L196.0 756.4 L196.7 755.9 L197.4 755.3 L198.2 754.8 L198.9 754.3 L199.6 753.8 L200.4 753.3 L201.1 752.8 L201.9 752.3 L202.6 751.8 L203.3 751.3 L204.1 750.8 L204.8 750.3 L205.5 749.8 L206.3 749.3 L207.0 748.8 L207.7 748.3 L208.5 747.7 L209.2 747.2 L209.9 746.7 L210.7 746.2 L211.4 745.7 L212.2 745.2 L212.9 744.6 L213.6 744.1 L214.4 743.6 L215.1 743.1 L215.8 742.6 L216.6 742.1 L217.3 741.6 L218.0 741.0 L218.8 740.5 L219.5 740.0 L220.3 739.5 L221.0 738.9 L221.7 738.4 L222.5 737.9 L223.2 737.3 L223.9 736.8 L224.7 736.2 L225.4 735.7 L226.1 735.2 L226.9 734.7 L227.6 734.2 L228.3 733.8 L229.1 733.3 L229.8 732.9 L230.6 732.5 L231.3 732.1 L232.0 731.7 L232.8 731.4 L233.5 731.0 L234.2 730.7 L235.0 730.4 L235.7 730.1 L236.4 729.7 L237.2 729.4 L237.9 729.1 L238.7 728.8 L239.4 728.4 L240.1 728.1 L240.9 727.7 L241.6 727.3 L242.3 726.9 L243.1 726.6 L243.8 726.2 L244.5 725.8 L245.3 725.4 L246.0 725.0 L246.7 724.6 L247.5 724.2 L248.2 723.8 L249.0 723.4 L249.7 723.0 L250.4 722.6 L251.2 722.2 L251.9 721.8 L252.6 721.4 L253.4 721.0 L254.1 720.7 L254.8 720.3 L255.6 719.9 L256.3 719.6 L257.1 719.2 L257.8 718.8 L258.5 718.5 L259.3 718.1 L260.0 717.7 L260.7 717.4 L261.5 717.0 L262.2 716.7 L262.9 716.3 L263.7 715.9 L264.4 715.6 L265.1 715.2 L265.9 714.9 L266.6 714.6 L267.4 714.2 L268.1 713.9 L268.8 713.5 L269.6 713.2 L270.3 712.9 L271.0 712.6 L271.8 712.3 L272.5 711.9 L273.2 711.6 L274.0 711.3 L274.7 711.1 L275.5 710.8 L276.2 710.5 L276.9 710.2 L277.7 710.0 L278.4 709.7 L279.1 709.4 L279.9 709.2 L280.6 708.9 L281.3 708.7 L282.1 708.5 L282.8 708.2 L283.5 708.0 L284.3 707.8 L285.0 707.5 L285.8 707.3 L286.5 707.1 L287.2 706.9 L288.0 706.7 L288.7 706.5 L289.4 706.3 L290.2 706.1 L290.9 705.8 L291.6 705.6 L292.4 705.4 L293.1 705.2 L293.9 705.0 L294.6 704.8 L295.3 704.6 L296.1 704.4 L296.8 704.2 L297.5 704.0 L298.3 703.8 L299.0 703.6 L299.7 703.4 L300.5 703.2 L301.2 703.0 L301.9 702.8 L302.7 702.6 L303.4 702.4 L304.2 702.1 L304.9 701.9 L305.6 701.7 L306.4 701.5 L307.1 701.3 L307.8 701.0 L308.6 700.8 L309.3 700.6 L310.0 700.3 L310.8 700.1 L311.5 699.8 L312.3 699.6 L313.0 699.3 L313.7 699.1 L314.5 698.8 L315.2 698.5 L315.9 698.3 L316.7 698.0 L317.4 697.8 L318.1 697.5 L318.9 697.2 L319.6 697.0 L320.3 696.7 L321.1 696.4 L321.8 696.2 L322.6 695.9 L323.3 695.7 L324.0 695.4 L324.8 695.1 L325.5 694.9 L326.2 694.6 L327.0 694.4 L327.7 694.1 L328.4 693.9 L329.2 693.6 L329.9 693.4 L330.7 693.1 L331.4 692.9 L332.1 692.7 L332.9 692.4 L333.6 692.2 L334.3 692.0 L335.1 691.8 L335.8 691.6 L336.5 691.3 L337.3 691.1 L338.0 690.9 L338.7 690.7 L339.5 690.5 L340.2 690.3 L341.0 690.1 L341.7 689.9 L342.4 689.7 L343.2 689.5 L343.9 689.4 L344.6 689.2 L345.4 689.0 L346.1 688.8 L346.8 688.6 L347.6 688.4 L348.3 688.2 L349.1 688.1 L349.8 687.9 L350.5 687.7 L351.3 687.5 L352.0 687.4 L352.7 687.2 L353.5 687.0 L354.2 686.9 L354.9 686.7 L355.7 686.5 L356.4 686.4 L357.1 686.2 L357.9 686.0 L358.6 685.9 L359.4 685.7 L360.1 685.6 L360.8 685.4 L361.6 685.3 L362.3 685.1 L363.0 684.9 L363.8 684.8 L364.5 684.6 L365.2 684.5 L366.0 684.4 L366.7 684.2 L367.5 684.1 L368.2 683.9 L368.9 683.8 L369.7 683.6 L370.4 683.5 L371.1 683.4 L371.9 683.2 L372.6 683.1 L373.3 682.9 L374.1 682.8 L374.8 682.7 L375.5 682.6 L376.3 682.4 L377.0 682.3 L377.8 682.2 L378.5 682.0 L379.2 681.9 L380.0 681.8 L380.7 681.7 L381.4 681.6 L382.2 681.5 L382.9 681.3 L383.6 681.2 L384.4 681.1 L385.1 681.0 L385.9 680.9 L386.6 680.8 L387.3 680.7 L388.1 680.6 L388.8 680.5 L389.5 680.4 L390.3 680.3 L391.0 680.2 L391.7 680.1 L392.5 680.0 L393.2 679.9 L393.9 679.8 L394.7 679.7 L395.4 679.6 L396.2 679.5 L396.9 679.4 L397.6 679.3 L398.4 679.2 L399.1 679.1 L399.8 679.0 L400.6 678.9 L401.3 678.8 L402.0 678.7 L402.8 678.6 L403.5 678.5 L404.3 678.4 L405.0 678.3 L405.7 678.2 L406.5 678.1 L407.2 678.0 L407.9 677.9 L408.7 677.8 L409.4 677.8 L410.1 677.7 L410.9 677.6 L411.6 677.5 L412.3 677.4 L413.1 677.3 L413.8 677.2 L414.6 677.1 L415.3 677.0 L416.0 676.9 L416.8 676.8 L417.5 676.7 L418.2 676.6 L419.0 676.4 L419.7 676.3 L420.4 676.2 L421.2 676.1 L421.9 676.0 L422.7 675.9 L423.4 675.8 L424.1 675.6 L424.9 675.5 L425.6 675.4 L426.3 675.3 L427.1 675.1 L427.8 675.0 L428.5 674.9 L429.3 674.8 L430.0 674.7 L430.7 674.5 L431.5 674.4 L432.2 674.3 L433.0 674.2 L433.7 674.0 L434.4 673.9 L435.2 673.8 L435.9 673.7 L436.6 673.6 L437.4 673.4 L438.1 673.3 L438.8 673.2 L439.6 673.1 L440.3 673.0 L441.1 672.9 L441.8 672.8 L442.5 672.7 L443.3 672.6 L444.0 672.5 L444.7 672.4 L445.5 672.3 L446.2 672.2 L446.9 672.1 L447.7 672.1 L448.4 672.0 L449.1 671.9 L449.9 671.9 L450.6 671.8 L451.4 671.7 L452.1 671.7 L452.8 671.6 L453.6 671.6 L454.3 671.5 L455.0 671.5 L455.8 671.5 L456.5 671.4 L457.2 671.4 L458.0 671.4 L458.7 671.3 L459.5 671.3 L460.2 671.3 L460.9 671.3 L461.7 671.2 L462.4 671.2 L463.1 671.2 L463.9 671.2 L464.6 671.2 L465.3 671.1 L466.1 671.1 L466.8 671.1 L467.5 671.1 L468.3 671.1 L469.0 671.0 L469.8 671.0 L470.5 671.0 L471.2 671.0 L472.0 671.0 L472.7 670.9 L473.4 670.9 L474.2 670.9 L474.9 670.9 L475.6 670.9 L476.4 670.9 L477.1 670.8 L477.9 670.8 L478.6 670.8 L479.3 670.8 L480.1 670.7 L480.8 670.7 L481.5 670.7 L482.3 670.7 L483.0 670.6 L483.7 670.6 L484.5 670.6 L485.2 670.5 L485.9 670.5 L486.7 670.5 L487.4 670.4 L488.2 670.4 L488.9 670.3 L489.6 670.3 L490.4 670.2 L491.1 670.2 L491.8 670.1 L492.6 670.1 L493.3 670.0 L494.0 670.0 L494.8 669.9 L495.5 669.9 L496.3 669.8 L497.0 669.7 L497.7 669.7 L498.5 669.6 L499.2 669.6 L499.9 669.5 L500.7 669.5 L501.4 669.4 L502.1 669.4 L502.9 669.4 L503.6 669.3 L504.3 669.3 L505.1 669.2 L505.8 669.2 L506.6 669.2 L507.3 669.2 L508.0 669.1 L508.8 669.1 L509.5 669.1 L510.2 669.1 L511.0 669.1 L511.7 669.1 L512.4 669.2 L513.2 669.3 L513.9 669.4 L514.7 669.5 L515.4 669.6 L516.1 669.8 L516.9 669.9 L517.6 670.1 L518.3 670.3 L519.1 670.5 L519.8 670.7 L520.5 670.9 L521.3 671.0 L521.6 671.1" stroke="#0b8282" stroke-width="3" fill="none" stroke-linejoin="round" stroke-linecap="round"/>
<path d="M83.3 951.2a3 3 0 1 0 6 0a3 3 0 1 0 -6 0ZM84.2 946.0a3 3 0 1 0 6 0a3 3 0 1 0 -6 0ZM85.0 940.7a3 3 0 1 0 6 0a3 3 0 1 0 -6 0ZM85.8 935.5a3 3 0 1 0 6 0a3 3 0 1 0 -6 0ZM86.5 930.2a3 3 0 1 0 6 0a3 3 0 1 0 -6 0ZM87.2 925.0a3 3 0 1 0 6 0a3 3 0 1 0 -6 0ZM88.1 919.8a3 3 0 1 0 6 0a3 3 0 1 0 -6 0ZM89.0 914.6a3 3 0 1 0 6 0a3 3 0 1 0 -6 0ZM90.1 909.4a3 3 0 1 0 6 0a3 3 0 1 0 -6 0ZM91.3 904.2a3 3 0 1 0 6 0a3 3 0 1 0 -6 0ZM92.5 899.0a3 3 0 1 0 6 0a3 3 0 1 0 -6 0ZM93.8 893.9a3 3 0 1 0 6 0a3 3 0 1 0 -6 0ZM95.2 888.8a3 3 0 1 0 6 0a3 3 0 1 0 -6 0ZM96.7 883.7a3 3 0 1 0 6 0a3 3 0 1 0 -6 0ZM98.3 878.7a3 3 0 1 0 6 0a3 3 0 1 0 -6 0ZM100.0 873.6a3 3 0 1 0 6 0a3 3 0 1 0 -6 0ZM101.9 868.7a3 3 0 1 0 6 0a3 3 0 1 0 -6 0ZM104.4 864.0a3 3 0 1 0 6 0a3 3 0 1 0 -6 0ZM107.4 859.7a3 3 0 1 0 6 0a3 3 0 1 0 -6 0ZM110.0 855.0a3 3 0 1 0 6 0a3 3 0 1 0 -6 0ZM112.2 850.2a3 3 0 1 0 6 0a3 3 0 1 0 -6 0ZM114.4 845.4a3 3 0 1 0 6 0a3 3 0 1 0 -6 0ZM116.8 840.7a3 3 0 1 0 6 0a3 3 0 1 0 -6 0ZM119.5 836.1a3 3 0 1 0 6 0a3 3 0 1 0 -6 0ZM122.4 831.6a3 3 0 1 0 6 0a3 3 0 1 0 -6 0ZM125.5 827.4a3 3 0 1 0 6 0a3 3 0 1 0 -6 0ZM129.0 823.4a3 3 0 1 0 6 0a3 3 0 1 0 -6 0ZM132.5 819.4a3 3 0 1 0 6 0a3 3 0 1 0 -6 0ZM135.7 815.2a3 3 0 1 0 6 0a3 3 0 1 0 -6 0ZM138.8 810.9a3 3 0 1 0 6 0a3 3 0 1 0 -6 0ZM141.9 806.6a3 3 0 1 0 6 0a3 3 0 1 0 -6 0ZM145.2 802.4a3 3 0 1 0 6 0a3 3 0 1 0 -6 0ZM148.6 798.4a3 3 0 1 0 6 0a3 3 0 1 0 -6 0ZM152.2 794.5a3 3 0 1 0 6 0a3 3 0 1 0 -6 0ZM155.9 790.7a3 3 0 1 0 6 0a3 3 0 1 0 -6 0ZM159.6 786.9a3 3 0 1 0 6 0a3 3 0 1 0 -6 0ZM163.2 783.0a3 3 0 1 0 6 0a3 3 0 1 0 -6 0ZM166.8 779.1a3 3 0 1 0 6 0a3 3 0 1 0 -6 0ZM170.4 775.3a3 3 0 1 0 6 0a3 3 0 1 0 -6 0ZM174.1 771.4a3 3 0 1 0 6 0a3 3 0 1 0 -6 0ZM177.9 767.7a3 3 0 1 0 6 0a3 3 0 1 0 -6 0ZM181.9 764.2a3 3 0 1 0 6 0a3 3 0 1 0 -6 0ZM186.1 761.1a3 3 0 1 0 6 0a3 3 0 1 0 -6 0ZM190.5 758.1a3 3 0 1 0 6 0a3 3 0 1 0 -6 0ZM194.8 755.1a3 3 0 1 0 6 0a3 3 0 1 0 -6 0ZM199.2 752.1a3 3 0 1 0 6 0a3 3 0 1 0 -6 0ZM203.6 749.1a3 3 0 1 0 6 0a3 3 0 1 0 -6 0ZM207.9 746.0a3 3 0 1 0 6 0a3 3 0 1 0 -6 0ZM212.3 743.0a3 3 0 1 0 6 0a3 3 0 1 0 -6 0ZM216.6 739.9a3 3 0 1 0 6 0a3 3 0 1 0 -6 0ZM220.9 736.8a3 3 0 1 0 6 0a3 3 0 1 0 -6 0ZM225.3 733.8a3 3 0 1 0 6 0a3 3 0 1 0 -6 0ZM229.9 731.3a3 3 0 1 0 6 0a3 3 0 1 0 -6 0ZM234.8 729.2a3 3 0 1 0 6 0a3 3 0 1 0 -6 0ZM239.5 726.8a3 3 0 1 0 6 0a3 3 0 1 0 -6 0ZM244.2 724.3a3 3 0 1 0 6 0a3 3 0 1 0 -6 0ZM248.9 721.8a3 3 0 1 0 6 0a3 3 0 1 0 -6 0ZM253.6 719.4a3 3 0 1 0 6 0a3 3 0 1 0 -6 0ZM258.3 717.1a3 3 0 1 0 6 0a3 3 0 1 0 -6 0ZM263.1 714.8a3 3 0 1 0 6 0a3 3 0 1 0 -6 0ZM268.0 712.6a3 3 0 1 0 6 0a3 3 0 1 0 -6 0ZM272.9 710.6a3 3 0 1 0 6 0a3 3 0 1 0 -6 0ZM277.9 708.9a3 3 0 1 0 6 0a3 3 0 1 0 -6 0ZM282.9 707.3a3 3 0 1 0 6 0a3 3 0 1 0 -6 0ZM288.0 705.8a3 3 0 1 0 6 0a3 3 0 1 0 -6 0ZM293.1 704.4a3 3 0 1 0 6 0a3 3 0 1 0 -6 0ZM298.2 703.0a3 3 0 1 0 6 0a3 3 0 1 0 -6 0ZM303.3 701.5a3 3 0 1 0 6 0a3 3 0 1 0 -6 0ZM308.4 699.9a3 3 0 1 0 6 0a3 3 0 1 0 -6 0ZM313.4 698.1a3 3 0 1 0 6 0a3 3 0 1 0 -6 0ZM318.4 696.3a3 3 0 1 0 6 0a3 3 0 1 0 -6 0ZM323.4 694.6a3 3 0 1 0 6 0a3 3 0 1 0 -6 0ZM328.4 692.9a3 3 0 1 0 6 0a3 3 0 1 0 -6 0ZM333.5 691.4a3 3 0 1 0 6 0a3 3 0 1 0 -6 0ZM338.6 690.0a3 3 0 1 0 6 0a3 3 0 1 0 -6 0ZM343.7 688.6a3 3 0 1 0 6 0a3 3 0 1 0 -6 0ZM348.9 687.4a3 3 0 1 0 6 0a3 3 0 1 0 -6 0ZM354.0 686.2a3 3 0 1 0 6 0a3 3 0 1 0 -6 0ZM359.2 685.1a3 3 0 1 0 6 0a3 3 0 1 0 -6 0ZM364.4 684.1a3 3 0 1 0 6 0a3 3 0 1 0 -6 0ZM369.6 683.1a3 3 0 1 0 6 0a3 3 0 1 0 -6 0ZM374.8 682.2a3 3 0 1 0 6 0a3 3 0 1 0 -6 0ZM380.1 681.3a3 3 0 1 0 6 0a3 3 0 1 0 -6 0ZM385.3 680.5a3 3 0 1 0 6 0a3 3 0 1 0 -6 0ZM390.6 679.8a3 3 0 1 0 6 0a3 3 0 1 0 -6 0ZM395.8 679.1a3 3 0 1 0 6 0a3 3 0 1 0 -6 0ZM401.1 678.4a3 3 0 1 0 6 0a3 3 0 1 0 -6 0ZM406.3 677.8a3 3 0 1 0 6 0a3 3 0 1 0 -6 0ZM411.6 677.1a3 3 0 1 0 6 0a3 3 0 1 0 -6 0ZM416.8 676.3a3 3 0 1 0 6 0a3 3 0 1 0 -6 0ZM422.1 675.5a3 3 0 1 0 6 0a3 3 0 1 0 -6 0ZM427.3 674.6a3 3 0 1 0 6 0a3 3 0 1 0 -6 0ZM432.5 673.7a3 3 0 1 0 6 0a3 3 0 1 0 -6 0ZM437.7 672.9a3 3 0 1 0 6 0a3 3 0 1 0 -6 0ZM443.0 672.3a3 3 0 1 0 6 0a3 3 0 1 0 -6 0ZM448.3 671.7a3 3 0 1 0 6 0a3 3 0 1 0 -6 0ZM453.6 671.4a3 3 0 1 0 6 0a3 3 0 1 0 -6 0ZM458.9 671.2a3 3 0 1 0 6 0a3 3 0 1 0 -6 0ZM464.2 671.1a3 3 0 1 0 6 0a3 3 0 1 0 -6 0ZM469.5 671.0a3 3 0 1 0 6 0a3 3 0 1 0 -6 0ZM474.8 670.8a3 3 0 1 0 6 0a3 3 0 1 0 -6 0ZM480.1 670.6a3 3 0 1 0 6 0a3 3 0 1 0 -6 0ZM485.3 670.4a3 3 0 1 0 6 0a3 3 0 1 0 -6 0ZM490.6 670.0a3 3 0 1 0 6 0a3 3 0 1 0 -6 0ZM495.9 669.6a3 3 0 1 0 6 0a3 3 0 1 0 -6 0ZM501.2 669.3a3 3 0 1 0 6 0a3 3 0 1 0 -6 0ZM506.5 669.1a3 3 0 1 0 6 0a3 3 0 1 0 -6 0ZM511.8 669.5a3 3 0 1 0 6 0a3 3 0 1 0 -6 0ZM516.9 670.7a3 3 0 1 0 6 0a3 3 0 1 0 -6 0ZM518.6 671.1a3 3 0 1 0 6 0a3 3 0 1 0 -6 0Z" fill="#0b8282"/>
<path d="M85.0 950.6a0.65 0.65 0 1 0 1.3 0a0.65 0.65 0 1 0 -1.3 0ZM86.0 945.4a0.65 0.65 0 1 0 1.3 0a0.65 0.65 0 1 0 -1.3 0ZM86.8 940.1a0.65 0.65 0 1 0 1.3 0a0.65 0.65 0 1 0 -1.3 0ZM87.5 934.9a0.65 0.65 0 1 0 1.3 0a0.65 0.65 0 1 0 -1.3 0ZM88.2 929.6a0.65 0.65 0 1 0 1.3 0a0.65 0.65 0 1 0 -1.3 0ZM89.0 924.4a0.65 0.65 0 1 0 1.3 0a0.65 0.65 0 1 0 -1.3 0ZM89.8 919.2a0.65 0.65 0 1 0 1.3 0a0.65 0.65 0 1 0 -1.3 0ZM90.8 914.0a0.65 0.65 0 1 0 1.3 0a0.65 0.65 0 1 0 -1.3 0ZM91.9 908.8a0.65 0.65 0 1 0 1.3 0a0.65 0.65 0 1 0 -1.3 0ZM93.0 903.6a0.65 0.65 0 1 0 1.3 0a0.65 0.65 0 1 0 -1.3 0ZM94.2 898.4a0.65 0.65 0 1 0 1.3 0a0.65 0.65 0 1 0 -1.3 0ZM95.5 893.3a0.65 0.65 0 1 0 1.3 0a0.65 0.65 0 1 0 -1.3 0ZM96.9 888.2a0.65 0.65 0 1 0 1.3 0a0.65 0.65 0 1 0 -1.3 0ZM98.4 883.1a0.65 0.65 0 1 0 1.3 0a0.65 0.65 0 1 0 -1.3 0ZM100.1 878.1a0.65 0.65 0 1 0 1.3 0a0.65 0.65 0 1 0 -1.3 0ZM101.8 873.0a0.65 0.65 0 1 0 1.3 0a0.65 0.65 0 1 0 -1.3 0ZM103.7 868.1a0.65 0.65 0 1 0 1.3 0a0.65 0.65 0 1 0 -1.3 0ZM106.2 863.4a0.65 0.65 0 1 0 1.3 0a0.65 0.65 0 1 0 -1.3 0ZM109.2 859.1a0.65 0.65 0 1 0 1.3 0a0.65 0.65 0 1 0 -1.3 0ZM111.7 854.4a0.65 0.65 0 1 0 1.3 0a0.65 0.65 0 1 0 -1.3 0ZM114.0 849.6a0.65 0.65 0 1 0 1.3 0a0.65 0.65 0 1 0 -1.3 0ZM116.2 844.8a0.65 0.65 0 1 0 1.3 0a0.65 0.65 0 1 0 -1.3 0ZM118.6 840.1a0.65 0.65 0 1 0 1.3 0a0.65 0.65 0 1 0 -1.3 0ZM121.2 835.5a0.65 0.65 0 1 0 1.3 0a0.65 0.65 0 1 0 -1.3 0ZM124.1 831.0a0.65 0.65 0 1 0 1.3 0a0.65 0.65 0 1 0 -1.3 0ZM127.2 826.8a0.65 0.65 0 1 0 1.3 0a0.65 0.65 0 1 0 -1.3 0ZM130.7 822.8a0.65 0.65 0 1 0 1.3 0a0.65 0.65 0 1 0 -1.3 0ZM134.2 818.8a0.65 0.65 0 1 0 1.3 0a0.65 0.65 0 1 0 -1.3 0ZM137.5 814.6a0.65 0.65 0 1 0 1.3 0a0.65 0.65 0 1 0 -1.3 0ZM140.5 810.3a0.65 0.65 0 1 0 1.3 0a0.65 0.65 0 1 0 -1.3 0ZM143.6 806.0a0.65 0.65 0 1 0 1.3 0a0.65 0.65 0 1 0 -1.3 0ZM146.9 801.8a0.65 0.65 0 1 0 1.3 0a0.65 0.65 0 1 0 -1.3 0ZM150.3 797.8a0.65 0.65 0 1 0 1.3 0a0.65 0.65 0 1 0 -1.3 0ZM153.9 793.9a0.65 0.65 0 1 0 1.3 0a0.65 0.65 0 1 0 -1.3 0ZM157.7 790.1a0.65 0.65 0 1 0 1.3 0a0.65 0.65 0 1 0 -1.3 0ZM161.4 786.3a0.65 0.65 0 1 0 1.3 0a0.65 0.65 0 1 0 -1.3 0ZM165.0 782.4a0.65 0.65 0 1 0 1.3 0a0.65 0.65 0 1 0 -1.3 0ZM168.5 778.5a0.65 0.65 0 1 0 1.3 0a0.65 0.65 0 1 0 -1.3 0ZM172.2 774.7a0.65 0.65 0 1 0 1.3 0a0.65 0.65 0 1 0 -1.3 0ZM175.9 770.8a0.65 0.65 0 1 0 1.3 0a0.65 0.65 0 1 0 -1.3 0ZM179.6 767.1a0.65 0.65 0 1 0 1.3 0a0.65 0.65 0 1 0 -1.3 0ZM183.6 763.6a0.65 0.65 0 1 0 1.3 0a0.65 0.65 0 1 0 -1.3 0ZM187.9 760.5a0.65 0.65 0 1 0 1.3 0a0.65 0.65 0 1 0 -1.3 0ZM192.2 757.5a0.65 0.65 0 1 0 1.3 0a0.65 0.65 0 1 0 -1.3 0ZM196.6 754.5a0.65 0.65 0 1 0 1.3 0a0.65 0.65 0 1 0 -1.3 0ZM201.0 751.5a0.65 0.65 0 1 0 1.3 0a0.65 0.65 0 1 0 -1.3 0ZM205.3 748.5a0.65 0.65 0 1 0 1.3 0a0.65 0.65 0 1 0 -1.3 0ZM209.7 745.4a0.65 0.65 0 1 0 1.3 0a0.65 0.65 0 1 0 -1.3 0ZM214.0 742.4a0.65 0.65 0 1 0 1.3 0a0.65 0.65 0 1 0 -1.3 0ZM218.4 739.3a0.65 0.65 0 1 0 1.3 0a0.65 0.65 0 1 0 -1.3 0ZM222.6 736.2a0.65 0.65 0 1 0 1.3 0a0.65 0.65 0 1 0 -1.3 0ZM227.0 733.2a0.65 0.65 0 1 0 1.3 0a0.65 0.65 0 1 0 -1.3 0ZM231.7 730.7a0.65 0.65 0 1 0 1.3 0a0.65 0.65 0 1 0 -1.3 0ZM236.5 728.6a0.65 0.65 0 1 0 1.3 0a0.65 0.65 0 1 0 -1.3 0ZM241.3 726.2a0.65 0.65 0 1 0 1.3 0a0.65 0.65 0 1 0 -1.3 0ZM245.9 723.7a0.65 0.65 0 1 0 1.3 0a0.65 0.65 0 1 0 -1.3 0ZM250.6 721.2a0.65 0.65 0 1 0 1.3 0a0.65 0.65 0 1 0 -1.3 0ZM255.3 718.8a0.65 0.65 0 1 0 1.3 0a0.65 0.65 0 1 0 -1.3 0ZM260.1 716.5a0.65 0.65 0 1 0 1.3 0a0.65 0.65 0 1 0 -1.3 0ZM264.9 714.2a0.65 0.65 0 1 0 1.3 0a0.65 0.65 0 1 0 -1.3 0ZM269.7 712.0a0.65 0.65 0 1 0 1.3 0a0.65 0.65 0 1 0 -1.3 0ZM274.6 710.0a0.65 0.65 0 1 0 1.3 0a0.65 0.65 0 1 0 -1.3 0ZM279.6 708.3a0.65 0.65 0 1 0 1.3 0a0.65 0.65 0 1 0 -1.3 0ZM284.7 706.7a0.65 0.65 0 1 0 1.3 0a0.65 0.65 0 1 0 -1.3 0ZM289.8 705.2a0.65 0.65 0 1 0 1.3 0a0.65 0.65 0 1 0 -1.3 0ZM294.9 703.8a0.65 0.65 0 1 0 1.3 0a0.65 0.65 0 1 0 -1.3 0ZM300.0 702.4a0.65 0.65 0 1 0 1.3 0a0.65 0.65 0 1 0 -1.3 0ZM305.1 700.9a0.65 0.65 0 1 0 1.3 0a0.65 0.65 0 1 0 -1.3 0ZM310.1 699.3a0.65 0.65 0 1 0 1.3 0a0.65 0.65 0 1 0 -1.3 0ZM315.1 697.5a0.65 0.65 0 1 0 1.3 0a0.65 0.65 0 1 0 -1.3 0ZM320.1 695.7a0.65 0.65 0 1 0 1.3 0a0.65 0.65 0 1 0 -1.3 0ZM325.1 694.0a0.65 0.65 0 1 0 1.3 0a0.65 0.65 0 1 0 -1.3 0ZM330.1 692.3a0.65 0.65 0 1 0 1.3 0a0.65 0.65 0 1 0 -1.3 0ZM335.2 690.8a0.65 0.65 0 1 0 1.3 0a0.65 0.65 0 1 0 -1.3 0ZM340.3 689.4a0.65 0.65 0 1 0 1.3 0a0.65 0.65 0 1 0 -1.3 0ZM345.5 688.0a0.65 0.65 0 1 0 1.3 0a0.65 0.65 0 1 0 -1.3 0ZM350.6 686.8a0.65 0.65 0 1 0 1.3 0a0.65 0.65 0 1 0 -1.3 0ZM355.8 685.6a0.65 0.65 0 1 0 1.3 0a0.65 0.65 0 1 0 -1.3 0ZM361.0 684.5a0.65 0.65 0 1 0 1.3 0a0.65 0.65 0 1 0 -1.3 0ZM366.1 683.5a0.65 0.65 0 1 0 1.3 0a0.65 0.65 0 1 0 -1.3 0ZM371.4 682.5a0.65 0.65 0 1 0 1.3 0a0.65 0.65 0 1 0 -1.3 0ZM376.6 681.6a0.65 0.65 0 1 0 1.3 0a0.65 0.65 0 1 0 -1.3 0ZM381.8 680.7a0.65 0.65 0 1 0 1.3 0a0.65 0.65 0 1 0 -1.3 0ZM387.1 679.9a0.65 0.65 0 1 0 1.3 0a0.65 0.65 0 1 0 -1.3 0ZM392.3 679.2a0.65 0.65 0 1 0 1.3 0a0.65 0.65 0 1 0 -1.3 0ZM397.6 678.5a0.65 0.65 0 1 0 1.3 0a0.65 0.65 0 1 0 -1.3 0ZM402.8 677.8a0.65 0.65 0 1 0 1.3 0a0.65 0.65 0 1 0 -1.3 0ZM408.1 677.2a0.65 0.65 0 1 0 1.3 0a0.65 0.65 0 1 0 -1.3 0ZM413.3 676.5a0.65 0.65 0 1 0 1.3 0a0.65 0.65 0 1 0 -1.3 0ZM418.6 675.7a0.65 0.65 0 1 0 1.3 0a0.65 0.65 0 1 0 -1.3 0ZM423.8 674.9a0.65 0.65 0 1 0 1.3 0a0.65 0.65 0 1 0 -1.3 0ZM429.0 674.0a0.65 0.65 0 1 0 1.3 0a0.65 0.65 0 1 0 -1.3 0ZM434.3 673.1a0.65 0.65 0 1 0 1.3 0a0.65 0.65 0 1 0 -1.3 0ZM439.5 672.3a0.65 0.65 0 1 0 1.3 0a0.65 0.65 0 1 0 -1.3 0ZM444.8 671.7a0.65 0.65 0 1 0 1.3 0a0.65 0.65 0 1 0 -1.3 0ZM450.0 671.1a0.65 0.65 0 1 0 1.3 0a0.65 0.65 0 1 0 -1.3 0ZM455.3 670.8a0.65 0.65 0 1 0 1.3 0a0.65 0.65 0 1 0 -1.3 0ZM460.6 670.6a0.65 0.65 0 1 0 1.3 0a0.65 0.65 0 1 0 -1.3 0ZM465.9 670.5a0.65 0.65 0 1 0 1.3 0a0.65 0.65 0 1 0 -1.3 0ZM471.2 670.4a0.65 0.65 0 1 0 1.3 0a0.65 0.65 0 1 0 -1.3 0ZM476.5 670.2a0.65 0.65 0 1 0 1.3 0a0.65 0.65 0 1 0 -1.3 0ZM481.8 670.0a0.65 0.65 0 1 0 1.3 0a0.65 0.65 0 1 0 -1.3 0ZM487.1 669.8a0.65 0.65 0 1 0 1.3 0a0.65 0.65 0 1 0 -1.3 0ZM492.4 669.4a0.65 0.65 0 1 0 1.3 0a0.65 0.65 0 1 0 -1.3 0ZM497.7 669.0a0.65 0.65 0 1 0 1.3 0a0.65 0.65 0 1 0 -1.3 0ZM503.0 668.7a0.65 0.65 0 1 0 1.3 0a0.65 0.65 0 1 0 -1.3 0ZM508.3 668.5a0.65 0.65 0 1 0 1.3 0a0.65 0.65 0 1 0 -1.3 0ZM513.5 668.9a0.65 0.65 0 1 0 1.3 0a0.65 0.65 0 1 0 -1.3 0ZM518.7 670.1a0.65 0.65 0 1 0 1.3 0a0.65 0.65 0 1 0 -1.3 0ZM520.4 670.5a0.65 0.65 0 1 0 1.3 0a0.65 0.65 0 1 0 -1.3 0Z" fill="#c8c8f0"/>
<path d="M86.3 951.2 L87.0 950.5 L87.8 949.7 L88.5 948.6 L89.2 947.3 L90.0 945.7 L90.7 943.9 L91.5 942.0 L92.2 940.0 L92.9 938.0 L93.7 936.1 L94.4 934.2 L95.1 932.5 L95.9 930.8 L96.6 929.1 L97.3 927.4 L98.1 925.7 L98.8 924.1 L99.5 922.5 L100.3 920.9 L101.0 919.3 L101.8 917.8 L102.5 916.3 L103.2 914.8 L104.0 913.3 L104.7 911.9 L105.4 910.5 L106.2 909.0 L106.9 907.6 L107.6 906.1 L108.4 904.6 L109.1 903.0 L109.9 901.4 L110.6 899.8 L111.3 898.2 L112.1 896.6 L112.8 895.1 L113.5 893.7 L114.3 892.4 L115.0 891.2 L115.7 890.1 L116.5 889.0 L117.2 887.9 L117.9 886.9 L118.7 885.9 L119.4 884.8 L120.2 883.7 L120.9 882.5 L121.6 881.3 L122.4 880.0 L123.1 878.7 L123.8 877.3 L124.6 876.0 L125.3 874.6 L126.0 873.3 L126.8 872.0 L127.5 870.6 L128.3 869.3 L129.0 867.9 L129.7 866.5 L130.5 865.2 L131.2 863.9 L131.9 862.6 L132.7 861.5 L133.4 860.4 L134.1 859.5 L134.9 858.6 L135.6 857.7 L136.3 856.9 L137.1 856.2 L137.8 855.5 L138.6 854.8 L139.3 854.1 L140.0 853.5 L140.8 852.8 L141.5 852.2 L142.2 851.5 L143.0 850.9 L143.7 850.2 L144.4 849.5 L145.2 848.8 L145.9 848.0 L146.7 847.2 L147.4 846.4 L148.1 845.6 L148.9 844.8 L149.6 843.9 L150.3 843.1 L151.1 842.2 L151.8 841.4 L152.5 840.5 L153.3 839.7 L154.0 838.8 L154.7 838.0 L155.5 837.2 L156.2 836.4 L157.0 835.6 L157.7 834.8 L158.4 834.1 L159.2 833.3 L159.9 832.6 L160.6 831.8 L161.4 831.1 L162.1 830.4 L162.8 829.7 L163.6 829.0 L164.3 828.3 L165.1 827.6 L165.8 826.9 L166.5 826.3 L167.3 825.6 L168.0 824.9 L168.7 824.3 L169.5 823.7 L170.2 823.0 L170.9 822.4 L171.7 821.8 L172.4 821.2 L173.1 820.6 L173.9 820.0 L174.6 819.4 L175.4 818.8 L176.1 818.2 L176.8 817.7 L177.6 817.1 L178.3 816.5 L179.0 816.0 L179.8 815.4 L180.5 814.9 L181.2 814.3 L182.0 813.8 L182.7 813.3 L183.5 812.8 L184.2 812.3 L184.9 811.8 L185.7 811.3 L186.4 810.8 L187.1 810.3 L187.9 809.9 L188.6 809.5 L189.3 809.0 L190.1 808.6 L190.8 808.2 L191.5 807.7 L192.3 807.3 L193.0 806.9 L193.8 806.4 L194.5 805.9 L195.2 805.5 L196.0 805.0 L196.7 804.6 L197.4 804.2 L198.2 803.8 L198.9 803.4 L199.6 802.9 L200.4 802.4 L201.1 801.7 L201.9 801.0 L202.6 800.2 L203.3 799.1 L204.1 797.2 L204.8 794.5 L205.5 791.3 L206.3 787.9 L207.0 784.7 L207.7 781.8 L208.5 779.1 L209.2 776.4 L209.9 773.7 L210.7 771.1 L211.4 768.7 L212.2 766.4 L212.9 764.4 L213.6 762.6 L214.4 760.9 L215.1 759.3 L215.8 757.8 L216.6 756.3 L217.3 754.8 L218.0 753.3 L218.8 751.8 L219.5 750.3 L220.3 748.8 L221.0 747.3 L221.7 745.9 L222.5 744.4 L223.2 743.0 L223.9 741.5 L224.7 740.0 L225.4 738.5 L226.1 737.0 L226.9 735.5 L227.6 734.0 L228.3 732.5 L229.1 731.1 L229.8 729.9 L230.6 728.7 L231.3 727.6 L232.0 726.6 L232.8 725.6 L233.5 724.7 L234.2 723.8 L235.0 722.9 L235.7 722.1 L236.4 721.2 L237.2 720.4 L237.9 719.5 L238.7 718.7 L239.4 717.9 L240.1 717.0 L240.9 716.1 L241.6 715.2 L242.3 714.4 L243.1 713.5 L243.8 712.6 L244.5 711.8 L245.3 710.9 L246.0 710.1 L246.7 709.2 L247.5 708.4 L248.2 707.5 L249.0 706.7 L249.7 705.9 L250.4 705.0 L251.2 704.2 L251.9 703.4 L252.6 702.5 L253.4 701.7 L254.1 700.9 L254.8 700.0 L255.6 699.2 L256.3 698.4 L257.1 697.5 L257.8 696.7 L258.5 695.9 L259.3 695.1 L260.0 694.2 L260.7 693.4 L261.5 692.6 L262.2 691.8 L262.9 691.0 L263.7 690.3 L264.4 689.5 L265.1 688.8 L265.9 688.0 L266.6 687.3 L267.4 686.6 L268.1 685.9 L268.8 685.2 L269.6 684.6 L270.3 683.9 L271.0 683.2 L271.8 682.6 L272.5 681.9 L273.2 681.3 L274.0 680.7 L274.7 680.1 L275.5 679.5 L276.2 678.9 L276.9 678.3 L277.7 677.7 L278.4 677.2 L279.1 676.6 L279.9 676.0 L280.6 675.5 L281.3 674.9 L282.1 674.4 L282.8 673.9 L283.5 673.3 L284.3 672.8 L285.0 672.3 L285.8 671.8 L286.5 671.3 L287.2 670.8 L288.0 670.3 L288.7 669.8 L289.4 669.3 L290.2 668.9 L290.9 668.4 L291.6 668.0 L292.4 667.5 L293.1 667.1 L293.9 666.7 L294.6 666.3 L295.3 665.9 L296.1 665.5 L296.8 665.2 L297.5 664.8 L298.3 664.5 L299.0 664.1 L299.7 663.8 L300.5 663.5 L301.2 663.1 L301.9 662.8 L302.7 662.4 L303.4 662.1 L304.2 661.7 L304.9 661.3 L305.6 660.9 L306.4 660.5 L307.1 660.0 L307.8 659.6 L308.6 659.0 L309.3 658.4 L310.0 657.8 L310.8 657.2 L311.5 656.6 L312.3 656.0 L313.0 655.5 L313.7 655.0 L314.5 654.6 L315.2 654.3 L315.9 653.9 L316.7 653.5 L317.4 653.1 L318.1 652.8 L318.9 652.4 L319.6 652.1 L320.3 651.7 L321.1 651.4 L321.8 651.1 L322.6 650.8 L323.3 650.4 L324.0 650.1 L324.8 649.8 L325.5 649.5 L326.2 649.2 L327.0 649.0 L327.7 648.7 L328.4 648.4 L329.2 648.1 L329.9 647.9 L330.7 647.6 L331.4 647.3 L332.1 647.1 L332.9 646.8 L333.6 646.6 L334.3 646.4 L335.1 646.1 L335.8 645.9 L336.5 645.7 L337.3 645.5 L338.0 645.2 L338.7 645.0 L339.5 644.8 L340.2 644.6 L341.0 644.4 L341.7 644.2 L342.4 644.0 L343.2 643.8 L343.9 643.6 L344.6 643.4 L345.4 643.2 L346.1 643.1 L346.8 642.9 L347.6 642.7 L348.3 642.5 L349.1 642.3 L349.8 642.1 L350.5 641.9 L351.3 641.8 L352.0 641.6 L352.7 641.4 L353.5 641.2 L354.2 641.1 L354.9 640.9 L355.7 640.7 L356.4 640.6 L357.1 640.4 L357.9 640.2 L358.6 640.1 L359.4 639.9 L360.1 639.8 L360.8 639.6 L361.6 639.5 L362.3 639.4 L363.0 639.2 L363.8 639.1 L364.5 639.0 L365.2 638.9 L366.0 638.8 L366.7 638.7 L367.5 638.5 L368.2 638.4 L368.9 638.4 L369.7 638.3 L370.4 638.2 L371.1 638.1 L371.9 638.0 L372.6 638.0 L373.3 637.9 L374.1 637.8 L374.8 637.8 L375.5 637.7 L376.3 637.7 L377.0 637.6 L377.8 637.5 L378.5 637.5 L379.2 637.4 L380.0 637.4 L380.7 637.3 L381.4 637.3 L382.2 637.2 L382.9 637.1 L383.6 637.1 L384.4 637.1 L385.1 637.0 L385.9 637.0 L386.6 636.9 L387.3 636.9 L388.1 636.8 L388.8 636.8 L389.5 636.8 L390.3 636.8 L391.0 636.7 L391.7 636.7 L392.5 636.7 L393.2 636.7 L393.9 636.7 L394.7 636.7 L395.4 636.7 L396.2 636.7 L396.9 636.7 L397.6 636.8 L398.4 636.9 L399.1 637.0 L399.8 637.2 L400.6 637.3 L401.3 637.5 L402.0 637.7 L402.8 637.9 L403.5 638.1 L404.3 638.3 L405.0 638.5 L405.7 638.7 L406.5 638.9 L407.2 639.0 L407.9 639.1 L408.7 639.3 L409.4 639.4 L410.1 639.5 L410.9 639.6 L411.6 639.7 L412.3 639.8 L413.1 639.9 L413.8 640.0 L414.6 640.1 L415.3 640.2 L416.0 640.3 L416.8 640.4 L417.5 640.4" stroke="#ff11ff" stroke-width="3" fill="none" stroke-linejoin="round" stroke-linecap="round"/>
<path d="M86.3 955.6L81.9 947.7L90.7 947.7ZM91.7 945.9L87.3 938.0L96.1 938.0ZM96.4 934.0L92.0 926.1L100.8 926.1ZM101.6 922.4L97.2 914.5L106.0 914.5ZM107.4 911.0L103.0 903.1L111.8 903.1ZM112.8 899.5L108.4 891.6L117.2 891.6ZM118.6 890.3L114.2 882.4L123.0 882.4ZM124.4 880.6L120.0 872.7L128.8 872.7ZM130.2 870.0L125.8 862.1L134.6 862.1ZM136.0 861.7L131.6 853.8L140.4 853.8ZM141.8 856.3L137.4 848.4L146.2 848.4ZM147.6 850.6L143.2 842.7L152.0 842.7ZM153.4 843.9L149.0 836.0L157.8 836.0ZM159.2 837.7L154.8 829.8L163.6 829.8ZM165.0 832.0L160.6 824.1L169.4 824.1ZM170.8 826.9L166.4 819.0L175.2 819.0ZM176.6 822.2L172.2 814.3L181.0 814.3ZM182.4 817.9L178.0 810.0L186.8 810.0ZM188.2 814.1L183.8 806.2L192.6 806.2ZM194.0 810.6L189.6 802.7L198.4 802.7ZM199.8 807.2L195.4 799.2L204.2 799.2ZM204.8 798.7L200.4 790.8L209.2 790.8ZM207.7 786.3L203.3 778.4L212.1 778.4ZM211.1 774.0L206.7 766.1L215.5 766.1ZM215.8 762.1L211.4 754.2L220.2 754.2ZM221.5 750.7L217.1 742.8L225.9 742.8ZM227.2 739.3L222.8 731.4L231.6 731.4ZM232.9 729.8L228.5 721.9L237.3 721.9ZM238.7 723.0L234.3 715.1L243.1 715.1ZM244.5 716.2L240.1 708.2L248.9 708.2ZM250.3 709.5L245.9 701.6L254.7 701.6ZM256.1 703.0L251.7 695.0L260.5 695.0ZM261.9 696.5L257.5 688.6L266.3 688.6ZM267.7 690.7L263.3 682.7L272.1 682.7ZM273.5 685.5L269.1 677.5L277.9 677.5ZM279.3 680.8L274.9 672.9L283.7 672.9ZM285.1 676.6L280.7 668.7L289.5 668.7ZM290.9 672.8L286.5 664.9L295.3 664.9ZM296.7 669.6L292.3 661.7L301.1 661.7ZM302.5 666.9L298.1 659.0L306.9 659.0ZM308.3 663.6L303.9 655.7L312.7 655.7ZM314.1 659.2L309.7 651.3L318.5 651.3ZM319.9 656.3L315.5 648.4L324.3 648.4ZM325.7 653.8L321.3 645.9L330.1 645.9ZM331.5 651.7L327.1 643.8L335.9 643.8ZM337.3 649.8L332.9 641.9L341.7 641.9ZM343.1 648.2L338.7 640.3L347.5 640.3ZM348.9 646.7L344.5 638.8L353.3 638.8ZM354.7 645.3L350.3 637.4L359.1 637.4ZM360.5 644.1L356.1 636.2L364.9 636.2ZM366.3 643.1L361.9 635.2L370.7 635.2ZM372.1 642.4L367.7 634.5L376.5 634.5ZM377.9 641.9L373.5 634.0L382.3 634.0ZM383.7 641.5L379.3 633.6L388.1 633.6ZM389.5 641.2L385.1 633.3L393.9 633.3ZM395.3 641.1L390.9 633.1L399.7 633.1ZM401.1 641.9L396.7 634.0L405.5 634.0ZM406.9 643.4L402.5 635.5L411.3 635.5ZM412.7 644.3L408.3 636.3L417.1 636.3ZM417.5 644.8L413.1 636.9L421.9 636.9Z" fill="#ff11ff"/>
<path d="M86.3 951.2 L87.0 945.5 L87.8 940.3 L88.5 935.9 L89.2 932.3 L90.0 929.5 L90.7 927.1 L91.5 925.0 L92.2 923.0 L92.9 921.0 L93.7 919.0 L94.4 917.2 L95.1 915.5 L95.9 913.8 L96.6 912.4 L97.3 911.0 L98.1 909.8 L98.8 908.5 L99.5 907.4 L100.3 906.3 L101.0 905.3 L101.8 904.4 L102.5 903.6 L103.2 902.8 L104.0 902.1 L104.7 901.5 L105.4 900.9 L106.2 900.3 L106.9 899.7 L107.6 899.2 L108.4 898.7 L109.1 898.1 L109.9 897.6 L110.6 897.1 L111.3 896.6 L112.1 896.1 L112.8 895.6 L113.5 895.1 L114.3 894.6 L115.0 894.1 L115.7 893.6 L116.5 893.2 L117.2 892.7 L117.9 892.3 L118.7 891.9 L119.4 891.5 L120.2 891.1 L120.9 890.7 L121.6 890.3 L122.4 890.0 L123.1 889.6 L123.8 889.2 L124.6 888.9 L125.3 888.5 L126.0 888.2 L126.8 887.9 L127.5 887.6 L128.3 887.3 L129.0 887.0 L129.7 886.7 L130.5 886.4 L131.2 886.1 L131.9 885.9 L132.7 885.7 L133.4 885.4 L134.1 885.2 L134.9 885.0 L135.6 884.7 L136.3 884.5 L137.1 884.3 L137.8 884.1 L138.6 883.9 L139.3 883.7 L140.0 883.5 L140.8 883.3 L141.5 883.2 L142.2 883.0 L143.0 882.8 L143.7 882.6 L144.4 882.5 L145.2 882.3 L145.9 882.2 L146.7 882.0 L147.4 881.9 L148.1 881.7 L148.9 881.6 L149.6 881.4 L150.3 881.3 L151.1 881.1 L151.8 881.0 L152.5 880.9 L153.3 880.8 L154.0 880.6 L154.7 880.5 L155.5 880.4 L156.2 880.3 L157.0 880.1 L157.7 880.0 L158.4 879.9 L159.2 879.8 L159.9 879.7 L160.6 879.6 L161.4 879.4 L162.1 879.3 L162.8 879.2 L163.6 879.1 L164.3 879.0 L165.1 878.9 L165.8 878.7 L166.5 878.6 L167.3 878.5 L168.0 878.4 L168.7 878.3 L169.5 878.2 L170.2 878.1 L170.9 877.9 L171.7 877.8 L172.4 877.7 L173.1 877.6 L173.9 877.5 L174.6 877.4 L175.4 877.3 L176.1 877.2 L176.8 877.1 L177.6 877.0 L178.3 876.9 L179.0 876.7 L179.8 876.6 L180.5 876.5 L181.2 876.4 L182.0 876.3 L182.7 876.2 L183.5 876.1 L184.2 876.0 L184.9 875.9 L185.7 875.8 L186.4 875.7 L187.1 875.5 L187.9 875.4 L188.6 875.3 L189.3 875.2 L190.1 875.0 L190.8 874.9 L191.5 874.8 L192.3 874.7 L193.0 874.5 L193.8 874.4 L194.5 874.3 L195.2 874.2 L196.0 874.1 L196.7 873.9 L197.4 873.8 L198.2 873.7 L198.9 873.6 L199.6 873.5 L200.4 873.3 L201.1 873.2 L201.9 873.1 L202.6 873.0 L203.3 872.9 L204.1 872.8 L204.8 872.7 L205.5 872.6 L206.3 872.6 L207.0 872.5 L207.7 872.4 L208.5 872.3 L209.2 872.3 L209.9 872.2 L210.7 872.1 L211.4 872.1 L212.2 872.0 L212.9 871.9 L213.6 871.9 L214.4 871.8 L215.1 871.7 L215.8 871.7 L216.6 871.6 L217.3 871.5 L218.0 871.5 L218.8 871.4 L219.5 871.4 L220.3 871.3 L221.0 871.3 L221.7 871.2 L222.5 871.2 L223.2 871.1 L223.9 871.1 L224.7 871.0 L225.4 871.0 L226.1 870.9 L226.9 870.9 L227.6 870.9 L228.3 870.8 L229.1 870.8 L229.8 870.7 L230.6 870.7 L231.3 870.7 L232.0 870.7 L232.8 870.6 L233.5 870.6 L234.2 870.6 L235.0 870.6 L235.7 870.5 L236.4 870.5 L237.2 870.5 L237.9 870.5 L238.7 870.4 L239.4 870.4 L240.1 870.4 L240.9 870.4 L241.6 870.4 L242.3 870.4 L243.1 870.3 L243.8 870.3 L244.5 870.3 L245.3 870.3 L246.0 870.3 L246.7 870.2 L247.5 870.2 L248.2 870.2 L249.0 870.2 L249.7 870.2 L250.4 870.2 L251.2 870.2 L251.9 870.1 L252.6 870.1 L253.4 870.1 L254.1 870.1 L254.8 870.1 L255.6 870.1 L256.3 870.1 L257.1 870.1 L257.8 870.0 L258.5 870.0 L259.3 870.0 L260.0 870.0 L260.7 870.0 L261.5 870.0 L262.2 870.0 L262.9 870.0 L263.7 869.9 L264.4 869.9 L265.1 869.9 L265.9 869.9 L266.6 869.9 L267.4 869.9 L268.1 869.9 L268.8 869.9 L269.6 869.9 L270.3 869.9 L271.0 869.8 L271.8 869.8 L272.5 869.8 L273.2 869.8 L274.0 869.8 L274.7 869.8 L275.5 869.8 L276.2 869.8 L276.9 869.8 L277.7 869.8 L278.4 869.7 L279.1 869.7 L279.9 869.7 L280.6 869.7 L281.3 869.7 L282.1 869.7 L282.8 869.7 L283.5 869.7 L284.3 869.7 L285.0 869.7 L285.8 869.6 L286.5 869.6 L287.2 869.6 L288.0 869.6 L288.7 869.6 L289.4 869.6 L290.2 869.6 L290.9 869.6 L291.6 869.6 L292.4 869.5 L293.1 869.5 L293.9 869.5 L294.6 869.5 L295.3 869.5 L296.1 869.5 L296.8 869.5 L297.5 869.5 L298.3 869.4 L299.0 869.4 L299.7 869.4 L300.5 869.4 L301.2 869.4 L301.9 869.4 L302.7 869.4 L303.4 869.3 L304.2 869.3 L304.9 869.3 L305.6 869.3 L306.4 869.3 L307.1 869.3 L307.8 869.2 L308.6 869.2 L309.3 869.2 L310.0 869.2 L310.8 869.2 L311.5 869.1 L312.3 869.1 L313.0 869.1 L313.7 869.1 L314.5 869.1 L315.2 869.0 L315.9 869.0 L316.7 869.0 L317.4 869.0 L318.1 869.0 L318.9 868.9 L319.6 868.9 L320.3 868.9 L321.1 868.9 L321.8 868.9 L322.6 868.8 L323.3 868.8 L324.0 868.8 L324.8 868.8 L325.5 868.7 L326.2 868.7 L327.0 868.7 L327.7 868.7 L328.4 868.7 L329.2 868.6 L329.9 868.6 L330.7 868.6 L331.4 868.6 L332.1 868.5 L332.9 868.5 L333.6 868.5 L334.3 868.5 L335.1 868.4 L335.8 868.4 L336.5 868.4 L337.3 868.4 L338.0 868.3 L338.7 868.3 L339.5 868.3 L340.2 868.3 L341.0 868.2 L341.7 868.2 L342.4 868.2 L343.2 868.2 L343.9 868.1 L344.6 868.1 L345.4 868.1 L346.1 868.1 L346.8 868.0 L347.6 868.0 L348.3 868.0 L349.1 868.0 L349.8 867.9 L350.5 867.9 L351.3 867.9 L352.0 867.8 L352.7 867.8 L353.5 867.8 L354.2 867.8 L354.9 867.7 L355.7 867.7 L356.4 867.7 L357.1 867.7 L357.9 867.6 L358.6 867.6 L359.4 867.6 L360.1 867.5 L360.8 867.5 L361.6 867.5 L362.3 867.4 L363.0 867.4 L363.8 867.4 L364.5 867.4 L365.2 867.3 L366.0 867.3 L366.7 867.3 L367.5 867.2 L368.2 867.2 L368.9 867.2 L369.7 867.2 L370.4 867.1 L371.1 867.1 L371.9 867.1 L372.6 867.0 L373.3 867.0 L374.1 867.0 L374.8 866.9 L375.5 866.9 L376.3 866.9 L377.0 866.8 L377.8 866.8 L378.5 866.8 L379.2 866.7 L380.0 866.7 L380.7 866.7 L381.4 866.6 L382.2 866.6 L382.9 866.6 L383.6 866.5 L384.4 866.5 L385.1 866.5 L385.9 866.4 L386.6 866.4 L387.3 866.3 L388.1 866.3 L388.8 866.2 L389.5 866.2 L390.3 866.1 L391.0 866.1 L391.7 866.0 L392.5 866.0 L393.2 865.9 L393.9 865.9 L394.7 865.8 L395.4 865.8 L396.2 865.7 L396.9 865.7 L397.6 865.6 L398.4 865.6 L399.1 865.5 L399.8 865.5 L400.6 865.4 L401.3 865.4 L402.0 865.3 L402.8 865.2 L403.5 865.2 L404.3 865.1 L405.0 865.1 L405.7 865.0 L406.5 865.0 L407.2 864.9 L407.9 864.9 L408.7 864.8 L409.4 864.8 L410.1 864.7 L410.9 864.7 L411.6 864.6 L412.3 864.6 L413.1 864.5 L413.8 864.5 L414.6 864.4 L415.3 864.4 L416.0 864.3 L416.8 864.3 L417.5 864.3 L418.2 864.2 L419.0 864.2 L419.7 864.2 L420.4 864.1 L421.2 864.1 L421.9 864.1 L422.7 864.0 L423.4 864.0 L424.1 864.0 L424.9 864.0 L425.6 863.9 L426.3 863.9 L427.1 863.9 L427.8 863.9 L428.5 863.9 L429.3 863.9 L430.0 863.8 L430.7 863.8 L431.5 863.8 L432.2 863.8 L433.0 863.8 L433.7 863.9 L434.4 863.9 L435.2 863.9 L435.9 863.9 L436.6 863.9 L437.4 863.9 L438.1 864.0 L438.8 864.0 L439.6 864.0 L440.3 864.1 L441.1 864.1 L441.8 864.2 L442.5 864.2 L443.3 864.2 L444.0 864.3 L444.7 864.3 L445.5 864.4 L446.2 864.5 L446.9 864.5 L447.7 864.6 L448.4 864.6 L449.1 864.7 L449.9 864.7 L450.6 864.8 L451.4 864.9 L452.1 864.9" stroke="#000" stroke-width="3" fill="none" stroke-linejoin="round" stroke-linecap="round"/>
<path d="M84.3 951.2h4M86.3 948.7v5M84.8 947.2h4M86.8 944.7v5M85.3 943.3h4M87.3 940.8v5M85.9 939.3h4M87.9 936.8v5M86.6 935.4h4M88.6 932.9v5M87.5 931.5h4M89.5 929.0v5M88.6 927.6h4M90.6 925.1v5M89.9 923.8h4M91.9 921.3v5M91.3 920.1h4M93.3 917.6v5M92.7 916.4h4M94.7 913.9v5M94.4 912.7h4M96.4 910.2v5M96.4 909.3h4M98.4 906.8v5M98.6 905.9h4M100.6 903.4v5M101.2 902.9h4M103.2 900.4v5M104.2 900.3h4M106.2 897.8v5M107.4 897.9h4M109.4 895.4v5M110.7 895.6h4M112.7 893.1v5M114.1 893.4h4M116.1 890.9v5M117.5 891.4h4M119.5 888.9v5M121.1 889.6h4M123.1 887.1v5M124.7 887.9h4M126.7 885.4v5M128.4 886.4h4M130.4 883.9v5M132.2 885.2h4M134.2 882.7v5M136.1 884.0h4M138.1 881.5v5M139.9 883.1h4M141.9 880.6v5M143.8 882.2h4M145.8 879.7v5M147.8 881.4h4M149.8 878.9v5M151.7 880.7h4M153.7 878.2v5M155.6 880.0h4M157.6 877.5v5M159.6 879.4h4M161.6 876.9v5M163.5 878.8h4M165.5 876.3v5M167.5 878.2h4M169.5 875.7v5M171.4 877.6h4M173.4 875.1v5M175.4 877.0h4M177.4 874.5v5M179.4 876.4h4M181.4 873.9v5M183.3 875.8h4M185.3 873.3v5M187.3 875.2h4M189.3 872.7v5M191.2 874.5h4M193.2 872.0v5M195.2 873.9h4M197.2 871.4v5M199.1 873.2h4M201.1 870.7v5M203.1 872.7h4M205.1 870.2v5M207.0 872.3h4M209.0 869.8v5M211.0 871.9h4M213.0 869.4v5M215.0 871.6h4M217.0 869.1v5M219.0 871.3h4M221.0 868.8v5M223.0 871.0h4M225.0 868.5v5M227.0 870.8h4M229.0 868.3v5M231.0 870.6h4M233.0 868.1v5M235.0 870.5h4M237.0 868.0v5M239.0 870.4h4M241.0 867.9v5M243.0 870.3h4M245.0 867.8v5M247.0 870.2h4M249.0 867.7v5M251.0 870.1h4M253.0 867.6v5M255.0 870.1h4M257.0 867.6v5M259.0 870.0h4M261.0 867.5v5M263.0 869.9h4M265.0 867.4v5M267.0 869.9h4M269.0 867.4v5M271.0 869.8h4M273.0 867.3v5M275.0 869.8h4M277.0 867.3v5M279.0 869.7h4M281.0 867.2v5M283.0 869.7h4M285.0 867.2v5M287.0 869.6h4M289.0 867.1v5M291.0 869.5h4M293.0 867.0v5M295.0 869.5h4M297.0 867.0v5M299.0 869.4h4M301.0 866.9v5M303.0 869.3h4M305.0 866.8v5M307.0 869.2h4M309.0 866.7v5M311.0 869.1h4M313.0 866.6v5M315.0 869.0h4M317.0 866.5v5M319.0 868.9h4M321.0 866.4v5M323.0 868.8h4M325.0 866.3v5M327.0 868.6h4M329.0 866.1v5M331.0 868.5h4M333.0 866.0v5M335.0 868.4h4M337.0 865.9v5M339.0 868.2h4M341.0 865.7v5M343.0 868.1h4M345.0 865.6v5M347.0 868.0h4M349.0 865.5v5M351.0 867.8h4M353.0 865.3v5M354.9 867.7h4M356.9 865.2v5M358.9 867.5h4M360.9 865.0v5M362.9 867.3h4M364.9 864.8v5M366.9 867.2h4M368.9 864.7v5M370.9 867.0h4M372.9 864.5v5M374.9 866.8h4M376.9 864.3v5M378.9 866.7h4M380.9 864.2v5M382.9 866.5h4M384.9 864.0v5M386.9 866.2h4M388.9 863.7v5M390.9 866.0h4M392.9 863.5v5M394.9 865.7h4M396.9 863.2v5M398.9 865.4h4M400.9 862.9v5M402.9 865.1h4M404.9 862.6v5M406.9 864.8h4M408.9 862.3v5M410.9 864.5h4M412.9 862.0v5M414.8 864.3h4M416.8 861.8v5M418.8 864.1h4M420.8 861.6v5M422.8 864.0h4M424.8 861.5v5M426.8 863.9h4M428.8 861.4v5M430.8 863.8h4M432.8 861.3v5M434.8 863.9h4M436.8 861.4v5M438.8 864.1h4M440.8 861.6v5M442.8 864.4h4M444.8 861.9v5M446.8 864.7h4M448.8 862.2v5M450.1 864.9h4M452.1 862.4v5" stroke="#000" stroke-width="1" fill="none"/>
</g>
<g font-family="Liberation Sans, sans-serif" font-weight="bold" font-size="12.8" fill="#111"><text x="76.4" y="954.5" text-anchor="end">0</text><text x="76.4" y="886.9" text-anchor="end">50</text><text x="76.4" y="819.3" text-anchor="end" textLength="23.2" lengthAdjust="spacingAndGlyphs">100</text><text x="76.4" y="751.7" text-anchor="end" textLength="23.2" lengthAdjust="spacingAndGlyphs">150</text><text x="76.4" y="684.0" text-anchor="end" textLength="23.2" lengthAdjust="spacingAndGlyphs">200</text><text x="76.4" y="616.4" text-anchor="end" textLength="23.2" lengthAdjust="spacingAndGlyphs">250</text><text x="76.4" y="548.8" text-anchor="end" textLength="23.2" lengthAdjust="spacingAndGlyphs">300</text><text x="86.3" y="970" text-anchor="middle">0</text><text x="159.9" y="970" text-anchor="middle">2</text><text x="233.5" y="970" text-anchor="middle">4</text><text x="307.1" y="970" text-anchor="middle">6</text><text x="380.7" y="970" text-anchor="middle">8</text><text x="454.3" y="970" text-anchor="middle" textLength="14.6" lengthAdjust="spacingAndGlyphs">10</text><text x="527.9" y="970" text-anchor="middle" textLength="14.6" lengthAdjust="spacingAndGlyphs">12</text><text x="601.5" y="970" text-anchor="middle" textLength="14.6" lengthAdjust="spacingAndGlyphs">14</text><text x="675.1" y="970" text-anchor="middle" textLength="14.6" lengthAdjust="spacingAndGlyphs">16</text></g>
<text x="289.0" y="993.2" font-family="Liberation Sans, sans-serif" font-weight="bold" font-size="16.8" fill="#111" textLength="152" lengthAdjust="spacingAndGlyphs" xml:space="preserve">shear strain <tspan font-family="Liberation Serif, serif" font-weight="normal">γ</tspan>  (%)</text>
<text transform="translate(41.0 818.7) rotate(-90)" font-family="Liberation Sans, sans-serif" font-weight="bold" font-size="18.3" fill="#111" textLength="164.4" lengthAdjust="spacingAndGlyphs" xml:space="preserve">Shear stress <tspan font-family="Liberation Serif, serif" font-weight="normal">τ</tspan> (kPa)</text>
<rect x="499.2" y="546.4" width="173.3" height="92.20000000000005" fill="#fff" stroke="#a0a0a0" stroke-width="1"/>
<path d="M511.3 563.3H543.9" stroke="#ff1111" stroke-width="3.4" stroke-linecap="round"/>
<path d="M527.6 559.1L531.8 563.3L527.6 567.5L523.4 563.3Z" fill="#ff1111"/>
<text x="548.3" y="568.2" font-family="Liberation Sans, sans-serif" font-weight="bold" font-size="13.5" fill="#111" textLength="27.3" lengthAdjust="spacingAndGlyphs">10%</text>
<text x="586.4" y="568.2" font-family="Liberation Sans, sans-serif" font-weight="bold" font-size="13.5" fill="#111" textLength="76.4" lengthAdjust="spacingAndGlyphs">Waste tires</text>
<path d="M511.3 580.7H543.9" stroke="#0a0afa" stroke-width="3.4" stroke-linecap="round"/>
<path d="M523.4 580.7L531.0 576.5L531.0 584.9Z" fill="#0a0afa"/>
<text x="548.3" y="585.6" font-family="Liberation Sans, sans-serif" font-weight="bold" font-size="13.5" fill="#111" textLength="27.3" lengthAdjust="spacingAndGlyphs">20%</text>
<text x="586.4" y="585.6" font-family="Liberation Sans, sans-serif" font-weight="bold" font-size="13.5" fill="#111" textLength="76.4" lengthAdjust="spacingAndGlyphs">Waste tires</text>
<path d="M511.3 598.0H543.9" stroke="#0b8282" stroke-width="3.4" stroke-linecap="round"/>
<path d="M523.4 598.0a4.2 4.2 0 1 0 8.4 0a4.2 4.2 0 1 0 -8.4 0Z" fill="#0b8282"/>
<circle cx="527.1" cy="597.5" r="0.8" fill="#dde"/>
<text x="548.3" y="602.9" font-family="Liberation Sans, sans-serif" font-weight="bold" font-size="13.5" fill="#111" textLength="27.3" lengthAdjust="spacingAndGlyphs">30%</text>
<text x="586.4" y="602.9" font-family="Liberation Sans, sans-serif" font-weight="bold" font-size="13.5" fill="#111" textLength="76.4" lengthAdjust="spacingAndGlyphs">Waste tires</text>
<path d="M511.3 614.7H543.9" stroke="#ff11ff" stroke-width="3.4" stroke-linecap="round"/>
<path d="M527.6 618.9L523.4 611.3L531.8 611.3Z" fill="#ff11ff"/>
<text x="548.3" y="619.6" font-family="Liberation Sans, sans-serif" font-weight="bold" font-size="13.5" fill="#111" textLength="27.3" lengthAdjust="spacingAndGlyphs">40%</text>
<text x="586.4" y="619.6" font-family="Liberation Sans, sans-serif" font-weight="bold" font-size="13.5" fill="#111" textLength="76.4" lengthAdjust="spacingAndGlyphs">Waste tires</text>
<path d="M511.3 632.2H543.9" stroke="#000" stroke-width="3.4" stroke-linecap="round"/>
<path d="M527.6 628.7v7M524.6 630.2l6 4M524.6 634.2l6 -4" stroke="#000" stroke-width="1.1"/>
<text x="548.3" y="637.1" font-family="Liberation Sans, sans-serif" font-weight="bold" font-size="13.5" fill="#111" textLength="119.2" lengthAdjust="spacingAndGlyphs" xml:space="preserve">Unreinforced soil</text>
<text x="317.6" y="1041.8" font-family="Liberation Serif, serif" font-size="30" fill="#111">b)</text>
</svg>
</body></html>
